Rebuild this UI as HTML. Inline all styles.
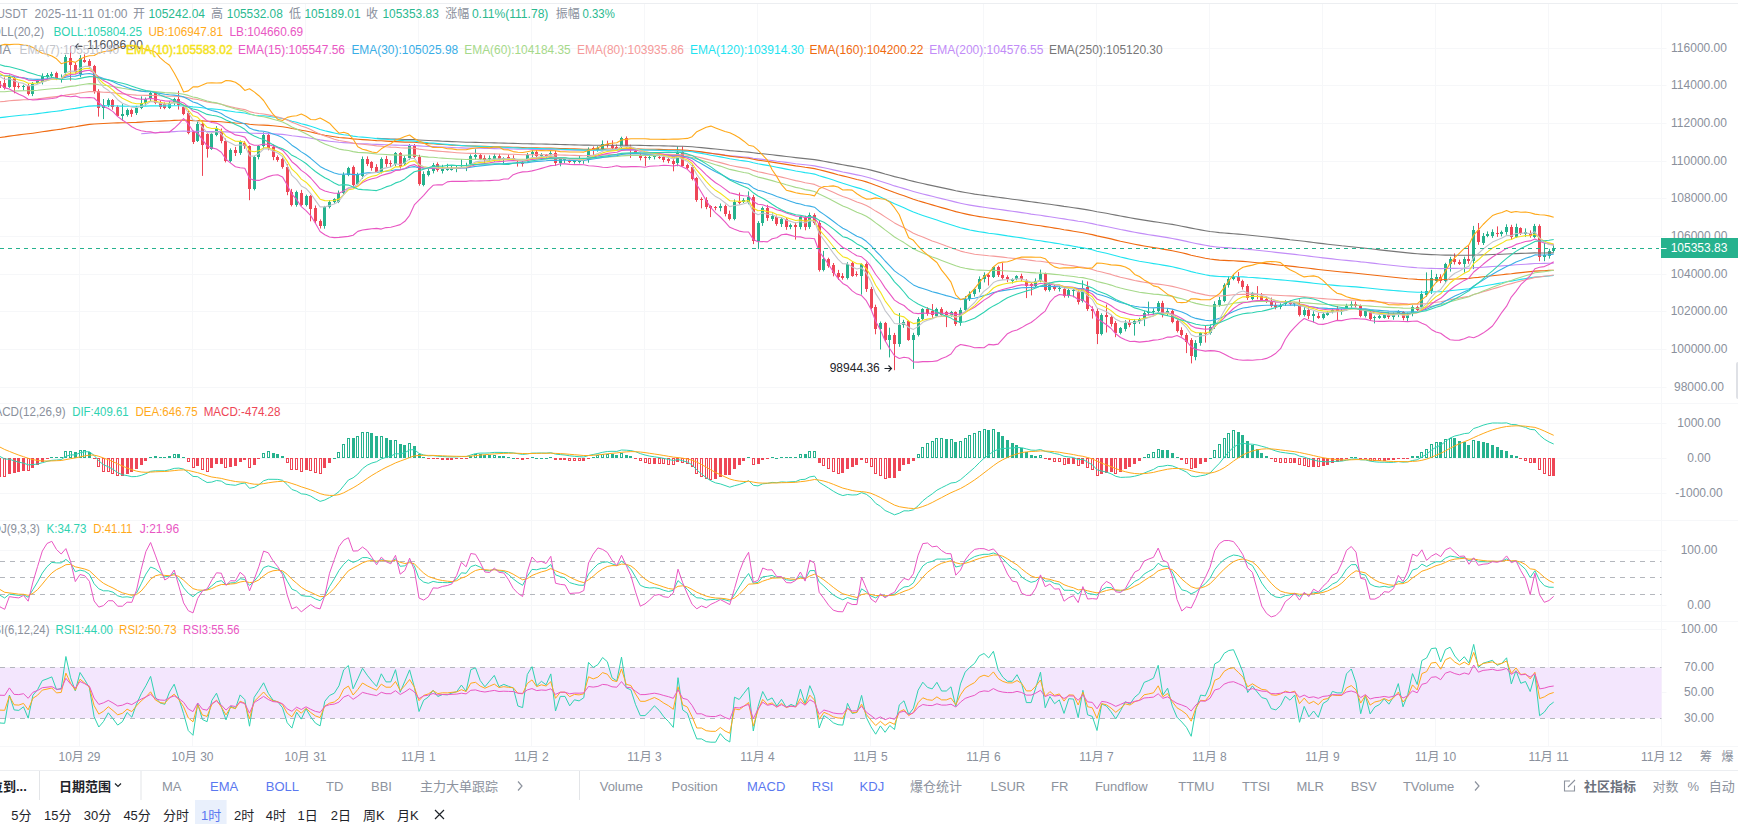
<!DOCTYPE html>
<html><head><meta charset="utf-8"><style>
html,body{margin:0;padding:0;background:#fff;}
body{width:1738px;height:824px;overflow:hidden;position:relative;}
</style></head><body>
<svg width="1738" height="824" viewBox="0 0 1738 824" style="position:absolute;left:0;top:0"><line x1="79.5" y1="4" x2="79.5" y2="746" stroke="#f6f7f9" stroke-width="1"/><line x1="192.5" y1="4" x2="192.5" y2="746" stroke="#f6f7f9" stroke-width="1"/><line x1="305.5" y1="4" x2="305.5" y2="746" stroke="#f6f7f9" stroke-width="1"/><line x1="418.5" y1="4" x2="418.5" y2="746" stroke="#f6f7f9" stroke-width="1"/><line x1="531.5" y1="4" x2="531.5" y2="746" stroke="#f6f7f9" stroke-width="1"/><line x1="644.5" y1="4" x2="644.5" y2="746" stroke="#f6f7f9" stroke-width="1"/><line x1="757.5" y1="4" x2="757.5" y2="746" stroke="#f6f7f9" stroke-width="1"/><line x1="870.5" y1="4" x2="870.5" y2="746" stroke="#f6f7f9" stroke-width="1"/><line x1="983.5" y1="4" x2="983.5" y2="746" stroke="#f6f7f9" stroke-width="1"/><line x1="1096.5" y1="4" x2="1096.5" y2="746" stroke="#f6f7f9" stroke-width="1"/><line x1="1209.5" y1="4" x2="1209.5" y2="746" stroke="#f6f7f9" stroke-width="1"/><line x1="1322.5" y1="4" x2="1322.5" y2="746" stroke="#f6f7f9" stroke-width="1"/><line x1="1435.5" y1="4" x2="1435.5" y2="746" stroke="#f6f7f9" stroke-width="1"/><line x1="1548.5" y1="4" x2="1548.5" y2="746" stroke="#f6f7f9" stroke-width="1"/><line x1="0" y1="48.5" x2="1666.5" y2="48.5" stroke="#f6f7f9" stroke-width="1"/><line x1="0" y1="85.5" x2="1666.5" y2="85.5" stroke="#f6f7f9" stroke-width="1"/><line x1="0" y1="123.5" x2="1666.5" y2="123.5" stroke="#f6f7f9" stroke-width="1"/><line x1="0" y1="161.5" x2="1666.5" y2="161.5" stroke="#f6f7f9" stroke-width="1"/><line x1="0" y1="198.5" x2="1666.5" y2="198.5" stroke="#f6f7f9" stroke-width="1"/><line x1="0" y1="236.5" x2="1666.5" y2="236.5" stroke="#f6f7f9" stroke-width="1"/><line x1="0" y1="274.5" x2="1666.5" y2="274.5" stroke="#f6f7f9" stroke-width="1"/><line x1="0" y1="311.5" x2="1666.5" y2="311.5" stroke="#f6f7f9" stroke-width="1"/><line x1="0" y1="349.5" x2="1666.5" y2="349.5" stroke="#f6f7f9" stroke-width="1"/><line x1="0" y1="387.5" x2="1666.5" y2="387.5" stroke="#f6f7f9" stroke-width="1"/><line x1="0" y1="423.5" x2="1666.5" y2="423.5" stroke="#f6f7f9" stroke-width="1"/><line x1="0" y1="458.5" x2="1666.5" y2="458.5" stroke="#f6f7f9" stroke-width="1"/><line x1="0" y1="493.5" x2="1666.5" y2="493.5" stroke="#f6f7f9" stroke-width="1"/><line x1="0" y1="550.5" x2="1666.5" y2="550.5" stroke="#f6f7f9" stroke-width="1"/><line x1="0" y1="605.5" x2="1666.5" y2="605.5" stroke="#f6f7f9" stroke-width="1"/><line x1="0" y1="629.5" x2="1666.5" y2="629.5" stroke="#f6f7f9" stroke-width="1"/><line x1="0" y1="692.5" x2="1666.5" y2="692.5" stroke="#f6f7f9" stroke-width="1"/><line x1="0" y1="403.5" x2="1738" y2="403.5" stroke="#f6f7f9" stroke-width="1"/><line x1="0" y1="520.5" x2="1738" y2="520.5" stroke="#f6f7f9" stroke-width="1"/><line x1="0" y1="621.5" x2="1738" y2="621.5" stroke="#f6f7f9" stroke-width="1"/><line x1="0" y1="746.5" x2="1738" y2="746.5" stroke="#f6f7f9" stroke-width="1"/><line x1="0" y1="3.5" x2="1738" y2="3.5" stroke="#eceef1" stroke-width="1"/><line x1="0" y1="770.5" x2="1738" y2="770.5" stroke="#eceef1" stroke-width="1"/><line x1="1661.5" y1="4" x2="1661.5" y2="746" stroke="#f6f7f9" stroke-width="1"/><rect x="0" y="667.4" width="1661.5" height="50.9" fill="#f3e6fd"/><line x1="0" y1="561.5" x2="1661.5" y2="561.5" stroke="#b4b7bd" stroke-width="1" stroke-dasharray="5,5"/><line x1="0" y1="577.5" x2="1661.5" y2="577.5" stroke="#b4b7bd" stroke-width="1" stroke-dasharray="5,5"/><line x1="0" y1="594.5" x2="1661.5" y2="594.5" stroke="#b4b7bd" stroke-width="1" stroke-dasharray="5,5"/><line x1="0" y1="667.5" x2="1661.5" y2="667.5" stroke="#b4b7bd" stroke-width="1" stroke-dasharray="5,5"/><line x1="0" y1="718.5" x2="1661.5" y2="718.5" stroke="#b4b7bd" stroke-width="1" stroke-dasharray="5,5"/><defs><clipPath id="cm"><rect x="0" y="4" width="1661.5" height="399"/></clipPath><clipPath id="cmacd"><rect x="0" y="404" width="1661.5" height="116"/></clipPath><clipPath id="ckdj"><rect x="0" y="521" width="1661.5" height="100"/></clipPath><clipPath id="crsi"><rect x="0" y="622" width="1661.5" height="124"/></clipPath></defs><g clip-path="url(#cm)"><line x1="-9.5" y1="72.1" x2="-9.5" y2="90.3" stroke="#ee4656" stroke-width="1"/><rect x="-11.0" y="74" width="3" height="9" fill="#ee4656"/><line x1="-4.5" y1="80.1" x2="-4.5" y2="85.2" stroke="#26b28e" stroke-width="1"/><rect x="-6.0" y="81" width="3" height="2" fill="#26b28e"/><line x1="-0.5" y1="79.8" x2="-0.5" y2="90.0" stroke="#ee4656" stroke-width="1"/><rect x="-2.0" y="81" width="3" height="7" fill="#ee4656"/><line x1="4.5" y1="77.4" x2="4.5" y2="89.6" stroke="#ee4656" stroke-width="1"/><rect x="3.0" y="83" width="3" height="5" fill="#ee4656"/><line x1="9.5" y1="74.5" x2="9.5" y2="87.9" stroke="#26b28e" stroke-width="1"/><rect x="8.0" y="77" width="3" height="10" fill="#26b28e"/><line x1="14.5" y1="76.8" x2="14.5" y2="93.3" stroke="#ee4656" stroke-width="1"/><rect x="13.0" y="78" width="3" height="9" fill="#ee4656"/><line x1="18.5" y1="83.1" x2="18.5" y2="88.5" stroke="#ee4656" stroke-width="1"/><rect x="17.0" y="86" width="3" height="1" fill="#ee4656"/><line x1="23.5" y1="84.8" x2="23.5" y2="90.4" stroke="#26b28e" stroke-width="1"/><rect x="22.0" y="86" width="3" height="1" fill="#26b28e"/><line x1="28.5" y1="83.7" x2="28.5" y2="95.4" stroke="#ee4656" stroke-width="1"/><rect x="27.0" y="86" width="3" height="8" fill="#ee4656"/><line x1="32.5" y1="82.0" x2="32.5" y2="96.1" stroke="#26b28e" stroke-width="1"/><rect x="31.0" y="84" width="3" height="10" fill="#26b28e"/><line x1="37.5" y1="79.5" x2="37.5" y2="83.7" stroke="#26b28e" stroke-width="1"/><rect x="36.0" y="81" width="3" height="2" fill="#26b28e"/><line x1="42.5" y1="73.4" x2="42.5" y2="84.4" stroke="#26b28e" stroke-width="1"/><rect x="41.0" y="76" width="3" height="6" fill="#26b28e"/><line x1="47.5" y1="73.0" x2="47.5" y2="79.7" stroke="#26b28e" stroke-width="1"/><rect x="46.0" y="75" width="3" height="2" fill="#26b28e"/><line x1="51.5" y1="71.9" x2="51.5" y2="78.8" stroke="#26b28e" stroke-width="1"/><rect x="50.0" y="74" width="3" height="2" fill="#26b28e"/><line x1="56.5" y1="71.7" x2="56.5" y2="80.1" stroke="#ee4656" stroke-width="1"/><rect x="55.0" y="73" width="3" height="5" fill="#ee4656"/><line x1="61.5" y1="74.4" x2="61.5" y2="82.6" stroke="#26b28e" stroke-width="1"/><rect x="60.0" y="78" width="3" height="1" fill="#26b28e"/><line x1="65.5" y1="54.8" x2="65.5" y2="75.0" stroke="#26b28e" stroke-width="1"/><rect x="64.0" y="57" width="3" height="16" fill="#26b28e"/><line x1="70.5" y1="46.1" x2="70.5" y2="80.6" stroke="#ee4656" stroke-width="1"/><rect x="69.0" y="58" width="3" height="7" fill="#ee4656"/><line x1="75.5" y1="62.4" x2="75.5" y2="73.7" stroke="#ee4656" stroke-width="1"/><rect x="74.0" y="65" width="3" height="7" fill="#ee4656"/><line x1="80.5" y1="55.1" x2="80.5" y2="77.1" stroke="#26b28e" stroke-width="1"/><rect x="79.0" y="58" width="3" height="16" fill="#26b28e"/><line x1="84.5" y1="54.4" x2="84.5" y2="62.8" stroke="#ee4656" stroke-width="1"/><rect x="83.0" y="60" width="3" height="2" fill="#ee4656"/><line x1="89.5" y1="59.1" x2="89.5" y2="67.5" stroke="#ee4656" stroke-width="1"/><rect x="88.0" y="61" width="3" height="5" fill="#ee4656"/><line x1="94.5" y1="64.9" x2="94.5" y2="93.7" stroke="#ee4656" stroke-width="1"/><rect x="93.0" y="66" width="3" height="25" fill="#ee4656"/><line x1="98.5" y1="89.2" x2="98.5" y2="116.6" stroke="#ee4656" stroke-width="1"/><rect x="97.0" y="91" width="3" height="17" fill="#ee4656"/><line x1="103.5" y1="99.0" x2="103.5" y2="119.1" stroke="#26b28e" stroke-width="1"/><rect x="102.0" y="105" width="3" height="3" fill="#26b28e"/><line x1="108.5" y1="98.4" x2="108.5" y2="107.1" stroke="#26b28e" stroke-width="1"/><rect x="107.0" y="100" width="3" height="5" fill="#26b28e"/><line x1="112.5" y1="99.0" x2="112.5" y2="109.7" stroke="#ee4656" stroke-width="1"/><rect x="111.0" y="100" width="3" height="7" fill="#ee4656"/><line x1="117.5" y1="105.4" x2="117.5" y2="116.6" stroke="#ee4656" stroke-width="1"/><rect x="116.0" y="107" width="3" height="9" fill="#ee4656"/><line x1="122.5" y1="104.1" x2="122.5" y2="120.6" stroke="#26b28e" stroke-width="1"/><rect x="121.0" y="114" width="3" height="2" fill="#26b28e"/><line x1="127.5" y1="108.5" x2="127.5" y2="116.6" stroke="#26b28e" stroke-width="1"/><rect x="126.0" y="110" width="3" height="5" fill="#26b28e"/><line x1="131.5" y1="108.6" x2="131.5" y2="116.9" stroke="#ee4656" stroke-width="1"/><rect x="130.0" y="110" width="3" height="4" fill="#ee4656"/><line x1="136.5" y1="105.9" x2="136.5" y2="115.0" stroke="#26b28e" stroke-width="1"/><rect x="135.0" y="108" width="3" height="5" fill="#26b28e"/><line x1="141.5" y1="96.4" x2="141.5" y2="109.2" stroke="#26b28e" stroke-width="1"/><rect x="140.0" y="103" width="3" height="5" fill="#26b28e"/><line x1="145.5" y1="97.5" x2="145.5" y2="105.6" stroke="#26b28e" stroke-width="1"/><rect x="144.0" y="99" width="3" height="4" fill="#26b28e"/><line x1="150.5" y1="91.1" x2="150.5" y2="101.2" stroke="#26b28e" stroke-width="1"/><rect x="149.0" y="93" width="3" height="6" fill="#26b28e"/><line x1="155.5" y1="92.0" x2="155.5" y2="104.2" stroke="#ee4656" stroke-width="1"/><rect x="154.0" y="93" width="3" height="10" fill="#ee4656"/><line x1="160.5" y1="100.4" x2="160.5" y2="109.0" stroke="#ee4656" stroke-width="1"/><rect x="159.0" y="103" width="3" height="4" fill="#ee4656"/><line x1="164.5" y1="102.4" x2="164.5" y2="109.2" stroke="#ee4656" stroke-width="1"/><rect x="163.0" y="104" width="3" height="4" fill="#ee4656"/><line x1="169.5" y1="101.4" x2="169.5" y2="108.9" stroke="#26b28e" stroke-width="1"/><rect x="168.0" y="103" width="3" height="5" fill="#26b28e"/><line x1="174.5" y1="97.8" x2="174.5" y2="105.2" stroke="#26b28e" stroke-width="1"/><rect x="173.0" y="99" width="3" height="4" fill="#26b28e"/><line x1="178.5" y1="90.9" x2="178.5" y2="109.6" stroke="#ee4656" stroke-width="1"/><rect x="177.0" y="99" width="3" height="6" fill="#ee4656"/><line x1="183.5" y1="104.9" x2="183.5" y2="115.2" stroke="#ee4656" stroke-width="1"/><rect x="182.0" y="107" width="3" height="7" fill="#ee4656"/><line x1="188.5" y1="110.9" x2="188.5" y2="134.3" stroke="#ee4656" stroke-width="1"/><rect x="187.0" y="113" width="3" height="20" fill="#ee4656"/><line x1="193.5" y1="130.6" x2="193.5" y2="144.0" stroke="#ee4656" stroke-width="1"/><rect x="192.0" y="132" width="3" height="10" fill="#ee4656"/><line x1="197.5" y1="121.4" x2="197.5" y2="142.0" stroke="#26b28e" stroke-width="1"/><rect x="196.0" y="124" width="3" height="17" fill="#26b28e"/><line x1="202.5" y1="121.6" x2="202.5" y2="175.9" stroke="#ee4656" stroke-width="1"/><rect x="201.0" y="124" width="3" height="21" fill="#ee4656"/><line x1="207.5" y1="133.2" x2="207.5" y2="157.6" stroke="#ee4656" stroke-width="1"/><rect x="206.0" y="134" width="3" height="15" fill="#ee4656"/><line x1="211.5" y1="132.7" x2="211.5" y2="149.9" stroke="#26b28e" stroke-width="1"/><rect x="210.0" y="134" width="3" height="15" fill="#26b28e"/><line x1="216.5" y1="126.1" x2="216.5" y2="136.3" stroke="#26b28e" stroke-width="1"/><rect x="215.0" y="128" width="3" height="7" fill="#26b28e"/><line x1="221.5" y1="128.5" x2="221.5" y2="143.3" stroke="#ee4656" stroke-width="1"/><rect x="220.0" y="131" width="3" height="10" fill="#ee4656"/><line x1="225.5" y1="138.5" x2="225.5" y2="162.4" stroke="#ee4656" stroke-width="1"/><rect x="224.0" y="141" width="3" height="20" fill="#ee4656"/><line x1="230.5" y1="148.4" x2="230.5" y2="162.5" stroke="#26b28e" stroke-width="1"/><rect x="229.0" y="150" width="3" height="11" fill="#26b28e"/><line x1="235.5" y1="146.9" x2="235.5" y2="156.0" stroke="#ee4656" stroke-width="1"/><rect x="234.0" y="150" width="3" height="3" fill="#ee4656"/><line x1="240.5" y1="140.4" x2="240.5" y2="154.9" stroke="#26b28e" stroke-width="1"/><rect x="239.0" y="142" width="3" height="11" fill="#26b28e"/><line x1="244.5" y1="141.2" x2="244.5" y2="148.9" stroke="#ee4656" stroke-width="1"/><rect x="243.0" y="143" width="3" height="3" fill="#ee4656"/><line x1="249.5" y1="145.4" x2="249.5" y2="200.2" stroke="#ee4656" stroke-width="1"/><rect x="248.0" y="146" width="3" height="43" fill="#ee4656"/><line x1="254.5" y1="155.6" x2="254.5" y2="190.4" stroke="#26b28e" stroke-width="1"/><rect x="253.0" y="157" width="3" height="32" fill="#26b28e"/><line x1="258.5" y1="145.0" x2="258.5" y2="159.4" stroke="#26b28e" stroke-width="1"/><rect x="257.0" y="146" width="3" height="11" fill="#26b28e"/><line x1="263.5" y1="132.3" x2="263.5" y2="148.5" stroke="#26b28e" stroke-width="1"/><rect x="262.0" y="135" width="3" height="11" fill="#26b28e"/><line x1="268.5" y1="132.4" x2="268.5" y2="150.3" stroke="#ee4656" stroke-width="1"/><rect x="267.0" y="135" width="3" height="13" fill="#ee4656"/><line x1="273.5" y1="144.4" x2="273.5" y2="160.2" stroke="#ee4656" stroke-width="1"/><rect x="272.0" y="147" width="3" height="10" fill="#ee4656"/><line x1="277.5" y1="155.4" x2="277.5" y2="161.8" stroke="#ee4656" stroke-width="1"/><rect x="276.0" y="157" width="3" height="3" fill="#ee4656"/><line x1="282.5" y1="157.6" x2="282.5" y2="168.7" stroke="#ee4656" stroke-width="1"/><rect x="281.0" y="159" width="3" height="8" fill="#ee4656"/><line x1="287.5" y1="164.2" x2="287.5" y2="195.2" stroke="#ee4656" stroke-width="1"/><rect x="286.0" y="167" width="3" height="25" fill="#ee4656"/><line x1="291.5" y1="188.9" x2="291.5" y2="206.4" stroke="#ee4656" stroke-width="1"/><rect x="290.0" y="192" width="3" height="13" fill="#ee4656"/><line x1="296.5" y1="190.6" x2="296.5" y2="206.7" stroke="#26b28e" stroke-width="1"/><rect x="295.0" y="192" width="3" height="13" fill="#26b28e"/><line x1="301.5" y1="189.9" x2="301.5" y2="205.9" stroke="#ee4656" stroke-width="1"/><rect x="300.0" y="193" width="3" height="12" fill="#ee4656"/><line x1="306.5" y1="194.6" x2="306.5" y2="206.4" stroke="#26b28e" stroke-width="1"/><rect x="305.0" y="196" width="3" height="9" fill="#26b28e"/><line x1="310.5" y1="195.0" x2="310.5" y2="221.3" stroke="#ee4656" stroke-width="1"/><rect x="309.0" y="196" width="3" height="13" fill="#ee4656"/><line x1="315.5" y1="205.5" x2="315.5" y2="223.0" stroke="#ee4656" stroke-width="1"/><rect x="314.0" y="208" width="3" height="13" fill="#ee4656"/><line x1="320.5" y1="219.4" x2="320.5" y2="228.5" stroke="#ee4656" stroke-width="1"/><rect x="319.0" y="221" width="3" height="5" fill="#ee4656"/><line x1="324.5" y1="205.9" x2="324.5" y2="228.7" stroke="#26b28e" stroke-width="1"/><rect x="323.0" y="207" width="3" height="19" fill="#26b28e"/><line x1="329.5" y1="200.1" x2="329.5" y2="208.4" stroke="#26b28e" stroke-width="1"/><rect x="328.0" y="202" width="3" height="5" fill="#26b28e"/><line x1="334.5" y1="198.2" x2="334.5" y2="203.6" stroke="#26b28e" stroke-width="1"/><rect x="333.0" y="199" width="3" height="3" fill="#26b28e"/><line x1="338.5" y1="190.5" x2="338.5" y2="203.1" stroke="#26b28e" stroke-width="1"/><rect x="337.0" y="193" width="3" height="9" fill="#26b28e"/><line x1="343.5" y1="172.3" x2="343.5" y2="194.5" stroke="#26b28e" stroke-width="1"/><rect x="342.0" y="175" width="3" height="18" fill="#26b28e"/><line x1="348.5" y1="166.8" x2="348.5" y2="176.2" stroke="#26b28e" stroke-width="1"/><rect x="347.0" y="168" width="3" height="7" fill="#26b28e"/><line x1="353.5" y1="165.5" x2="353.5" y2="188.4" stroke="#ee4656" stroke-width="1"/><rect x="352.0" y="167" width="3" height="18" fill="#ee4656"/><line x1="357.5" y1="172.7" x2="357.5" y2="185.1" stroke="#26b28e" stroke-width="1"/><rect x="356.0" y="174" width="3" height="10" fill="#26b28e"/><line x1="362.5" y1="156.5" x2="362.5" y2="179.0" stroke="#26b28e" stroke-width="1"/><rect x="361.0" y="159" width="3" height="17" fill="#26b28e"/><line x1="367.5" y1="156.4" x2="367.5" y2="166.1" stroke="#ee4656" stroke-width="1"/><rect x="366.0" y="159" width="3" height="5" fill="#ee4656"/><line x1="371.5" y1="161.2" x2="371.5" y2="170.7" stroke="#ee4656" stroke-width="1"/><rect x="370.0" y="162" width="3" height="6" fill="#ee4656"/><line x1="376.5" y1="164.2" x2="376.5" y2="172.9" stroke="#ee4656" stroke-width="1"/><rect x="375.0" y="167" width="3" height="5" fill="#ee4656"/><line x1="381.5" y1="157.4" x2="381.5" y2="173.4" stroke="#26b28e" stroke-width="1"/><rect x="380.0" y="159" width="3" height="13" fill="#26b28e"/><line x1="386.5" y1="155.9" x2="386.5" y2="166.9" stroke="#ee4656" stroke-width="1"/><rect x="385.0" y="159" width="3" height="5" fill="#ee4656"/><line x1="390.5" y1="160.3" x2="390.5" y2="167.0" stroke="#ee4656" stroke-width="1"/><rect x="389.0" y="163" width="3" height="1" fill="#ee4656"/><line x1="395.5" y1="152.0" x2="395.5" y2="166.3" stroke="#26b28e" stroke-width="1"/><rect x="394.0" y="153" width="3" height="11" fill="#26b28e"/><line x1="400.5" y1="152.1" x2="400.5" y2="168.5" stroke="#ee4656" stroke-width="1"/><rect x="399.0" y="153" width="3" height="14" fill="#ee4656"/><line x1="404.5" y1="156.1" x2="404.5" y2="165.7" stroke="#26b28e" stroke-width="1"/><rect x="403.0" y="158" width="3" height="6" fill="#26b28e"/><line x1="409.5" y1="144.0" x2="409.5" y2="160.1" stroke="#26b28e" stroke-width="1"/><rect x="408.0" y="146" width="3" height="12" fill="#26b28e"/><line x1="414.5" y1="144.0" x2="414.5" y2="158.5" stroke="#ee4656" stroke-width="1"/><rect x="413.0" y="146" width="3" height="11" fill="#ee4656"/><line x1="419.5" y1="154.8" x2="419.5" y2="185.7" stroke="#ee4656" stroke-width="1"/><rect x="418.0" y="157" width="3" height="27" fill="#ee4656"/><line x1="423.5" y1="171.4" x2="423.5" y2="186.3" stroke="#26b28e" stroke-width="1"/><rect x="422.0" y="174" width="3" height="11" fill="#26b28e"/><line x1="428.5" y1="168.3" x2="428.5" y2="176.4" stroke="#26b28e" stroke-width="1"/><rect x="427.0" y="171" width="3" height="4" fill="#26b28e"/><line x1="433.5" y1="162.9" x2="433.5" y2="173.4" stroke="#26b28e" stroke-width="1"/><rect x="432.0" y="165" width="3" height="6" fill="#26b28e"/><line x1="437.5" y1="162.4" x2="437.5" y2="171.7" stroke="#ee4656" stroke-width="1"/><rect x="436.0" y="164" width="3" height="6" fill="#ee4656"/><line x1="442.5" y1="164.8" x2="442.5" y2="173.5" stroke="#26b28e" stroke-width="1"/><rect x="441.0" y="169" width="3" height="2" fill="#26b28e"/><line x1="447.5" y1="163.8" x2="447.5" y2="170.8" stroke="#26b28e" stroke-width="1"/><rect x="446.0" y="169" width="3" height="1" fill="#26b28e"/><line x1="451.5" y1="165.0" x2="451.5" y2="170.6" stroke="#26b28e" stroke-width="1"/><rect x="450.0" y="168" width="3" height="2" fill="#26b28e"/><line x1="456.5" y1="165.4" x2="456.5" y2="172.2" stroke="#26b28e" stroke-width="1"/><rect x="455.0" y="168" width="3" height="1" fill="#26b28e"/><line x1="461.5" y1="159.3" x2="461.5" y2="167.4" stroke="#26b28e" stroke-width="1"/><rect x="460.0" y="165" width="3" height="1" fill="#26b28e"/><line x1="466.5" y1="162.7" x2="466.5" y2="171.1" stroke="#26b28e" stroke-width="1"/><rect x="465.0" y="167" width="3" height="1" fill="#26b28e"/><line x1="470.5" y1="154.4" x2="470.5" y2="166.1" stroke="#26b28e" stroke-width="1"/><rect x="469.0" y="156" width="3" height="8" fill="#26b28e"/><line x1="475.5" y1="149.2" x2="475.5" y2="159.4" stroke="#26b28e" stroke-width="1"/><rect x="474.0" y="155" width="3" height="2" fill="#26b28e"/><line x1="480.5" y1="153.7" x2="480.5" y2="159.7" stroke="#ee4656" stroke-width="1"/><rect x="479.0" y="155" width="3" height="4" fill="#ee4656"/><line x1="484.5" y1="155.3" x2="484.5" y2="163.1" stroke="#ee4656" stroke-width="1"/><rect x="483.0" y="158" width="3" height="2" fill="#ee4656"/><line x1="489.5" y1="155.4" x2="489.5" y2="161.1" stroke="#26b28e" stroke-width="1"/><rect x="488.0" y="158" width="3" height="1" fill="#26b28e"/><line x1="494.5" y1="153.7" x2="494.5" y2="161.7" stroke="#26b28e" stroke-width="1"/><rect x="493.0" y="156" width="3" height="3" fill="#26b28e"/><line x1="499.5" y1="153.8" x2="499.5" y2="160.4" stroke="#ee4656" stroke-width="1"/><rect x="498.0" y="156" width="3" height="3" fill="#ee4656"/><line x1="503.5" y1="157.2" x2="503.5" y2="163.6" stroke="#26b28e" stroke-width="1"/><rect x="502.0" y="158" width="3" height="1" fill="#26b28e"/><line x1="508.5" y1="154.5" x2="508.5" y2="160.1" stroke="#ee4656" stroke-width="1"/><rect x="507.0" y="157" width="3" height="2" fill="#ee4656"/><line x1="513.5" y1="155.3" x2="513.5" y2="160.5" stroke="#ee4656" stroke-width="1"/><rect x="512.0" y="158" width="3" height="1" fill="#ee4656"/><line x1="517.5" y1="160.8" x2="517.5" y2="166.6" stroke="#ee4656" stroke-width="1"/><rect x="516.0" y="162" width="3" height="1" fill="#ee4656"/><line x1="522.5" y1="159.8" x2="522.5" y2="166.6" stroke="#ee4656" stroke-width="1"/><rect x="521.0" y="163" width="3" height="1" fill="#ee4656"/><line x1="527.5" y1="153.0" x2="527.5" y2="161.3" stroke="#26b28e" stroke-width="1"/><rect x="526.0" y="155" width="3" height="4" fill="#26b28e"/><line x1="532.5" y1="150.3" x2="532.5" y2="157.0" stroke="#26b28e" stroke-width="1"/><rect x="531.0" y="152" width="3" height="2" fill="#26b28e"/><line x1="536.5" y1="150.2" x2="536.5" y2="159.0" stroke="#ee4656" stroke-width="1"/><rect x="535.0" y="152" width="3" height="4" fill="#ee4656"/><line x1="541.5" y1="153.1" x2="541.5" y2="158.1" stroke="#26b28e" stroke-width="1"/><rect x="540.0" y="155" width="3" height="1" fill="#26b28e"/><line x1="546.5" y1="154.0" x2="546.5" y2="157.8" stroke="#ee4656" stroke-width="1"/><rect x="545.0" y="155" width="3" height="1" fill="#ee4656"/><line x1="550.5" y1="150.4" x2="550.5" y2="156.3" stroke="#26b28e" stroke-width="1"/><rect x="549.0" y="153" width="3" height="1" fill="#26b28e"/><line x1="555.5" y1="150.8" x2="555.5" y2="166.0" stroke="#ee4656" stroke-width="1"/><rect x="554.0" y="153" width="3" height="10" fill="#ee4656"/><line x1="560.5" y1="157.0" x2="560.5" y2="166.3" stroke="#26b28e" stroke-width="1"/><rect x="559.0" y="159" width="3" height="4" fill="#26b28e"/><line x1="564.5" y1="157.9" x2="564.5" y2="163.2" stroke="#26b28e" stroke-width="1"/><rect x="563.0" y="159" width="3" height="1" fill="#26b28e"/><line x1="569.5" y1="159.3" x2="569.5" y2="163.2" stroke="#ee4656" stroke-width="1"/><rect x="568.0" y="161" width="3" height="1" fill="#ee4656"/><line x1="574.5" y1="158.4" x2="574.5" y2="163.7" stroke="#26b28e" stroke-width="1"/><rect x="573.0" y="161" width="3" height="1" fill="#26b28e"/><line x1="579.5" y1="155.6" x2="579.5" y2="163.4" stroke="#26b28e" stroke-width="1"/><rect x="578.0" y="161" width="3" height="1" fill="#26b28e"/><line x1="583.5" y1="158.6" x2="583.5" y2="163.8" stroke="#26b28e" stroke-width="1"/><rect x="582.0" y="160" width="3" height="1" fill="#26b28e"/><line x1="588.5" y1="147.4" x2="588.5" y2="162.7" stroke="#26b28e" stroke-width="1"/><rect x="587.0" y="149" width="3" height="11" fill="#26b28e"/><line x1="593.5" y1="146.5" x2="593.5" y2="155.4" stroke="#ee4656" stroke-width="1"/><rect x="592.0" y="148" width="3" height="2" fill="#ee4656"/><line x1="597.5" y1="146.2" x2="597.5" y2="151.7" stroke="#26b28e" stroke-width="1"/><rect x="596.0" y="148" width="3" height="2" fill="#26b28e"/><line x1="602.5" y1="140.4" x2="602.5" y2="149.8" stroke="#26b28e" stroke-width="1"/><rect x="601.0" y="144" width="3" height="5" fill="#26b28e"/><line x1="607.5" y1="140.7" x2="607.5" y2="147.6" stroke="#ee4656" stroke-width="1"/><rect x="606.0" y="144" width="3" height="1" fill="#ee4656"/><line x1="612.5" y1="140.4" x2="612.5" y2="150.0" stroke="#ee4656" stroke-width="1"/><rect x="611.0" y="145" width="3" height="3" fill="#ee4656"/><line x1="616.5" y1="144.5" x2="616.5" y2="149.9" stroke="#ee4656" stroke-width="1"/><rect x="615.0" y="147" width="3" height="2" fill="#ee4656"/><line x1="621.5" y1="136.7" x2="621.5" y2="148.2" stroke="#26b28e" stroke-width="1"/><rect x="620.0" y="138" width="3" height="9" fill="#26b28e"/><line x1="626.5" y1="136.4" x2="626.5" y2="147.6" stroke="#ee4656" stroke-width="1"/><rect x="625.0" y="138" width="3" height="9" fill="#ee4656"/><line x1="630.5" y1="144.7" x2="630.5" y2="157.9" stroke="#ee4656" stroke-width="1"/><rect x="629.0" y="147" width="3" height="1" fill="#ee4656"/><line x1="635.5" y1="148.0" x2="635.5" y2="153.8" stroke="#ee4656" stroke-width="1"/><rect x="634.0" y="151" width="3" height="2" fill="#ee4656"/><line x1="640.5" y1="152.8" x2="640.5" y2="160.4" stroke="#ee4656" stroke-width="1"/><rect x="639.0" y="156" width="3" height="2" fill="#ee4656"/><line x1="645.5" y1="156.1" x2="645.5" y2="166.2" stroke="#ee4656" stroke-width="1"/><rect x="644.0" y="157" width="3" height="1" fill="#ee4656"/><line x1="649.5" y1="155.5" x2="649.5" y2="159.7" stroke="#26b28e" stroke-width="1"/><rect x="648.0" y="157" width="3" height="1" fill="#26b28e"/><line x1="654.5" y1="153.7" x2="654.5" y2="159.4" stroke="#26b28e" stroke-width="1"/><rect x="653.0" y="156" width="3" height="1" fill="#26b28e"/><line x1="659.5" y1="155.5" x2="659.5" y2="159.1" stroke="#ee4656" stroke-width="1"/><rect x="658.0" y="157" width="3" height="1" fill="#ee4656"/><line x1="663.5" y1="154.5" x2="663.5" y2="162.3" stroke="#ee4656" stroke-width="1"/><rect x="662.0" y="157" width="3" height="3" fill="#ee4656"/><line x1="668.5" y1="157.1" x2="668.5" y2="163.2" stroke="#ee4656" stroke-width="1"/><rect x="667.0" y="159" width="3" height="2" fill="#ee4656"/><line x1="673.5" y1="158.5" x2="673.5" y2="171.3" stroke="#ee4656" stroke-width="1"/><rect x="672.0" y="161" width="3" height="3" fill="#ee4656"/><line x1="677.5" y1="146.4" x2="677.5" y2="166.3" stroke="#26b28e" stroke-width="1"/><rect x="676.0" y="152" width="3" height="11" fill="#26b28e"/><line x1="682.5" y1="146.4" x2="682.5" y2="166.6" stroke="#ee4656" stroke-width="1"/><rect x="681.0" y="152" width="3" height="14" fill="#ee4656"/><line x1="687.5" y1="163.6" x2="687.5" y2="169.4" stroke="#ee4656" stroke-width="1"/><rect x="686.0" y="165" width="3" height="3" fill="#ee4656"/><line x1="692.5" y1="165.0" x2="692.5" y2="180.4" stroke="#ee4656" stroke-width="1"/><rect x="691.0" y="167" width="3" height="12" fill="#ee4656"/><line x1="696.5" y1="176.9" x2="696.5" y2="201.8" stroke="#ee4656" stroke-width="1"/><rect x="695.0" y="178" width="3" height="22" fill="#ee4656"/><line x1="701.5" y1="197.3" x2="701.5" y2="208.3" stroke="#ee4656" stroke-width="1"/><rect x="700.0" y="199" width="3" height="1" fill="#ee4656"/><line x1="706.5" y1="197.2" x2="706.5" y2="209.2" stroke="#ee4656" stroke-width="1"/><rect x="705.0" y="200" width="3" height="7" fill="#ee4656"/><line x1="710.5" y1="205.3" x2="710.5" y2="217.1" stroke="#ee4656" stroke-width="1"/><rect x="709.0" y="206" width="3" height="2" fill="#ee4656"/><line x1="715.5" y1="206.0" x2="715.5" y2="210.3" stroke="#ee4656" stroke-width="1"/><rect x="714.0" y="207" width="3" height="1" fill="#ee4656"/><line x1="720.5" y1="203.5" x2="720.5" y2="211.3" stroke="#26b28e" stroke-width="1"/><rect x="719.0" y="206" width="3" height="2" fill="#26b28e"/><line x1="725.5" y1="204.6" x2="725.5" y2="216.4" stroke="#ee4656" stroke-width="1"/><rect x="724.0" y="206" width="3" height="8" fill="#ee4656"/><line x1="729.5" y1="210.6" x2="729.5" y2="220.4" stroke="#ee4656" stroke-width="1"/><rect x="728.0" y="214" width="3" height="5" fill="#ee4656"/><line x1="734.5" y1="199.4" x2="734.5" y2="220.3" stroke="#26b28e" stroke-width="1"/><rect x="733.0" y="202" width="3" height="17" fill="#26b28e"/><line x1="739.5" y1="192.6" x2="739.5" y2="204.5" stroke="#ee4656" stroke-width="1"/><rect x="738.0" y="202" width="3" height="1" fill="#ee4656"/><line x1="743.5" y1="198.2" x2="743.5" y2="203.0" stroke="#26b28e" stroke-width="1"/><rect x="742.0" y="200" width="3" height="2" fill="#26b28e"/><line x1="748.5" y1="191.4" x2="748.5" y2="204.3" stroke="#26b28e" stroke-width="1"/><rect x="747.0" y="197" width="3" height="5" fill="#26b28e"/><line x1="753.5" y1="194.8" x2="753.5" y2="244.1" stroke="#ee4656" stroke-width="1"/><rect x="752.0" y="197" width="3" height="44" fill="#ee4656"/><line x1="758.5" y1="221.1" x2="758.5" y2="249.1" stroke="#26b28e" stroke-width="1"/><rect x="757.0" y="223" width="3" height="18" fill="#26b28e"/><line x1="762.5" y1="206.5" x2="762.5" y2="225.9" stroke="#26b28e" stroke-width="1"/><rect x="761.0" y="208" width="3" height="15" fill="#26b28e"/><line x1="767.5" y1="204.9" x2="767.5" y2="220.9" stroke="#ee4656" stroke-width="1"/><rect x="766.0" y="208" width="3" height="10" fill="#ee4656"/><line x1="772.5" y1="213.5" x2="772.5" y2="221.0" stroke="#26b28e" stroke-width="1"/><rect x="771.0" y="216" width="3" height="3" fill="#26b28e"/><line x1="776.5" y1="215.5" x2="776.5" y2="225.8" stroke="#ee4656" stroke-width="1"/><rect x="775.0" y="217" width="3" height="7" fill="#ee4656"/><line x1="781.5" y1="217.9" x2="781.5" y2="227.0" stroke="#26b28e" stroke-width="1"/><rect x="780.0" y="219" width="3" height="5" fill="#26b28e"/><line x1="786.5" y1="217.8" x2="786.5" y2="229.8" stroke="#ee4656" stroke-width="1"/><rect x="785.0" y="219" width="3" height="8" fill="#ee4656"/><line x1="790.5" y1="223.5" x2="790.5" y2="229.2" stroke="#26b28e" stroke-width="1"/><rect x="789.0" y="225" width="3" height="2" fill="#26b28e"/><line x1="795.5" y1="222.5" x2="795.5" y2="239.6" stroke="#ee4656" stroke-width="1"/><rect x="794.0" y="225" width="3" height="2" fill="#ee4656"/><line x1="800.5" y1="215.7" x2="800.5" y2="229.3" stroke="#26b28e" stroke-width="1"/><rect x="799.0" y="217" width="3" height="10" fill="#26b28e"/><line x1="805.5" y1="215.7" x2="805.5" y2="230.3" stroke="#ee4656" stroke-width="1"/><rect x="804.0" y="217" width="3" height="10" fill="#ee4656"/><line x1="809.5" y1="212.6" x2="809.5" y2="228.9" stroke="#26b28e" stroke-width="1"/><rect x="808.0" y="215" width="3" height="12" fill="#26b28e"/><line x1="814.5" y1="213.3" x2="814.5" y2="224.7" stroke="#ee4656" stroke-width="1"/><rect x="813.0" y="215" width="3" height="8" fill="#ee4656"/><line x1="819.5" y1="220.7" x2="819.5" y2="271.6" stroke="#ee4656" stroke-width="1"/><rect x="818.0" y="223" width="3" height="47" fill="#ee4656"/><line x1="823.5" y1="250.9" x2="823.5" y2="271.4" stroke="#26b28e" stroke-width="1"/><rect x="822.0" y="259" width="3" height="11" fill="#26b28e"/><line x1="828.5" y1="257.7" x2="828.5" y2="267.7" stroke="#ee4656" stroke-width="1"/><rect x="827.0" y="259" width="3" height="7" fill="#ee4656"/><line x1="833.5" y1="263.0" x2="833.5" y2="276.3" stroke="#ee4656" stroke-width="1"/><rect x="832.0" y="265" width="3" height="8" fill="#ee4656"/><line x1="838.5" y1="269.9" x2="838.5" y2="280.0" stroke="#ee4656" stroke-width="1"/><rect x="837.0" y="273" width="3" height="4" fill="#ee4656"/><line x1="842.5" y1="273.1" x2="842.5" y2="279.7" stroke="#ee4656" stroke-width="1"/><rect x="841.0" y="276" width="3" height="2" fill="#ee4656"/><line x1="847.5" y1="262.2" x2="847.5" y2="279.5" stroke="#26b28e" stroke-width="1"/><rect x="846.0" y="264" width="3" height="14" fill="#26b28e"/><line x1="852.5" y1="261.3" x2="852.5" y2="276.8" stroke="#ee4656" stroke-width="1"/><rect x="851.0" y="263" width="3" height="13" fill="#ee4656"/><line x1="856.5" y1="271.3" x2="856.5" y2="276.6" stroke="#ee4656" stroke-width="1"/><rect x="855.0" y="274" width="3" height="1" fill="#ee4656"/><line x1="861.5" y1="263.3" x2="861.5" y2="294.6" stroke="#26b28e" stroke-width="1"/><rect x="860.0" y="264" width="3" height="12" fill="#26b28e"/><line x1="866.5" y1="262.4" x2="866.5" y2="291.9" stroke="#ee4656" stroke-width="1"/><rect x="865.0" y="264" width="3" height="25" fill="#ee4656"/><line x1="871.5" y1="286.9" x2="871.5" y2="309.3" stroke="#ee4656" stroke-width="1"/><rect x="870.0" y="289" width="3" height="19" fill="#ee4656"/><line x1="875.5" y1="304.7" x2="875.5" y2="334.3" stroke="#ee4656" stroke-width="1"/><rect x="874.0" y="307" width="3" height="22" fill="#ee4656"/><line x1="880.5" y1="321.5" x2="880.5" y2="349.5" stroke="#26b28e" stroke-width="1"/><rect x="879.0" y="323" width="3" height="6" fill="#26b28e"/><line x1="885.5" y1="321.9" x2="885.5" y2="342.0" stroke="#ee4656" stroke-width="1"/><rect x="884.0" y="323" width="3" height="17" fill="#ee4656"/><line x1="889.5" y1="327.7" x2="889.5" y2="357.4" stroke="#26b28e" stroke-width="1"/><rect x="888.0" y="335" width="3" height="5" fill="#26b28e"/><line x1="894.5" y1="332.9" x2="894.5" y2="370.2" stroke="#ee4656" stroke-width="1"/><rect x="893.0" y="335" width="3" height="9" fill="#ee4656"/><line x1="899.5" y1="313.1" x2="899.5" y2="346.8" stroke="#26b28e" stroke-width="1"/><rect x="898.0" y="325" width="3" height="19" fill="#26b28e"/><line x1="903.5" y1="319.8" x2="903.5" y2="327.8" stroke="#26b28e" stroke-width="1"/><rect x="902.0" y="322" width="3" height="3" fill="#26b28e"/><line x1="908.5" y1="320.1" x2="908.5" y2="340.8" stroke="#ee4656" stroke-width="1"/><rect x="907.0" y="321" width="3" height="19" fill="#ee4656"/><line x1="913.5" y1="332.8" x2="913.5" y2="368.9" stroke="#26b28e" stroke-width="1"/><rect x="912.0" y="335" width="3" height="5" fill="#26b28e"/><line x1="918.5" y1="317.1" x2="918.5" y2="336.5" stroke="#26b28e" stroke-width="1"/><rect x="917.0" y="319" width="3" height="16" fill="#26b28e"/><line x1="922.5" y1="308.2" x2="922.5" y2="320.2" stroke="#26b28e" stroke-width="1"/><rect x="921.0" y="309" width="3" height="10" fill="#26b28e"/><line x1="927.5" y1="307.2" x2="927.5" y2="315.8" stroke="#ee4656" stroke-width="1"/><rect x="926.0" y="309" width="3" height="5" fill="#ee4656"/><line x1="932.5" y1="304.0" x2="932.5" y2="317.8" stroke="#ee4656" stroke-width="1"/><rect x="931.0" y="311" width="3" height="4" fill="#ee4656"/><line x1="936.5" y1="307.7" x2="936.5" y2="316.8" stroke="#26b28e" stroke-width="1"/><rect x="935.0" y="309" width="3" height="7" fill="#26b28e"/><line x1="941.5" y1="307.2" x2="941.5" y2="315.8" stroke="#ee4656" stroke-width="1"/><rect x="940.0" y="309" width="3" height="6" fill="#ee4656"/><line x1="946.5" y1="310.8" x2="946.5" y2="327.1" stroke="#ee4656" stroke-width="1"/><rect x="945.0" y="312" width="3" height="3" fill="#ee4656"/><line x1="951.5" y1="310.9" x2="951.5" y2="316.7" stroke="#26b28e" stroke-width="1"/><rect x="950.0" y="312" width="3" height="3" fill="#26b28e"/><line x1="955.5" y1="311.4" x2="955.5" y2="325.9" stroke="#ee4656" stroke-width="1"/><rect x="954.0" y="312" width="3" height="12" fill="#ee4656"/><line x1="960.5" y1="307.7" x2="960.5" y2="325.8" stroke="#26b28e" stroke-width="1"/><rect x="959.0" y="310" width="3" height="13" fill="#26b28e"/><line x1="965.5" y1="296.1" x2="965.5" y2="311.7" stroke="#26b28e" stroke-width="1"/><rect x="964.0" y="299" width="3" height="11" fill="#26b28e"/><line x1="969.5" y1="291.4" x2="969.5" y2="301.0" stroke="#26b28e" stroke-width="1"/><rect x="968.0" y="294" width="3" height="5" fill="#26b28e"/><line x1="974.5" y1="287.9" x2="974.5" y2="296.6" stroke="#26b28e" stroke-width="1"/><rect x="973.0" y="289" width="3" height="5" fill="#26b28e"/><line x1="979.5" y1="276.4" x2="979.5" y2="292.3" stroke="#26b28e" stroke-width="1"/><rect x="978.0" y="279" width="3" height="10" fill="#26b28e"/><line x1="984.5" y1="272.4" x2="984.5" y2="282.4" stroke="#26b28e" stroke-width="1"/><rect x="983.0" y="275" width="3" height="4" fill="#26b28e"/><line x1="988.5" y1="273.9" x2="988.5" y2="285.5" stroke="#ee4656" stroke-width="1"/><rect x="987.0" y="275" width="3" height="2" fill="#ee4656"/><line x1="993.5" y1="266.6" x2="993.5" y2="278.0" stroke="#26b28e" stroke-width="1"/><rect x="992.0" y="267" width="3" height="10" fill="#26b28e"/><line x1="998.5" y1="265.7" x2="998.5" y2="277.0" stroke="#ee4656" stroke-width="1"/><rect x="997.0" y="267" width="3" height="8" fill="#ee4656"/><line x1="1002.5" y1="263.0" x2="1002.5" y2="279.7" stroke="#ee4656" stroke-width="1"/><rect x="1001.0" y="275" width="3" height="3" fill="#ee4656"/><line x1="1007.5" y1="275.3" x2="1007.5" y2="282.1" stroke="#ee4656" stroke-width="1"/><rect x="1006.0" y="277" width="3" height="2" fill="#ee4656"/><line x1="1012.5" y1="278.4" x2="1012.5" y2="283.5" stroke="#26b28e" stroke-width="1"/><rect x="1011.0" y="279" width="3" height="2" fill="#26b28e"/><line x1="1016.5" y1="275.2" x2="1016.5" y2="280.3" stroke="#26b28e" stroke-width="1"/><rect x="1015.0" y="276" width="3" height="3" fill="#26b28e"/><line x1="1021.5" y1="273.7" x2="1021.5" y2="281.3" stroke="#ee4656" stroke-width="1"/><rect x="1020.0" y="276" width="3" height="3" fill="#ee4656"/><line x1="1026.5" y1="279.3" x2="1026.5" y2="298.1" stroke="#ee4656" stroke-width="1"/><rect x="1025.0" y="281" width="3" height="5" fill="#ee4656"/><line x1="1031.5" y1="282.3" x2="1031.5" y2="295.4" stroke="#ee4656" stroke-width="1"/><rect x="1030.0" y="284" width="3" height="2" fill="#ee4656"/><line x1="1035.5" y1="278.4" x2="1035.5" y2="287.5" stroke="#26b28e" stroke-width="1"/><rect x="1034.0" y="281" width="3" height="5" fill="#26b28e"/><line x1="1040.5" y1="269.6" x2="1040.5" y2="282.1" stroke="#26b28e" stroke-width="1"/><rect x="1039.0" y="274" width="3" height="7" fill="#26b28e"/><line x1="1045.5" y1="272.6" x2="1045.5" y2="291.3" stroke="#ee4656" stroke-width="1"/><rect x="1044.0" y="274" width="3" height="16" fill="#ee4656"/><line x1="1049.5" y1="282.3" x2="1049.5" y2="291.6" stroke="#26b28e" stroke-width="1"/><rect x="1048.0" y="285" width="3" height="5" fill="#26b28e"/><line x1="1054.5" y1="284.1" x2="1054.5" y2="290.7" stroke="#ee4656" stroke-width="1"/><rect x="1053.0" y="287" width="3" height="2" fill="#ee4656"/><line x1="1059.5" y1="286.1" x2="1059.5" y2="291.5" stroke="#26b28e" stroke-width="1"/><rect x="1058.0" y="288" width="3" height="1" fill="#26b28e"/><line x1="1064.5" y1="287.7" x2="1064.5" y2="297.6" stroke="#ee4656" stroke-width="1"/><rect x="1063.0" y="289" width="3" height="7" fill="#ee4656"/><line x1="1068.5" y1="288.7" x2="1068.5" y2="297.7" stroke="#26b28e" stroke-width="1"/><rect x="1067.0" y="290" width="3" height="6" fill="#26b28e"/><line x1="1073.5" y1="289.0" x2="1073.5" y2="297.3" stroke="#26b28e" stroke-width="1"/><rect x="1072.0" y="290" width="3" height="1" fill="#26b28e"/><line x1="1078.5" y1="290.4" x2="1078.5" y2="304.5" stroke="#ee4656" stroke-width="1"/><rect x="1077.0" y="292" width="3" height="10" fill="#ee4656"/><line x1="1082.5" y1="280.4" x2="1082.5" y2="302.5" stroke="#26b28e" stroke-width="1"/><rect x="1081.0" y="288" width="3" height="13" fill="#26b28e"/><line x1="1087.5" y1="281.4" x2="1087.5" y2="310.9" stroke="#ee4656" stroke-width="1"/><rect x="1086.0" y="287" width="3" height="22" fill="#ee4656"/><line x1="1092.5" y1="306.4" x2="1092.5" y2="318.6" stroke="#ee4656" stroke-width="1"/><rect x="1091.0" y="309" width="3" height="2" fill="#ee4656"/><line x1="1097.5" y1="308.5" x2="1097.5" y2="344.1" stroke="#ee4656" stroke-width="1"/><rect x="1096.0" y="311" width="3" height="23" fill="#ee4656"/><line x1="1101.5" y1="313.3" x2="1101.5" y2="335.4" stroke="#26b28e" stroke-width="1"/><rect x="1100.0" y="315" width="3" height="19" fill="#26b28e"/><line x1="1106.5" y1="304.6" x2="1106.5" y2="332.5" stroke="#ee4656" stroke-width="1"/><rect x="1105.0" y="315" width="3" height="2" fill="#ee4656"/><line x1="1111.5" y1="314.8" x2="1111.5" y2="326.6" stroke="#ee4656" stroke-width="1"/><rect x="1110.0" y="317" width="3" height="7" fill="#ee4656"/><line x1="1115.5" y1="321.1" x2="1115.5" y2="337.2" stroke="#ee4656" stroke-width="1"/><rect x="1114.0" y="323" width="3" height="10" fill="#ee4656"/><line x1="1120.5" y1="327.0" x2="1120.5" y2="334.4" stroke="#26b28e" stroke-width="1"/><rect x="1119.0" y="328" width="3" height="5" fill="#26b28e"/><line x1="1125.5" y1="320.2" x2="1125.5" y2="331.4" stroke="#26b28e" stroke-width="1"/><rect x="1124.0" y="323" width="3" height="6" fill="#26b28e"/><line x1="1129.5" y1="319.9" x2="1129.5" y2="327.2" stroke="#ee4656" stroke-width="1"/><rect x="1128.0" y="323" width="3" height="2" fill="#ee4656"/><line x1="1134.5" y1="319.2" x2="1134.5" y2="335.6" stroke="#26b28e" stroke-width="1"/><rect x="1133.0" y="321" width="3" height="3" fill="#26b28e"/><line x1="1139.5" y1="317.8" x2="1139.5" y2="323.9" stroke="#26b28e" stroke-width="1"/><rect x="1138.0" y="319" width="3" height="2" fill="#26b28e"/><line x1="1144.5" y1="310.6" x2="1144.5" y2="326.1" stroke="#26b28e" stroke-width="1"/><rect x="1143.0" y="313" width="3" height="6" fill="#26b28e"/><line x1="1148.5" y1="301.6" x2="1148.5" y2="315.3" stroke="#26b28e" stroke-width="1"/><rect x="1147.0" y="312" width="3" height="1" fill="#26b28e"/><line x1="1153.5" y1="308.3" x2="1153.5" y2="314.2" stroke="#26b28e" stroke-width="1"/><rect x="1152.0" y="311" width="3" height="1" fill="#26b28e"/><line x1="1158.5" y1="301.1" x2="1158.5" y2="313.5" stroke="#26b28e" stroke-width="1"/><rect x="1157.0" y="303" width="3" height="8" fill="#26b28e"/><line x1="1162.5" y1="300.8" x2="1162.5" y2="317.4" stroke="#ee4656" stroke-width="1"/><rect x="1161.0" y="303" width="3" height="12" fill="#ee4656"/><line x1="1167.5" y1="308.3" x2="1167.5" y2="315.9" stroke="#26b28e" stroke-width="1"/><rect x="1166.0" y="311" width="3" height="2" fill="#26b28e"/><line x1="1172.5" y1="309.5" x2="1172.5" y2="323.3" stroke="#ee4656" stroke-width="1"/><rect x="1171.0" y="311" width="3" height="11" fill="#ee4656"/><line x1="1177.5" y1="318.1" x2="1177.5" y2="332.5" stroke="#ee4656" stroke-width="1"/><rect x="1176.0" y="321" width="3" height="10" fill="#ee4656"/><line x1="1181.5" y1="327.3" x2="1181.5" y2="336.6" stroke="#ee4656" stroke-width="1"/><rect x="1180.0" y="330" width="3" height="5" fill="#ee4656"/><line x1="1186.5" y1="333.0" x2="1186.5" y2="353.1" stroke="#ee4656" stroke-width="1"/><rect x="1185.0" y="335" width="3" height="7" fill="#ee4656"/><line x1="1191.5" y1="338.1" x2="1191.5" y2="363.4" stroke="#ee4656" stroke-width="1"/><rect x="1190.0" y="340" width="3" height="16" fill="#ee4656"/><line x1="1195.5" y1="340.1" x2="1195.5" y2="360.3" stroke="#26b28e" stroke-width="1"/><rect x="1194.0" y="343" width="3" height="14" fill="#26b28e"/><line x1="1200.5" y1="332.2" x2="1200.5" y2="345.7" stroke="#26b28e" stroke-width="1"/><rect x="1199.0" y="333" width="3" height="10" fill="#26b28e"/><line x1="1205.5" y1="325.5" x2="1205.5" y2="342.6" stroke="#ee4656" stroke-width="1"/><rect x="1204.0" y="333" width="3" height="1" fill="#ee4656"/><line x1="1210.5" y1="324.5" x2="1210.5" y2="334.6" stroke="#26b28e" stroke-width="1"/><rect x="1209.0" y="327" width="3" height="6" fill="#26b28e"/><line x1="1214.5" y1="301.3" x2="1214.5" y2="328.9" stroke="#26b28e" stroke-width="1"/><rect x="1213.0" y="304" width="3" height="23" fill="#26b28e"/><line x1="1219.5" y1="297.0" x2="1219.5" y2="306.7" stroke="#26b28e" stroke-width="1"/><rect x="1218.0" y="300" width="3" height="5" fill="#26b28e"/><line x1="1224.5" y1="283.3" x2="1224.5" y2="302.3" stroke="#26b28e" stroke-width="1"/><rect x="1223.0" y="285" width="3" height="16" fill="#26b28e"/><line x1="1228.5" y1="276.4" x2="1228.5" y2="287.6" stroke="#26b28e" stroke-width="1"/><rect x="1227.0" y="279" width="3" height="6" fill="#26b28e"/><line x1="1233.5" y1="274.7" x2="1233.5" y2="280.3" stroke="#26b28e" stroke-width="1"/><rect x="1232.0" y="277" width="3" height="2" fill="#26b28e"/><line x1="1238.5" y1="271.9" x2="1238.5" y2="283.4" stroke="#ee4656" stroke-width="1"/><rect x="1237.0" y="277" width="3" height="4" fill="#ee4656"/><line x1="1242.5" y1="279.7" x2="1242.5" y2="289.6" stroke="#ee4656" stroke-width="1"/><rect x="1241.0" y="281" width="3" height="6" fill="#ee4656"/><line x1="1247.5" y1="284.1" x2="1247.5" y2="299.9" stroke="#ee4656" stroke-width="1"/><rect x="1246.0" y="286" width="3" height="12" fill="#ee4656"/><line x1="1252.5" y1="291.9" x2="1252.5" y2="300.2" stroke="#26b28e" stroke-width="1"/><rect x="1251.0" y="293" width="3" height="6" fill="#26b28e"/><line x1="1257.5" y1="286.1" x2="1257.5" y2="299.3" stroke="#ee4656" stroke-width="1"/><rect x="1256.0" y="296" width="3" height="1" fill="#ee4656"/><line x1="1261.5" y1="293.0" x2="1261.5" y2="301.6" stroke="#ee4656" stroke-width="1"/><rect x="1260.0" y="296" width="3" height="4" fill="#ee4656"/><line x1="1266.5" y1="296.6" x2="1266.5" y2="302.9" stroke="#ee4656" stroke-width="1"/><rect x="1265.0" y="299" width="3" height="2" fill="#ee4656"/><line x1="1271.5" y1="297.6" x2="1271.5" y2="307.3" stroke="#ee4656" stroke-width="1"/><rect x="1270.0" y="301" width="3" height="5" fill="#ee4656"/><line x1="1275.5" y1="302.4" x2="1275.5" y2="309.3" stroke="#ee4656" stroke-width="1"/><rect x="1274.0" y="305" width="3" height="2" fill="#ee4656"/><line x1="1280.5" y1="303.3" x2="1280.5" y2="309.2" stroke="#26b28e" stroke-width="1"/><rect x="1279.0" y="305" width="3" height="2" fill="#26b28e"/><line x1="1285.5" y1="300.2" x2="1285.5" y2="305.9" stroke="#26b28e" stroke-width="1"/><rect x="1284.0" y="303" width="3" height="1" fill="#26b28e"/><line x1="1290.5" y1="300.4" x2="1290.5" y2="305.4" stroke="#ee4656" stroke-width="1"/><rect x="1289.0" y="303" width="3" height="1" fill="#ee4656"/><line x1="1294.5" y1="301.8" x2="1294.5" y2="306.4" stroke="#26b28e" stroke-width="1"/><rect x="1293.0" y="303" width="3" height="1" fill="#26b28e"/><line x1="1299.5" y1="299.4" x2="1299.5" y2="316.5" stroke="#ee4656" stroke-width="1"/><rect x="1298.0" y="304" width="3" height="11" fill="#ee4656"/><line x1="1304.5" y1="307.1" x2="1304.5" y2="316.5" stroke="#26b28e" stroke-width="1"/><rect x="1303.0" y="310" width="3" height="5" fill="#26b28e"/><line x1="1308.5" y1="307.3" x2="1308.5" y2="319.0" stroke="#ee4656" stroke-width="1"/><rect x="1307.0" y="310" width="3" height="6" fill="#ee4656"/><line x1="1313.5" y1="311.3" x2="1313.5" y2="322.4" stroke="#26b28e" stroke-width="1"/><rect x="1312.0" y="314" width="3" height="2" fill="#26b28e"/><line x1="1318.5" y1="312.5" x2="1318.5" y2="318.8" stroke="#ee4656" stroke-width="1"/><rect x="1317.0" y="316" width="3" height="2" fill="#ee4656"/><line x1="1323.5" y1="312.5" x2="1323.5" y2="319.4" stroke="#26b28e" stroke-width="1"/><rect x="1322.0" y="314" width="3" height="4" fill="#26b28e"/><line x1="1327.5" y1="311.3" x2="1327.5" y2="315.8" stroke="#26b28e" stroke-width="1"/><rect x="1326.0" y="313" width="3" height="2" fill="#26b28e"/><line x1="1332.5" y1="309.2" x2="1332.5" y2="313.4" stroke="#26b28e" stroke-width="1"/><rect x="1331.0" y="310" width="3" height="2" fill="#26b28e"/><line x1="1337.5" y1="306.0" x2="1337.5" y2="320.6" stroke="#ee4656" stroke-width="1"/><rect x="1336.0" y="309" width="3" height="2" fill="#ee4656"/><line x1="1341.5" y1="309.1" x2="1341.5" y2="314.8" stroke="#26b28e" stroke-width="1"/><rect x="1340.0" y="311" width="3" height="1" fill="#26b28e"/><line x1="1346.5" y1="303.8" x2="1346.5" y2="310.7" stroke="#26b28e" stroke-width="1"/><rect x="1345.0" y="306" width="3" height="2" fill="#26b28e"/><line x1="1351.5" y1="301.3" x2="1351.5" y2="307.7" stroke="#26b28e" stroke-width="1"/><rect x="1350.0" y="304" width="3" height="2" fill="#26b28e"/><line x1="1355.5" y1="301.5" x2="1355.5" y2="307.6" stroke="#ee4656" stroke-width="1"/><rect x="1354.0" y="304" width="3" height="2" fill="#ee4656"/><line x1="1360.5" y1="304.5" x2="1360.5" y2="317.3" stroke="#ee4656" stroke-width="1"/><rect x="1359.0" y="306" width="3" height="10" fill="#ee4656"/><line x1="1365.5" y1="309.2" x2="1365.5" y2="317.5" stroke="#26b28e" stroke-width="1"/><rect x="1364.0" y="311" width="3" height="5" fill="#26b28e"/><line x1="1370.5" y1="310.3" x2="1370.5" y2="320.9" stroke="#ee4656" stroke-width="1"/><rect x="1369.0" y="312" width="3" height="7" fill="#ee4656"/><line x1="1374.5" y1="315.6" x2="1374.5" y2="323.4" stroke="#26b28e" stroke-width="1"/><rect x="1373.0" y="317" width="3" height="1" fill="#26b28e"/><line x1="1379.5" y1="313.8" x2="1379.5" y2="318.9" stroke="#26b28e" stroke-width="1"/><rect x="1378.0" y="316" width="3" height="2" fill="#26b28e"/><line x1="1384.5" y1="314.1" x2="1384.5" y2="318.6" stroke="#26b28e" stroke-width="1"/><rect x="1383.0" y="315" width="3" height="3" fill="#26b28e"/><line x1="1388.5" y1="312.2" x2="1388.5" y2="319.0" stroke="#ee4656" stroke-width="1"/><rect x="1387.0" y="315" width="3" height="2" fill="#ee4656"/><line x1="1393.5" y1="312.5" x2="1393.5" y2="319.7" stroke="#26b28e" stroke-width="1"/><rect x="1392.0" y="315" width="3" height="2" fill="#26b28e"/><line x1="1398.5" y1="310.2" x2="1398.5" y2="317.1" stroke="#26b28e" stroke-width="1"/><rect x="1397.0" y="312" width="3" height="2" fill="#26b28e"/><line x1="1403.5" y1="311.1" x2="1403.5" y2="320.4" stroke="#ee4656" stroke-width="1"/><rect x="1402.0" y="312" width="3" height="6" fill="#ee4656"/><line x1="1407.5" y1="312.6" x2="1407.5" y2="321.1" stroke="#26b28e" stroke-width="1"/><rect x="1406.0" y="315" width="3" height="3" fill="#26b28e"/><line x1="1412.5" y1="305.3" x2="1412.5" y2="316.3" stroke="#26b28e" stroke-width="1"/><rect x="1411.0" y="307" width="3" height="7" fill="#26b28e"/><line x1="1417.5" y1="305.7" x2="1417.5" y2="311.5" stroke="#ee4656" stroke-width="1"/><rect x="1416.0" y="307" width="3" height="3" fill="#ee4656"/><line x1="1421.5" y1="290.9" x2="1421.5" y2="309.6" stroke="#26b28e" stroke-width="1"/><rect x="1420.0" y="294" width="3" height="13" fill="#26b28e"/><line x1="1426.5" y1="272.4" x2="1426.5" y2="296.8" stroke="#26b28e" stroke-width="1"/><rect x="1425.0" y="291" width="3" height="4" fill="#26b28e"/><line x1="1431.5" y1="269.9" x2="1431.5" y2="294.0" stroke="#26b28e" stroke-width="1"/><rect x="1430.0" y="278" width="3" height="13" fill="#26b28e"/><line x1="1436.5" y1="273.9" x2="1436.5" y2="282.8" stroke="#26b28e" stroke-width="1"/><rect x="1435.0" y="277" width="3" height="4" fill="#26b28e"/><line x1="1440.5" y1="274.3" x2="1440.5" y2="283.1" stroke="#ee4656" stroke-width="1"/><rect x="1439.0" y="277" width="3" height="4" fill="#ee4656"/><line x1="1445.5" y1="262.8" x2="1445.5" y2="283.3" stroke="#26b28e" stroke-width="1"/><rect x="1444.0" y="264" width="3" height="17" fill="#26b28e"/><line x1="1450.5" y1="256.8" x2="1450.5" y2="271.6" stroke="#26b28e" stroke-width="1"/><rect x="1449.0" y="259" width="3" height="5" fill="#26b28e"/><line x1="1454.5" y1="253.4" x2="1454.5" y2="264.5" stroke="#ee4656" stroke-width="1"/><rect x="1453.0" y="259" width="3" height="3" fill="#ee4656"/><line x1="1459.5" y1="259.7" x2="1459.5" y2="265.0" stroke="#ee4656" stroke-width="1"/><rect x="1458.0" y="262" width="3" height="2" fill="#ee4656"/><line x1="1464.5" y1="256.7" x2="1464.5" y2="272.6" stroke="#26b28e" stroke-width="1"/><rect x="1463.0" y="259" width="3" height="5" fill="#26b28e"/><line x1="1468.5" y1="245.4" x2="1468.5" y2="263.8" stroke="#ee4656" stroke-width="1"/><rect x="1467.0" y="259" width="3" height="2" fill="#ee4656"/><line x1="1473.5" y1="225.9" x2="1473.5" y2="269.1" stroke="#26b28e" stroke-width="1"/><rect x="1472.0" y="230" width="3" height="31" fill="#26b28e"/><line x1="1478.5" y1="223.0" x2="1478.5" y2="244.8" stroke="#ee4656" stroke-width="1"/><rect x="1477.0" y="230" width="3" height="12" fill="#ee4656"/><line x1="1483.5" y1="233.0" x2="1483.5" y2="245.0" stroke="#26b28e" stroke-width="1"/><rect x="1482.0" y="236" width="3" height="7" fill="#26b28e"/><line x1="1487.5" y1="231.4" x2="1487.5" y2="237.2" stroke="#26b28e" stroke-width="1"/><rect x="1486.0" y="234" width="3" height="2" fill="#26b28e"/><line x1="1492.5" y1="229.3" x2="1492.5" y2="237.9" stroke="#26b28e" stroke-width="1"/><rect x="1491.0" y="232" width="3" height="4" fill="#26b28e"/><line x1="1497.5" y1="226.4" x2="1497.5" y2="236.9" stroke="#ee4656" stroke-width="1"/><rect x="1496.0" y="233" width="3" height="1" fill="#ee4656"/><line x1="1501.5" y1="230.6" x2="1501.5" y2="236.4" stroke="#26b28e" stroke-width="1"/><rect x="1500.0" y="232" width="3" height="2" fill="#26b28e"/><line x1="1506.5" y1="224.3" x2="1506.5" y2="234.7" stroke="#26b28e" stroke-width="1"/><rect x="1505.0" y="227" width="3" height="5" fill="#26b28e"/><line x1="1511.5" y1="224.8" x2="1511.5" y2="239.7" stroke="#ee4656" stroke-width="1"/><rect x="1510.0" y="227" width="3" height="10" fill="#ee4656"/><line x1="1516.5" y1="223.7" x2="1516.5" y2="237.8" stroke="#26b28e" stroke-width="1"/><rect x="1515.0" y="227" width="3" height="10" fill="#26b28e"/><line x1="1520.5" y1="227.3" x2="1520.5" y2="234.9" stroke="#ee4656" stroke-width="1"/><rect x="1519.0" y="228" width="3" height="5" fill="#ee4656"/><line x1="1525.5" y1="228.4" x2="1525.5" y2="236.8" stroke="#26b28e" stroke-width="1"/><rect x="1524.0" y="232" width="3" height="2" fill="#26b28e"/><line x1="1530.5" y1="230.4" x2="1530.5" y2="237.6" stroke="#ee4656" stroke-width="1"/><rect x="1529.0" y="233" width="3" height="3" fill="#ee4656"/><line x1="1534.5" y1="223.9" x2="1534.5" y2="238.2" stroke="#26b28e" stroke-width="1"/><rect x="1533.0" y="226" width="3" height="11" fill="#26b28e"/><line x1="1539.5" y1="224.3" x2="1539.5" y2="261.2" stroke="#ee4656" stroke-width="1"/><rect x="1538.0" y="226" width="3" height="31" fill="#ee4656"/><line x1="1544.5" y1="243.0" x2="1544.5" y2="261.2" stroke="#26b28e" stroke-width="1"/><rect x="1543.0" y="255" width="3" height="2" fill="#26b28e"/><line x1="1549.5" y1="248.8" x2="1549.5" y2="258.6" stroke="#26b28e" stroke-width="1"/><rect x="1548.0" y="251" width="3" height="5" fill="#26b28e"/><line x1="1553.5" y1="244.9" x2="1553.5" y2="252.6" stroke="#26b28e" stroke-width="1"/><rect x="1552.0" y="249" width="3" height="2" fill="#26b28e"/></g><polyline clip-path="url(#cm)" fill="none" stroke="#767676" stroke-width="1.1" stroke-linejoin="round" points="376.6,138.4 381.3,138.6 386.0,138.8 390.8,139.0 395.5,139.1 400.2,139.3 404.9,139.5 409.6,139.5 414.3,139.6 419.0,140.0 423.7,140.3 428.4,140.5 433.1,140.7 437.8,140.9 442.5,141.2 447.3,141.4 452.0,141.6 456.7,141.8 461.4,142.0 466.1,142.2 470.8,142.3 475.5,142.4 480.2,142.5 484.9,142.7 489.6,142.8 494.3,142.9 499.0,143.0 503.8,143.1 508.5,143.3 513.2,143.4 517.9,143.5 522.6,143.7 527.3,143.8 532.0,143.9 536.7,144.0 541.4,144.0 546.1,144.1 550.8,144.2 555.5,144.4 560.3,144.5 565.0,144.6 569.7,144.7 574.4,144.9 579.1,145.0 583.8,145.1 588.5,145.1 593.2,145.2 597.9,145.2 602.6,145.2 607.3,145.2 612.0,145.2 616.8,145.2 621.5,145.2 626.2,145.2 630.9,145.2 635.6,145.3 640.3,145.4 645.0,145.5 649.7,145.6 654.4,145.7 659.1,145.8 663.8,145.9 668.5,146.0 673.3,146.1 678.0,146.2 682.7,146.3 687.4,146.5 692.1,146.8 696.8,147.2 701.5,147.6 706.2,148.1 710.9,148.6 715.6,149.0 720.3,149.5 725.0,150.0 729.8,150.6 734.5,151.0 739.2,151.4 743.9,151.8 748.6,152.1 753.3,152.8 758.0,153.4 762.7,153.8 767.4,154.3 772.1,154.8 776.8,155.4 781.5,155.9 786.3,156.5 791.0,157.0 795.7,157.6 800.4,158.1 805.1,158.6 809.8,159.1 814.5,159.6 819.2,160.4 823.9,161.2 828.6,162.1 833.3,163.0 838.0,163.9 842.8,164.8 847.5,165.6 852.2,166.4 856.9,167.3 861.6,168.1 866.3,169.0 871.0,170.1 875.7,171.4 880.4,172.6 885.1,174.0 889.8,175.2 894.5,176.6 899.3,177.8 904.0,178.9 908.7,180.2 913.4,181.4 918.1,182.5 922.8,183.5 927.5,184.6 932.2,185.6 936.9,186.6 941.6,187.6 946.3,188.6 951.0,189.6 955.8,190.7 960.5,191.6 965.2,192.5 969.9,193.3 974.6,194.1 979.3,194.7 984.0,195.4 988.7,196.0 993.4,196.6 998.1,197.2 1002.8,197.9 1007.5,198.5 1012.3,199.2 1017.0,199.8 1021.7,200.4 1026.4,201.1 1031.1,201.8 1035.8,202.4 1040.5,203.0 1045.2,203.7 1049.9,204.3 1054.6,205.0 1059.3,205.6 1064.0,206.4 1068.8,207.0 1073.5,207.7 1078.2,208.4 1082.9,209.1 1087.6,209.9 1092.3,210.7 1097.0,211.7 1101.7,212.5 1106.4,213.3 1111.1,214.2 1115.8,215.1 1120.5,216.0 1125.3,216.9 1130.0,217.8 1134.7,218.6 1139.4,219.4 1144.1,220.1 1148.8,220.9 1153.5,221.6 1158.2,222.2 1162.9,223.0 1167.6,223.7 1172.3,224.4 1177.0,225.3 1181.8,226.2 1186.5,227.1 1191.2,228.1 1195.9,229.0 1200.6,229.9 1205.3,230.7 1210.0,231.5 1214.7,232.0 1219.4,232.6 1224.1,233.0 1228.8,233.4 1233.5,233.7 1238.3,234.1 1243.0,234.5 1247.7,235.0 1252.4,235.5 1257.1,236.0 1261.8,236.5 1266.5,237.0 1271.2,237.5 1275.9,238.1 1280.6,238.6 1285.3,239.1 1290.0,239.7 1294.8,240.2 1299.5,240.7 1304.2,241.3 1308.9,241.9 1313.6,242.5 1318.3,243.1 1323.0,243.6 1327.7,244.2 1332.4,244.7 1337.1,245.2 1341.8,245.8 1346.5,246.2 1351.3,246.7 1356.0,247.2 1360.7,247.7 1365.4,248.2 1370.1,248.8 1374.8,249.3 1379.5,249.9 1384.2,250.4 1388.9,250.9 1393.6,251.4 1398.3,251.9 1403.0,252.4 1407.8,252.9 1412.5,253.4 1417.2,253.8 1421.9,254.1 1426.6,254.4 1431.3,254.6 1436.0,254.8 1440.7,255.0 1445.4,255.1 1450.1,255.1 1454.8,255.2 1459.5,255.2 1464.3,255.3 1469.0,255.3 1473.7,255.1 1478.4,255.0 1483.1,254.9 1487.8,254.7 1492.5,254.5 1497.2,254.4 1501.9,254.2 1506.6,254.0 1511.3,253.8 1516.0,253.6 1520.8,253.4 1525.5,253.3 1530.2,253.1 1534.9,252.9 1539.6,253.0 1544.3,253.0 1549.0,252.9 1553.7,252.9"/><polyline clip-path="url(#cm)" fill="none" stroke="#c28cf7" stroke-width="1.1" stroke-linejoin="round" points="141.2,133.7 145.9,133.4 150.6,133.0 155.3,132.7 160.0,132.4 164.8,132.2 169.5,131.9 174.2,131.6 178.9,131.3 183.6,131.1 188.3,131.2 193.0,131.3 197.7,131.2 202.4,131.3 207.1,131.5 211.8,131.5 216.5,131.5 221.3,131.6 226.0,131.9 230.7,132.1 235.4,132.3 240.1,132.4 244.8,132.5 249.5,133.1 254.2,133.3 258.9,133.4 263.6,133.4 268.3,133.6 273.0,133.8 277.8,134.1 282.5,134.4 287.2,135.0 291.9,135.7 296.6,136.2 301.3,136.9 306.0,137.5 310.7,138.2 315.4,139.0 320.1,139.9 324.8,140.6 329.5,141.2 334.3,141.8 339.0,142.3 343.7,142.6 348.4,142.9 353.1,143.3 357.8,143.6 362.5,143.7 367.2,143.9 371.9,144.2 376.6,144.4 381.3,144.6 386.0,144.8 390.8,145.0 395.5,145.1 400.2,145.3 404.9,145.4 409.6,145.4 414.3,145.5 419.0,145.9 423.7,146.2 428.4,146.4 433.1,146.6 437.8,146.9 442.5,147.1 447.3,147.3 452.0,147.5 456.7,147.7 461.4,147.9 466.1,148.1 470.8,148.1 475.5,148.2 480.2,148.3 484.9,148.4 489.6,148.5 494.3,148.6 499.0,148.7 503.8,148.8 508.5,148.9 513.2,149.0 517.9,149.1 522.6,149.3 527.3,149.3 532.0,149.4 536.7,149.4 541.4,149.5 546.1,149.5 550.8,149.6 555.5,149.7 560.3,149.8 565.0,149.9 569.7,150.0 574.4,150.1 579.1,150.2 583.8,150.3 588.5,150.3 593.2,150.3 597.9,150.3 602.6,150.2 607.3,150.2 612.0,150.2 616.8,150.1 621.5,150.0 626.2,150.0 630.9,150.0 635.6,150.0 640.3,150.1 645.0,150.2 649.7,150.2 654.4,150.3 659.1,150.4 663.8,150.5 668.5,150.6 673.3,150.7 678.0,150.7 682.7,150.8 687.4,151.0 692.1,151.3 696.8,151.8 701.5,152.3 706.2,152.8 710.9,153.4 715.6,153.9 720.3,154.4 725.0,155.0 729.8,155.7 734.5,156.1 739.2,156.6 743.9,157.0 748.6,157.4 753.3,158.3 758.0,158.9 762.7,159.4 767.4,160.0 772.1,160.5 776.8,161.2 781.5,161.7 786.3,162.4 791.0,163.0 795.7,163.7 800.4,164.2 805.1,164.8 809.8,165.3 814.5,165.9 819.2,166.9 823.9,167.8 828.6,168.8 833.3,169.9 838.0,170.9 842.8,172.0 847.5,172.9 852.2,173.9 856.9,174.9 861.6,175.8 866.3,177.0 871.0,178.3 875.7,179.8 880.4,181.2 885.1,182.8 889.8,184.3 894.5,185.9 899.3,187.2 904.0,188.6 908.7,190.1 913.4,191.5 918.1,192.8 922.8,194.0 927.5,195.1 932.2,196.3 936.9,197.5 941.6,198.6 946.3,199.8 951.0,200.9 955.8,202.1 960.5,203.2 965.2,204.2 969.9,205.1 974.6,205.9 979.3,206.6 984.0,207.3 988.7,208.0 993.4,208.6 998.1,209.2 1002.8,209.9 1007.5,210.6 1012.3,211.3 1017.0,211.9 1021.7,212.6 1026.4,213.3 1031.1,214.1 1035.8,214.7 1040.5,215.3 1045.2,216.1 1049.9,216.8 1054.6,217.5 1059.3,218.2 1064.0,218.9 1068.8,219.7 1073.5,220.4 1078.2,221.2 1082.9,221.8 1087.6,222.7 1092.3,223.6 1097.0,224.7 1101.7,225.6 1106.4,226.5 1111.1,227.5 1115.8,228.5 1120.5,229.5 1125.3,230.4 1130.0,231.4 1134.7,232.3 1139.4,233.1 1144.1,233.9 1148.8,234.7 1153.5,235.4 1158.2,236.1 1162.9,236.9 1167.6,237.6 1172.3,238.5 1177.0,239.4 1181.8,240.4 1186.5,241.4 1191.2,242.5 1195.9,243.5 1200.6,244.4 1205.3,245.3 1210.0,246.1 1214.7,246.7 1219.4,247.2 1224.1,247.6 1228.8,247.9 1233.5,248.2 1238.3,248.5 1243.0,248.9 1247.7,249.4 1252.4,249.8 1257.1,250.3 1261.8,250.8 1266.5,251.3 1271.2,251.8 1275.9,252.4 1280.6,252.9 1285.3,253.4 1290.0,253.9 1294.8,254.4 1299.5,255.0 1304.2,255.5 1308.9,256.1 1313.6,256.7 1318.3,257.3 1323.0,257.9 1327.7,258.4 1332.4,258.9 1337.1,259.5 1341.8,260.0 1346.5,260.4 1351.3,260.9 1356.0,261.3 1360.7,261.9 1365.4,262.3 1370.1,262.9 1374.8,263.4 1379.5,264.0 1384.2,264.5 1388.9,265.0 1393.6,265.5 1398.3,266.0 1403.0,266.5 1407.8,267.0 1412.5,267.4 1417.2,267.8 1421.9,268.0 1426.6,268.3 1431.3,268.4 1436.0,268.5 1440.7,268.6 1445.4,268.5 1450.1,268.4 1454.8,268.4 1459.5,268.3 1464.3,268.2 1469.0,268.2 1473.7,267.8 1478.4,267.5 1483.1,267.2 1487.8,266.9 1492.5,266.5 1497.2,266.2 1501.9,265.9 1506.6,265.5 1511.3,265.2 1516.0,264.8 1520.8,264.5 1525.5,264.2 1530.2,263.9 1534.9,263.5 1539.6,263.5 1544.3,263.4 1549.0,263.3 1553.7,263.1"/><polyline clip-path="url(#cm)" fill="none" stroke="#ef6a10" stroke-width="1.1" stroke-linejoin="round" points="-4.7,138.1 -0.0,137.5 4.7,136.9 9.4,136.1 14.1,135.5 18.8,134.9 23.5,134.3 28.2,133.8 32.9,133.2 37.6,132.5 42.3,131.8 47.0,131.1 51.8,130.4 56.5,129.8 61.2,129.1 65.9,128.2 70.6,127.4 75.3,126.8 80.0,125.9 84.7,125.1 89.4,124.4 94.1,124.0 98.8,123.8 103.5,123.5 108.3,123.2 113.0,123.0 117.7,122.9 122.4,122.8 127.1,122.7 131.8,122.5 136.5,122.4 141.2,122.1 145.9,121.8 150.6,121.5 155.3,121.3 160.0,121.1 164.8,120.9 169.5,120.7 174.2,120.4 178.9,120.2 183.6,120.1 188.3,120.3 193.0,120.6 197.7,120.6 202.4,120.9 207.1,121.3 211.8,121.4 216.5,121.5 221.3,121.7 226.0,122.2 230.7,122.6 235.4,123.0 240.1,123.2 244.8,123.5 249.5,124.3 254.2,124.7 258.9,125.0 263.6,125.1 268.3,125.4 273.0,125.8 277.8,126.2 282.5,126.7 287.2,127.5 291.9,128.5 296.6,129.3 301.3,130.2 306.0,131.0 310.7,132.0 315.4,133.1 320.1,134.2 324.8,135.2 329.5,136.0 334.3,136.8 339.0,137.5 343.7,137.9 348.4,138.3 353.1,138.9 357.8,139.3 362.5,139.6 367.2,139.9 371.9,140.2 376.6,140.6 381.3,140.8 386.0,141.1 390.8,141.4 395.5,141.6 400.2,141.9 404.9,142.1 409.6,142.1 414.3,142.3 419.0,142.8 423.7,143.2 428.4,143.6 433.1,143.8 437.8,144.2 442.5,144.5 447.3,144.8 452.0,145.1 456.7,145.3 461.4,145.6 466.1,145.8 470.8,146.0 475.5,146.1 480.2,146.2 484.9,146.4 489.6,146.6 494.3,146.7 499.0,146.8 503.8,147.0 508.5,147.1 513.2,147.2 517.9,147.4 522.6,147.6 527.3,147.7 532.0,147.8 536.7,147.9 541.4,148.0 546.1,148.1 550.8,148.1 555.5,148.3 560.3,148.5 565.0,148.6 569.7,148.8 574.4,148.9 579.1,149.1 583.8,149.2 588.5,149.2 593.2,149.2 597.9,149.2 602.6,149.1 607.3,149.1 612.0,149.1 616.8,149.1 621.5,148.9 626.2,148.9 630.9,148.9 635.6,148.9 640.3,149.0 645.0,149.2 649.7,149.3 654.4,149.3 659.1,149.4 663.8,149.6 668.5,149.7 673.3,149.9 678.0,149.9 682.7,150.1 687.4,150.3 692.1,150.7 696.8,151.3 701.5,151.9 706.2,152.6 710.9,153.3 715.6,154.0 720.3,154.6 725.0,155.4 729.8,156.1 734.5,156.7 739.2,157.3 743.9,157.8 748.6,158.3 753.3,159.3 758.0,160.1 762.7,160.7 767.4,161.4 772.1,162.1 776.8,162.9 781.5,163.6 786.3,164.4 791.0,165.1 795.7,165.9 800.4,166.5 805.1,167.3 809.8,167.9 814.5,168.6 819.2,169.8 823.9,170.9 828.6,172.1 833.3,173.4 838.0,174.7 842.8,175.9 847.5,177.0 852.2,178.3 856.9,179.5 861.6,180.5 866.3,181.9 871.0,183.4 875.7,185.3 880.4,187.0 885.1,188.9 889.8,190.7 894.5,192.6 899.3,194.2 904.0,195.8 908.7,197.6 913.4,199.3 918.1,200.8 922.8,202.1 927.5,203.5 932.2,204.9 936.9,206.2 941.6,207.6 946.3,208.9 951.0,210.2 955.8,211.6 960.5,212.8 965.2,213.9 969.9,214.9 974.6,215.8 979.3,216.6 984.0,217.3 988.7,218.0 993.4,218.7 998.1,219.4 1002.8,220.1 1007.5,220.8 1012.3,221.5 1017.0,222.2 1021.7,222.9 1026.4,223.7 1031.1,224.5 1035.8,225.2 1040.5,225.8 1045.2,226.6 1049.9,227.3 1054.6,228.1 1059.3,228.8 1064.0,229.7 1068.8,230.4 1073.5,231.2 1078.2,232.0 1082.9,232.7 1087.6,233.7 1092.3,234.6 1097.0,235.9 1101.7,236.9 1106.4,237.9 1111.1,238.9 1115.8,240.1 1120.5,241.2 1125.3,242.2 1130.0,243.2 1134.7,244.2 1139.4,245.1 1144.1,246.0 1148.8,246.8 1153.5,247.6 1158.2,248.3 1162.9,249.1 1167.6,249.9 1172.3,250.8 1177.0,251.8 1181.8,252.8 1186.5,253.9 1191.2,255.2 1195.9,256.3 1200.6,257.2 1205.3,258.2 1210.0,259.0 1214.7,259.6 1219.4,260.1 1224.1,260.4 1228.8,260.6 1233.5,260.8 1238.3,261.1 1243.0,261.4 1247.7,261.8 1252.4,262.2 1257.1,262.7 1261.8,263.1 1266.5,263.6 1271.2,264.1 1275.9,264.7 1280.6,265.2 1285.3,265.6 1290.0,266.1 1294.8,266.6 1299.5,267.2 1304.2,267.7 1308.9,268.3 1313.6,268.9 1318.3,269.5 1323.0,270.0 1327.7,270.5 1332.4,271.0 1337.1,271.5 1341.8,272.0 1346.5,272.4 1351.3,272.8 1356.0,273.3 1360.7,273.8 1365.4,274.2 1370.1,274.8 1374.8,275.3 1379.5,275.8 1384.2,276.3 1388.9,276.8 1393.6,277.3 1398.3,277.7 1403.0,278.2 1407.8,278.7 1412.5,279.0 1417.2,279.4 1421.9,279.6 1426.6,279.8 1431.3,279.7 1436.0,279.7 1440.7,279.7 1445.4,279.5 1450.1,279.3 1454.8,279.0 1459.5,278.9 1464.3,278.6 1469.0,278.4 1473.7,277.8 1478.4,277.4 1483.1,276.8 1487.8,276.3 1492.5,275.8 1497.2,275.2 1501.9,274.7 1506.6,274.1 1511.3,273.7 1516.0,273.1 1520.8,272.6 1525.5,272.1 1530.2,271.6 1534.9,271.1 1539.6,270.9 1544.3,270.7 1549.0,270.4 1553.7,270.2"/><polyline clip-path="url(#cm)" fill="none" stroke="#1fe3f0" stroke-width="1.1" stroke-linejoin="round" points="-4.7,118.1 -0.0,117.6 4.7,117.1 9.4,116.5 14.1,116.0 18.8,115.5 23.5,115.0 28.2,114.7 32.9,114.2 37.6,113.6 42.3,113.0 47.0,112.4 51.8,111.7 56.5,111.2 61.2,110.6 65.9,109.7 70.6,109.0 75.3,108.4 80.0,107.6 84.7,106.8 89.4,106.1 94.1,105.9 98.8,105.9 103.5,105.9 108.3,105.8 113.0,105.8 117.7,106.0 122.4,106.1 127.1,106.2 131.8,106.3 136.5,106.3 141.2,106.3 145.9,106.1 150.6,105.9 155.3,105.9 160.0,105.9 164.8,105.9 169.5,105.9 174.2,105.7 178.9,105.7 183.6,105.9 188.3,106.3 193.0,106.9 197.7,107.2 202.4,107.8 207.1,108.5 211.8,108.9 216.5,109.2 221.3,109.8 226.0,110.6 230.7,111.3 235.4,112.0 240.1,112.4 244.8,113.0 249.5,114.3 254.2,115.0 258.9,115.5 263.6,115.8 268.3,116.3 273.0,117.0 277.8,117.7 282.5,118.5 287.2,119.7 291.9,121.2 296.6,122.3 301.3,123.7 306.0,124.9 310.7,126.3 315.4,127.8 320.1,129.5 324.8,130.8 329.5,131.9 334.3,133.0 339.0,134.0 343.7,134.7 348.4,135.2 353.1,136.1 357.8,136.7 362.5,137.1 367.2,137.5 371.9,138.0 376.6,138.6 381.3,138.9 386.0,139.3 390.8,139.7 395.5,140.0 400.2,140.4 404.9,140.7 409.6,140.8 414.3,141.1 419.0,141.8 423.7,142.3 428.4,142.8 433.1,143.1 437.8,143.6 442.5,144.0 447.3,144.4 452.0,144.8 456.7,145.2 461.4,145.5 466.1,145.9 470.8,146.0 475.5,146.2 480.2,146.4 484.9,146.6 489.6,146.8 494.3,147.0 499.0,147.1 503.8,147.3 508.5,147.5 513.2,147.7 517.9,147.9 522.6,148.2 527.3,148.3 532.0,148.4 536.7,148.5 541.4,148.6 546.1,148.7 550.8,148.8 555.5,149.0 560.3,149.2 565.0,149.4 569.7,149.6 574.4,149.8 579.1,149.9 583.8,150.1 588.5,150.1 593.2,150.1 597.9,150.1 602.6,150.0 607.3,149.9 612.0,149.9 616.8,149.8 621.5,149.6 626.2,149.6 630.9,149.6 635.6,149.6 640.3,149.8 645.0,149.9 649.7,150.0 654.4,150.1 659.1,150.2 663.8,150.4 668.5,150.6 673.3,150.8 678.0,150.8 682.7,151.1 687.4,151.3 692.1,151.8 696.8,152.6 701.5,153.4 706.2,154.3 710.9,155.2 715.6,156.0 720.3,156.9 725.0,157.8 729.8,158.8 734.5,159.5 739.2,160.3 743.9,160.9 748.6,161.5 753.3,162.8 758.0,163.8 762.7,164.6 767.4,165.4 772.1,166.3 776.8,167.2 781.5,168.1 786.3,169.1 791.0,170.0 795.7,171.0 800.4,171.7 805.1,172.6 809.8,173.3 814.5,174.1 819.2,175.7 823.9,177.1 828.6,178.6 833.3,180.1 838.0,181.7 842.8,183.3 847.5,184.7 852.2,186.2 856.9,187.6 861.6,188.9 866.3,190.6 871.0,192.5 875.7,194.8 880.4,196.9 885.1,199.2 889.8,201.5 894.5,203.8 899.3,205.8 904.0,207.8 908.7,209.9 913.4,212.0 918.1,213.8 922.8,215.4 927.5,217.0 932.2,218.6 936.9,220.1 941.6,221.7 946.3,223.2 951.0,224.7 955.8,226.3 960.5,227.7 965.2,228.9 969.9,230.0 974.6,230.9 979.3,231.7 984.0,232.4 988.7,233.2 993.4,233.7 998.1,234.4 1002.8,235.1 1007.5,235.9 1012.3,236.6 1017.0,237.2 1021.7,237.9 1026.4,238.7 1031.1,239.5 1035.8,240.2 1040.5,240.8 1045.2,241.6 1049.9,242.3 1054.6,243.1 1059.3,243.8 1064.0,244.7 1068.8,245.4 1073.5,246.2 1078.2,247.1 1082.9,247.7 1087.6,248.8 1092.3,249.8 1097.0,251.2 1101.7,252.2 1106.4,253.3 1111.1,254.5 1115.8,255.8 1120.5,257.0 1125.3,258.1 1130.0,259.2 1134.7,260.2 1139.4,261.2 1144.1,262.0 1148.8,262.8 1153.5,263.6 1158.2,264.3 1162.9,265.1 1167.6,265.9 1172.3,266.8 1177.0,267.9 1181.8,269.0 1186.5,270.2 1191.2,271.6 1195.9,272.8 1200.6,273.8 1205.3,274.8 1210.0,275.6 1214.7,276.1 1219.4,276.5 1224.1,276.6 1228.8,276.7 1233.5,276.7 1238.3,276.8 1243.0,276.9 1247.7,277.3 1252.4,277.5 1257.1,277.9 1261.8,278.2 1266.5,278.6 1271.2,279.0 1275.9,279.5 1280.6,279.9 1285.3,280.3 1290.0,280.7 1294.8,281.1 1299.5,281.6 1304.2,282.1 1308.9,282.6 1313.6,283.2 1318.3,283.7 1323.0,284.2 1327.7,284.7 1332.4,285.1 1337.1,285.6 1341.8,286.0 1346.5,286.3 1351.3,286.6 1356.0,286.9 1360.7,287.4 1365.4,287.8 1370.1,288.3 1374.8,288.8 1379.5,289.2 1384.2,289.7 1388.9,290.1 1393.6,290.5 1398.3,290.9 1403.0,291.3 1407.8,291.7 1412.5,292.0 1417.2,292.3 1421.9,292.3 1426.6,292.3 1431.3,292.0 1436.0,291.8 1440.7,291.6 1445.4,291.2 1450.1,290.6 1454.8,290.2 1459.5,289.7 1464.3,289.2 1469.0,288.8 1473.7,287.8 1478.4,287.0 1483.1,286.2 1487.8,285.3 1492.5,284.5 1497.2,283.6 1501.9,282.8 1506.6,281.8 1511.3,281.1 1516.0,280.2 1520.8,279.4 1525.5,278.6 1530.2,277.9 1534.9,277.1 1539.6,276.7 1544.3,276.4 1549.0,276.0 1553.7,275.5"/><polyline clip-path="url(#cm)" fill="none" stroke="#f59a9a" stroke-width="1.1" stroke-linejoin="round" points="-4.7,102.1 -0.0,101.7 4.7,101.4 9.4,100.8 14.1,100.4 18.8,100.1 23.5,99.8 28.2,99.6 32.9,99.2 37.6,98.8 42.3,98.2 47.0,97.6 51.8,97.1 56.5,96.6 61.2,96.1 65.9,95.1 70.6,94.4 75.3,93.9 80.0,93.0 84.7,92.2 89.4,91.6 94.1,91.5 98.8,91.9 103.5,92.3 108.3,92.4 113.0,92.8 117.7,93.4 122.4,93.9 127.1,94.3 131.8,94.7 136.5,95.1 141.2,95.3 145.9,95.4 150.6,95.3 155.3,95.5 160.0,95.8 164.8,96.1 169.5,96.2 174.2,96.3 178.9,96.5 183.6,96.9 188.3,97.8 193.0,98.9 197.7,99.5 202.4,100.7 207.1,101.9 211.8,102.7 216.5,103.3 221.3,104.2 226.0,105.6 230.7,106.7 235.4,107.9 240.1,108.7 244.8,109.6 249.5,111.6 254.2,112.7 258.9,113.5 263.6,114.0 268.3,114.9 273.0,115.9 277.8,117.0 282.5,118.2 287.2,120.1 291.9,122.2 296.6,123.9 301.3,125.9 306.0,127.6 310.7,129.6 315.4,131.9 320.1,134.2 324.8,136.0 329.5,137.6 334.3,139.2 339.0,140.5 343.7,141.3 348.4,142.0 353.1,143.1 357.8,143.8 362.5,144.2 367.2,144.7 371.9,145.2 376.6,145.9 381.3,146.2 386.0,146.7 390.8,147.1 395.5,147.3 400.2,147.8 404.9,148.0 409.6,148.0 414.3,148.2 419.0,149.1 423.7,149.7 428.4,150.2 433.1,150.6 437.8,151.1 442.5,151.5 447.3,151.9 452.0,152.3 456.7,152.7 461.4,153.0 466.1,153.3 470.8,153.4 475.5,153.4 480.2,153.6 484.9,153.7 489.6,153.8 494.3,153.9 499.0,154.0 503.8,154.1 508.5,154.2 513.2,154.3 517.9,154.5 522.6,154.8 527.3,154.8 532.0,154.7 536.7,154.7 541.4,154.8 546.1,154.8 550.8,154.7 555.5,154.9 560.3,155.0 565.0,155.1 569.7,155.3 574.4,155.4 579.1,155.6 583.8,155.7 588.5,155.5 593.2,155.4 597.9,155.2 602.6,154.9 607.3,154.7 612.0,154.5 616.8,154.4 621.5,154.0 626.2,153.8 630.9,153.6 635.6,153.6 640.3,153.7 645.0,153.9 649.7,153.9 654.4,154.0 659.1,154.1 663.8,154.2 668.5,154.4 673.3,154.6 678.0,154.6 682.7,154.8 687.4,155.1 692.1,155.7 696.8,156.8 701.5,157.9 706.2,159.1 710.9,160.3 715.6,161.5 720.3,162.6 725.0,163.9 729.8,165.2 734.5,166.2 739.2,167.1 743.9,167.9 748.6,168.6 753.3,170.4 758.0,171.7 762.7,172.6 767.4,173.7 772.1,174.8 776.8,176.0 781.5,177.1 786.3,178.3 791.0,179.5 795.7,180.6 800.4,181.5 805.1,182.7 809.8,183.5 814.5,184.4 819.2,186.5 823.9,188.3 828.6,190.3 833.3,192.3 838.0,194.4 842.8,196.5 847.5,198.1 852.2,200.0 856.9,201.9 861.6,203.4 866.3,205.6 871.0,208.1 875.7,211.1 880.4,213.8 885.1,216.9 889.8,219.9 894.5,222.9 899.3,225.4 904.0,227.8 908.7,230.6 913.4,233.2 918.1,235.3 922.8,237.1 927.5,239.0 932.2,240.9 936.9,242.6 941.6,244.3 946.3,246.1 951.0,247.7 955.8,249.6 960.5,251.1 965.2,252.3 969.9,253.3 974.6,254.2 979.3,254.8 984.0,255.3 988.7,255.8 993.4,256.1 998.1,256.6 1002.8,257.1 1007.5,257.7 1012.3,258.2 1017.0,258.6 1021.7,259.1 1026.4,259.8 1031.1,260.4 1035.8,261.0 1040.5,261.3 1045.2,262.0 1049.9,262.6 1054.6,263.2 1059.3,263.8 1064.0,264.6 1068.8,265.2 1073.5,265.9 1078.2,266.7 1082.9,267.3 1087.6,268.3 1092.3,269.4 1097.0,271.0 1101.7,272.0 1106.4,273.2 1111.1,274.4 1115.8,275.9 1120.5,277.2 1125.3,278.3 1130.0,279.4 1134.7,280.5 1139.4,281.4 1144.1,282.2 1148.8,282.9 1153.5,283.6 1158.2,284.1 1162.9,284.8 1167.6,285.5 1172.3,286.4 1177.0,287.5 1181.8,288.7 1186.5,290.0 1191.2,291.6 1195.9,292.9 1200.6,293.9 1205.3,294.9 1210.0,295.7 1214.7,295.9 1219.4,296.0 1224.1,295.7 1228.8,295.3 1233.5,294.8 1238.3,294.5 1243.0,294.3 1247.7,294.4 1252.4,294.4 1257.1,294.4 1261.8,294.6 1266.5,294.7 1271.2,295.0 1275.9,295.3 1280.6,295.5 1285.3,295.7 1290.0,295.9 1294.8,296.1 1299.5,296.5 1304.2,296.9 1308.9,297.3 1313.6,297.8 1318.3,298.2 1323.0,298.6 1327.7,299.0 1332.4,299.3 1337.1,299.6 1341.8,299.8 1346.5,300.0 1351.3,300.1 1356.0,300.2 1360.7,300.6 1365.4,300.9 1370.1,301.3 1374.8,301.7 1379.5,302.1 1384.2,302.4 1388.9,302.8 1393.6,303.1 1398.3,303.3 1403.0,303.6 1407.8,303.9 1412.5,304.0 1417.2,304.1 1421.9,303.9 1426.6,303.6 1431.3,302.9 1436.0,302.3 1440.7,301.8 1445.4,300.8 1450.1,299.8 1454.8,298.9 1459.5,298.0 1464.3,297.1 1469.0,296.2 1473.7,294.5 1478.4,293.3 1483.1,291.8 1487.8,290.4 1492.5,289.0 1497.2,287.6 1501.9,286.3 1506.6,284.8 1511.3,283.6 1516.0,282.2 1520.8,281.0 1525.5,279.8 1530.2,278.7 1534.9,277.4 1539.6,276.9 1544.3,276.3 1549.0,275.7 1553.7,275.0"/><polyline clip-path="url(#cm)" fill="none" stroke="#a6d98a" stroke-width="1.1" stroke-linejoin="round" points="-4.7,91.9 -0.0,91.8 4.7,91.7 9.4,91.2 14.1,91.0 18.8,90.9 23.5,90.7 28.2,90.8 32.9,90.6 37.6,90.3 42.3,89.8 47.0,89.3 51.8,88.8 56.5,88.5 61.2,88.1 65.9,87.1 70.6,86.4 75.3,85.9 80.0,85.0 84.7,84.2 89.4,83.6 94.1,83.9 98.8,84.7 103.5,85.3 108.3,85.8 113.0,86.5 117.7,87.4 122.4,88.3 127.1,89.0 131.8,89.8 136.5,90.4 141.2,90.9 145.9,91.1 150.6,91.2 155.3,91.6 160.0,92.1 164.8,92.6 169.5,92.9 174.2,93.1 178.9,93.5 183.6,94.2 188.3,95.4 193.0,97.0 197.7,97.9 202.4,99.4 207.1,101.0 211.8,102.1 216.5,102.9 221.3,104.2 226.0,106.1 230.7,107.5 235.4,109.0 240.1,110.1 244.8,111.3 249.5,113.8 254.2,115.2 258.9,116.2 263.6,116.8 268.3,117.9 273.0,119.2 277.8,120.5 282.5,122.0 287.2,124.3 291.9,127.0 296.6,129.1 301.3,131.6 306.0,133.7 310.7,136.2 315.4,138.9 320.1,141.8 324.8,143.9 329.5,145.8 334.3,147.6 339.0,149.1 343.7,149.9 348.4,150.5 353.1,151.6 357.8,152.4 362.5,152.6 367.2,152.9 371.9,153.4 376.6,154.0 381.3,154.2 386.0,154.5 390.8,154.9 395.5,154.8 400.2,155.2 404.9,155.3 409.6,155.0 414.3,155.1 419.0,156.0 423.7,156.6 428.4,157.1 433.1,157.3 437.8,157.8 442.5,158.1 447.3,158.5 452.0,158.8 456.7,159.1 461.4,159.3 466.1,159.5 470.8,159.4 475.5,159.2 480.2,159.2 484.9,159.3 489.6,159.2 494.3,159.1 499.0,159.1 503.8,159.1 508.5,159.1 513.2,159.0 517.9,159.2 522.6,159.3 527.3,159.2 532.0,158.9 536.7,158.9 541.4,158.7 546.1,158.6 550.8,158.4 555.5,158.6 560.3,158.6 565.0,158.6 569.7,158.7 574.4,158.8 579.1,158.9 583.8,158.9 588.5,158.6 593.2,158.3 597.9,158.0 602.6,157.5 607.3,157.1 612.0,156.8 616.8,156.5 621.5,155.9 626.2,155.6 630.9,155.4 635.6,155.3 640.3,155.4 645.0,155.5 649.7,155.5 654.4,155.6 659.1,155.6 663.8,155.8 668.5,155.9 673.3,156.2 678.0,156.1 682.7,156.4 687.4,156.7 692.1,157.5 696.8,158.9 701.5,160.2 706.2,161.8 710.9,163.3 715.6,164.8 720.3,166.1 725.0,167.7 729.8,169.4 734.5,170.4 739.2,171.5 743.9,172.5 748.6,173.3 753.3,175.5 758.0,177.1 762.7,178.1 767.4,179.4 772.1,180.6 776.8,182.0 781.5,183.2 786.3,184.7 791.0,186.0 795.7,187.4 800.4,188.3 805.1,189.6 809.8,190.4 814.5,191.5 819.2,194.1 823.9,196.2 828.6,198.5 833.3,200.9 838.0,203.4 842.8,205.9 847.5,207.8 852.2,210.0 856.9,212.2 861.6,213.9 866.3,216.3 871.0,219.3 875.7,222.9 880.4,226.2 885.1,229.9 889.8,233.4 894.5,237.0 899.3,239.9 904.0,242.6 908.7,245.8 913.4,248.7 918.1,251.0 922.8,252.9 927.5,254.9 932.2,256.9 936.9,258.6 941.6,260.4 946.3,262.2 951.0,263.9 955.8,265.8 960.5,267.3 965.2,268.3 969.9,269.1 974.6,269.8 979.3,270.1 984.0,270.3 988.7,270.5 993.4,270.4 998.1,270.5 1002.8,270.8 1007.5,271.0 1012.3,271.3 1017.0,271.5 1021.7,271.7 1026.4,272.2 1031.1,272.6 1035.8,272.9 1040.5,273.0 1045.2,273.5 1049.9,273.9 1054.6,274.4 1059.3,274.8 1064.0,275.5 1068.8,276.0 1073.5,276.5 1078.2,277.3 1082.9,277.6 1087.6,278.7 1092.3,279.8 1097.0,281.5 1101.7,282.6 1106.4,283.8 1111.1,285.1 1115.8,286.7 1120.5,288.0 1125.3,289.2 1130.0,290.3 1134.7,291.3 1139.4,292.2 1144.1,292.9 1148.8,293.5 1153.5,294.1 1158.2,294.4 1162.9,295.1 1167.6,295.6 1172.3,296.4 1177.0,297.6 1181.8,298.8 1186.5,300.2 1191.2,302.0 1195.9,303.4 1200.6,304.4 1205.3,305.3 1210.0,306.0 1214.7,306.0 1219.4,305.8 1224.1,305.1 1228.8,304.2 1233.5,303.3 1238.3,302.6 1243.0,302.1 1247.7,302.0 1252.4,301.7 1257.1,301.5 1261.8,301.5 1266.5,301.4 1271.2,301.6 1275.9,301.8 1280.6,301.9 1285.3,301.9 1290.0,302.0 1294.8,302.0 1299.5,302.4 1304.2,302.7 1308.9,303.1 1313.6,303.5 1318.3,303.9 1323.0,304.2 1327.7,304.5 1332.4,304.7 1337.1,304.9 1341.8,305.1 1346.5,305.1 1351.3,305.1 1356.0,305.1 1360.7,305.5 1365.4,305.7 1370.1,306.1 1374.8,306.5 1379.5,306.8 1384.2,307.1 1388.9,307.4 1393.6,307.6 1398.3,307.8 1403.0,308.1 1407.8,308.3 1412.5,308.3 1417.2,308.4 1421.9,307.9 1426.6,307.3 1431.3,306.4 1436.0,305.4 1440.7,304.6 1445.4,303.3 1450.1,301.8 1454.8,300.5 1459.5,299.3 1464.3,298.0 1469.0,296.8 1473.7,294.6 1478.4,292.9 1483.1,291.0 1487.8,289.2 1492.5,287.3 1497.2,285.6 1501.9,283.8 1506.6,281.9 1511.3,280.5 1516.0,278.7 1520.8,277.2 1525.5,275.7 1530.2,274.4 1534.9,272.8 1539.6,272.3 1544.3,271.7 1549.0,271.0 1553.7,270.3"/><polyline clip-path="url(#cm)" fill="none" stroke="#3aaee6" stroke-width="1.1" stroke-linejoin="round" points="-4.7,74.1 -0.0,75.0 4.7,75.9 9.4,75.9 14.1,76.7 18.8,77.4 23.5,77.9 28.2,78.9 32.9,79.3 37.6,79.4 42.3,79.2 47.0,78.9 51.8,78.6 56.5,78.5 61.2,78.5 65.9,77.1 70.6,76.3 75.3,76.1 80.0,74.9 84.7,74.0 89.4,73.5 94.1,74.6 98.8,76.8 103.5,78.6 108.3,79.9 113.0,81.7 117.7,83.9 122.4,85.8 127.1,87.4 131.8,89.1 136.5,90.3 141.2,91.1 145.9,91.6 150.6,91.7 155.3,92.5 160.0,93.4 164.8,94.3 169.5,94.8 174.2,95.1 178.9,95.7 183.6,96.9 188.3,99.2 193.0,102.0 197.7,103.4 202.4,106.1 207.1,108.9 211.8,110.5 216.5,111.6 221.3,113.5 226.0,116.6 230.7,118.7 235.4,120.9 240.1,122.3 244.8,123.9 249.5,128.0 254.2,129.9 258.9,130.9 263.6,131.2 268.3,132.3 273.0,133.9 277.8,135.5 282.5,137.6 287.2,141.1 291.9,145.2 296.6,148.3 301.3,151.9 306.0,154.8 310.7,158.3 315.4,162.3 320.1,166.4 324.8,169.0 329.5,171.1 334.3,173.0 339.0,174.2 343.7,174.3 348.4,173.9 353.1,174.6 357.8,174.6 362.5,173.5 367.2,172.9 371.9,172.6 376.6,172.5 381.3,171.7 386.0,171.2 390.8,170.8 395.5,169.7 400.2,169.5 404.9,168.8 409.6,167.3 414.3,166.6 419.0,167.7 423.7,168.1 428.4,168.3 433.1,168.1 437.8,168.2 442.5,168.3 447.3,168.3 452.0,168.3 456.7,168.2 461.4,168.0 466.1,167.9 470.8,167.2 475.5,166.4 480.2,165.9 484.9,165.5 489.6,165.0 494.3,164.5 499.0,164.1 503.8,163.7 508.5,163.4 513.2,163.1 517.9,163.0 522.6,163.0 527.3,162.6 532.0,161.9 536.7,161.5 541.4,161.1 546.1,160.8 550.8,160.2 555.5,160.4 560.3,160.3 565.0,160.3 569.7,160.4 574.4,160.4 579.1,160.4 583.8,160.4 588.5,159.7 593.2,159.0 597.9,158.3 602.6,157.4 607.3,156.7 612.0,156.1 616.8,155.6 621.5,154.5 626.2,154.0 630.9,153.6 635.6,153.5 640.3,153.8 645.0,154.1 649.7,154.3 654.4,154.4 659.1,154.6 663.8,155.0 668.5,155.4 673.3,155.9 678.0,155.6 682.7,156.3 687.4,157.0 692.1,158.5 696.8,161.2 701.5,163.7 706.2,166.5 710.9,169.2 715.6,171.7 720.3,174.0 725.0,176.5 729.8,179.2 734.5,180.7 739.2,182.1 743.9,183.3 748.6,184.2 753.3,187.9 758.0,190.2 762.7,191.3 767.4,193.0 772.1,194.5 776.8,196.4 781.5,197.9 786.3,199.8 791.0,201.5 795.7,203.1 800.4,204.0 805.1,205.5 809.8,206.1 814.5,207.2 819.2,211.2 823.9,214.4 828.6,217.7 833.3,221.3 838.0,224.9 842.8,228.3 847.5,230.6 852.2,233.5 856.9,236.2 861.6,238.0 866.3,241.3 871.0,245.6 875.7,251.0 880.4,255.6 885.1,261.0 889.8,265.8 894.5,270.9 899.3,274.4 904.0,277.4 908.7,281.4 913.4,284.9 918.1,287.1 922.8,288.5 927.5,290.1 932.2,291.7 936.9,292.9 941.6,294.3 946.3,295.6 951.0,296.7 955.8,298.5 960.5,299.2 965.2,299.2 969.9,298.8 974.6,298.2 979.3,297.0 984.0,295.6 988.7,294.3 993.4,292.6 998.1,291.5 1002.8,290.6 1007.5,289.9 1012.3,289.2 1017.0,288.4 1021.7,287.7 1026.4,287.6 1031.1,287.5 1035.8,287.1 1040.5,286.3 1045.2,286.5 1049.9,286.4 1054.6,286.6 1059.3,286.7 1064.0,287.3 1068.8,287.4 1073.5,287.6 1078.2,288.5 1082.9,288.5 1087.6,289.8 1092.3,291.2 1097.0,294.0 1101.7,295.3 1106.4,296.7 1111.1,298.5 1115.8,300.7 1120.5,302.5 1125.3,303.8 1130.0,305.2 1134.7,306.2 1139.4,307.0 1144.1,307.4 1148.8,307.7 1153.5,307.9 1158.2,307.5 1162.9,308.0 1167.6,308.2 1172.3,309.1 1177.0,310.5 1181.8,312.1 1186.5,314.0 1191.2,316.7 1195.9,318.4 1200.6,319.4 1205.3,320.3 1210.0,320.7 1214.7,319.7 1219.4,318.4 1224.1,316.3 1228.8,313.8 1233.5,311.4 1238.3,309.5 1243.0,308.0 1247.7,307.4 1252.4,306.5 1257.1,305.9 1261.8,305.5 1266.5,305.2 1271.2,305.2 1275.9,305.3 1280.6,305.3 1285.3,305.2 1290.0,305.1 1294.8,304.9 1299.5,305.6 1304.2,305.8 1308.9,306.5 1313.6,307.0 1318.3,307.7 1323.0,308.1 1327.7,308.4 1332.4,308.5 1337.1,308.7 1341.8,308.8 1346.5,308.6 1351.3,308.3 1356.0,308.2 1360.7,308.7 1365.4,308.8 1370.1,309.5 1374.8,310.0 1379.5,310.4 1384.2,310.7 1388.9,311.1 1393.6,311.3 1398.3,311.4 1403.0,311.8 1407.8,312.0 1412.5,311.7 1417.2,311.6 1421.9,310.4 1426.6,309.2 1431.3,307.2 1436.0,305.2 1440.7,303.7 1445.4,301.1 1450.1,298.4 1454.8,296.1 1459.5,294.0 1464.3,291.7 1469.0,289.7 1473.7,285.9 1478.4,283.1 1483.1,280.1 1487.8,277.1 1492.5,274.2 1497.2,271.6 1501.9,269.1 1506.6,266.4 1511.3,264.5 1516.0,262.0 1520.8,260.2 1525.5,258.3 1530.2,256.9 1534.9,254.9 1539.6,255.0 1544.3,255.0 1549.0,254.7 1553.7,254.3"/><polyline clip-path="url(#cm)" fill="none" stroke="#e957c3" stroke-width="1.1" stroke-linejoin="round" points="-4.7,68.9 -0.0,71.3 4.7,73.4 9.4,73.8 14.1,75.5 18.8,77.0 23.5,78.1 28.2,80.1 32.9,80.5 37.6,80.6 42.3,80.0 47.0,79.4 51.8,78.7 56.5,78.6 61.2,78.5 65.9,75.8 70.6,74.5 75.3,74.2 80.0,72.2 84.7,70.9 89.4,70.2 94.1,72.8 98.8,77.2 103.5,80.6 108.3,83.0 113.0,86.0 117.7,89.7 122.4,92.7 127.1,94.9 131.8,97.3 136.5,98.6 141.2,99.2 145.9,99.2 150.6,98.4 155.3,99.0 160.0,100.0 164.8,100.9 169.5,101.1 174.2,100.8 178.9,101.3 183.6,102.9 188.3,106.7 193.0,111.1 197.7,112.7 202.4,116.8 207.1,120.8 211.8,122.5 216.5,123.1 221.3,125.4 226.0,129.8 230.7,132.3 235.4,134.9 240.1,135.8 244.8,137.1 249.5,143.6 254.2,145.2 258.9,145.3 263.6,144.0 268.3,144.5 273.0,146.1 277.8,147.8 282.5,150.2 287.2,155.4 291.9,161.7 296.6,165.5 301.3,170.4 306.0,173.6 310.7,178.0 315.4,183.4 320.1,188.8 324.8,191.0 329.5,192.3 334.3,193.2 339.0,193.2 343.7,190.9 348.4,188.0 353.1,187.7 357.8,186.0 362.5,182.5 367.2,180.2 371.9,178.7 376.6,177.8 381.3,175.5 386.0,174.1 390.8,172.9 395.5,170.5 400.2,170.1 404.9,168.5 409.6,165.7 414.3,164.6 419.0,167.0 423.7,167.9 428.4,168.3 433.1,167.9 437.8,168.2 442.5,168.2 447.3,168.3 452.0,168.3 456.7,168.2 461.4,167.8 466.1,167.6 470.8,166.2 475.5,164.8 480.2,164.0 484.9,163.5 489.6,162.9 494.3,162.0 499.0,161.6 503.8,161.2 508.5,160.8 513.2,160.6 517.9,160.8 522.6,161.1 527.3,160.4 532.0,159.4 536.7,159.0 541.4,158.5 546.1,158.2 550.8,157.5 555.5,158.2 560.3,158.3 565.0,158.4 569.7,158.8 574.4,159.1 579.1,159.3 583.8,159.5 588.5,158.1 593.2,157.0 597.9,156.0 602.6,154.5 607.3,153.4 612.0,152.7 616.8,152.2 621.5,150.4 626.2,150.0 630.9,149.6 635.6,150.0 640.3,151.1 645.0,152.0 649.7,152.6 654.4,153.1 659.1,153.6 663.8,154.4 668.5,155.3 673.3,156.3 678.0,155.7 682.7,157.0 687.4,158.3 692.1,160.9 696.8,165.9 701.5,170.2 706.2,174.8 710.9,179.0 715.6,182.7 720.3,185.6 725.0,189.1 729.8,192.8 734.5,193.9 739.2,195.1 743.9,195.8 748.6,196.0 753.3,201.6 758.0,204.3 762.7,204.7 767.4,206.4 772.1,207.5 776.8,209.7 781.5,210.9 786.3,212.9 791.0,214.5 795.7,216.1 800.4,216.2 805.1,217.6 809.8,217.2 814.5,217.9 819.2,224.5 823.9,228.8 828.6,233.4 833.3,238.4 838.0,243.2 842.8,247.5 847.5,249.6 852.2,252.9 856.9,255.7 861.6,256.8 866.3,260.9 871.0,266.7 875.7,274.5 880.4,280.5 885.1,287.9 889.8,293.8 894.5,300.1 899.3,303.2 904.0,305.5 908.7,309.8 913.4,313.0 918.1,313.6 922.8,313.1 927.5,313.2 932.2,313.4 936.9,312.9 941.6,313.2 946.3,313.4 951.0,313.3 955.8,314.6 960.5,314.0 965.2,312.1 969.9,309.8 974.6,307.3 979.3,303.7 984.0,300.1 988.7,297.2 993.4,293.5 998.1,291.1 1002.8,289.5 1007.5,288.2 1012.3,287.1 1017.0,285.8 1021.7,284.9 1026.4,285.0 1031.1,285.2 1035.8,284.7 1040.5,283.3 1045.2,284.2 1049.9,284.3 1054.6,284.9 1059.3,285.3 1064.0,286.6 1068.8,287.0 1073.5,287.4 1078.2,289.2 1082.9,289.0 1087.6,291.6 1092.3,294.0 1097.0,299.0 1101.7,301.0 1106.4,303.0 1111.1,305.7 1115.8,309.1 1120.5,311.5 1125.3,312.9 1130.0,314.4 1134.7,315.2 1139.4,315.7 1144.1,315.3 1148.8,314.9 1153.5,314.4 1158.2,312.9 1162.9,313.2 1167.6,312.9 1172.3,314.0 1177.0,316.1 1181.8,318.5 1186.5,321.4 1191.2,325.8 1195.9,327.9 1200.6,328.6 1205.3,329.3 1210.0,328.9 1214.7,325.8 1219.4,322.6 1224.1,317.9 1228.8,313.0 1233.5,308.5 1238.3,305.1 1243.0,302.8 1247.7,302.2 1252.4,301.1 1257.1,300.6 1261.8,300.5 1266.5,300.5 1271.2,301.2 1275.9,301.9 1280.6,302.3 1285.3,302.4 1290.0,302.6 1294.8,302.6 1299.5,304.1 1304.2,304.8 1308.9,306.2 1313.6,307.2 1318.3,308.5 1323.0,309.2 1327.7,309.7 1332.4,309.7 1337.1,309.9 1341.8,310.0 1346.5,309.5 1351.3,308.8 1356.0,308.5 1360.7,309.4 1365.4,309.6 1370.1,310.8 1374.8,311.6 1379.5,312.2 1384.2,312.6 1388.9,313.1 1393.6,313.3 1398.3,313.1 1403.0,313.8 1407.8,313.9 1412.5,313.0 1417.2,312.6 1421.9,310.3 1426.6,307.9 1431.3,304.2 1436.0,300.8 1440.7,298.3 1445.4,294.0 1450.1,289.7 1454.8,286.2 1459.5,283.4 1464.3,280.4 1469.0,277.9 1473.7,272.0 1478.4,268.3 1483.1,264.3 1487.8,260.5 1492.5,257.0 1497.2,254.1 1501.9,251.4 1506.6,248.3 1511.3,246.9 1516.0,244.4 1520.8,243.0 1525.5,241.5 1530.2,240.9 1534.9,239.0 1539.6,241.2 1544.3,242.9 1549.0,243.9 1553.7,244.5"/><polyline clip-path="url(#cm)" fill="none" stroke="#f4e21c" stroke-width="1.1" stroke-linejoin="round" points="-4.7,70.3 -0.0,73.5 4.7,76.2 9.4,76.3 14.1,78.2 18.8,79.9 23.5,81.0 28.2,83.3 32.9,83.4 37.6,83.0 42.3,81.7 47.0,80.5 51.8,79.3 56.5,79.1 61.2,78.8 65.9,74.8 70.6,73.1 75.3,73.0 80.0,70.2 84.7,68.6 89.4,68.2 94.1,72.3 98.8,78.8 103.5,83.5 108.3,86.4 113.0,90.1 117.7,94.8 122.4,98.3 127.1,100.4 131.8,102.8 136.5,103.8 141.2,103.7 145.9,102.8 150.6,101.0 155.3,101.4 160.0,102.4 164.8,103.3 169.5,103.2 174.2,102.4 178.9,102.9 183.6,104.9 188.3,110.0 193.0,115.8 197.7,117.3 202.4,122.4 207.1,127.3 211.8,128.5 216.5,128.3 221.3,130.6 226.0,136.2 230.7,138.7 235.4,141.3 240.1,141.4 244.8,142.3 249.5,150.7 254.2,151.8 258.9,150.8 263.6,147.9 268.3,147.9 273.0,149.6 277.8,151.4 282.5,154.2 287.2,161.1 291.9,169.2 296.6,173.4 301.3,179.1 306.0,182.2 310.7,187.0 315.4,193.2 320.1,199.2 324.8,200.6 329.5,200.8 334.3,200.5 339.0,199.1 343.7,194.7 348.4,189.8 353.1,189.0 357.8,186.3 362.5,181.3 367.2,178.1 371.9,176.2 376.6,175.4 381.3,172.5 386.0,171.0 390.8,169.8 395.5,166.8 400.2,166.9 404.9,165.3 409.6,161.7 414.3,160.9 419.0,165.1 423.7,166.7 428.4,167.5 433.1,167.0 437.8,167.6 442.5,167.8 447.3,168.0 452.0,168.0 456.7,167.9 461.4,167.4 466.1,167.3 470.8,165.2 475.5,163.3 480.2,162.4 484.9,162.1 489.6,161.4 494.3,160.4 499.0,160.1 503.8,159.7 508.5,159.5 513.2,159.4 517.9,160.0 522.6,160.5 527.3,159.6 532.0,158.3 536.7,157.9 541.4,157.4 546.1,157.1 550.8,156.3 555.5,157.5 560.3,157.8 565.0,158.0 569.7,158.8 574.4,159.1 579.1,159.5 583.8,159.6 588.5,157.6 593.2,156.2 597.9,154.8 602.6,152.9 607.3,151.5 612.0,150.9 616.8,150.4 621.5,148.2 626.2,147.9 630.9,147.8 635.6,148.7 640.3,150.5 645.0,151.9 649.7,152.9 654.4,153.5 659.1,154.2 663.8,155.2 668.5,156.3 673.3,157.7 678.0,156.6 682.7,158.2 687.4,159.9 692.1,163.5 696.8,170.2 701.5,175.7 706.2,181.4 710.9,186.3 715.6,190.3 720.3,193.2 725.0,196.9 729.8,200.8 734.5,201.0 739.2,201.4 743.9,201.3 748.6,200.6 753.3,208.0 758.0,210.7 762.7,210.2 767.4,211.6 772.1,212.3 776.8,214.5 781.5,215.4 786.3,217.6 791.0,219.0 795.7,220.5 800.4,219.9 805.1,221.2 809.8,220.0 814.5,220.5 819.2,229.6 823.9,235.0 828.6,240.5 833.3,246.5 838.0,252.1 842.8,256.7 847.5,258.1 852.2,261.3 856.9,263.8 861.6,263.9 866.3,268.6 871.0,275.7 875.7,285.3 880.4,292.1 885.1,300.8 889.8,307.0 894.5,313.8 899.3,315.8 904.0,316.9 908.7,321.0 913.4,323.6 918.1,322.7 922.8,320.2 927.5,319.1 932.2,318.3 936.9,316.7 941.6,316.4 946.3,316.1 951.0,315.4 955.8,317.0 960.5,315.7 965.2,312.7 969.9,309.2 974.6,305.6 979.3,300.7 984.0,296.1 988.7,292.6 993.4,288.0 998.1,285.6 1002.8,284.2 1007.5,283.3 1012.3,282.6 1017.0,281.4 1021.7,281.0 1026.4,281.9 1031.1,282.6 1035.8,282.4 1040.5,280.8 1045.2,282.6 1049.9,283.0 1054.6,284.2 1059.3,284.8 1064.0,286.8 1068.8,287.4 1073.5,287.8 1078.2,290.3 1082.9,290.0 1087.6,293.5 1092.3,296.7 1097.0,303.5 1101.7,305.5 1106.4,307.7 1111.1,310.6 1115.8,314.7 1120.5,317.2 1125.3,318.2 1130.0,319.4 1134.7,319.7 1139.4,319.5 1144.1,318.4 1148.8,317.2 1153.5,316.0 1158.2,313.6 1162.9,313.8 1167.6,313.4 1172.3,314.9 1177.0,317.8 1181.8,321.0 1186.5,324.7 1191.2,330.4 1195.9,332.7 1200.6,332.8 1205.3,333.0 1210.0,331.9 1214.7,326.8 1219.4,321.9 1224.1,315.3 1228.8,308.6 1233.5,302.8 1238.3,298.9 1243.0,296.7 1247.7,296.9 1252.4,296.3 1257.1,296.4 1261.8,297.0 1266.5,297.7 1271.2,299.2 1275.9,300.6 1280.6,301.5 1285.3,301.7 1290.0,302.1 1294.8,302.2 1299.5,304.5 1304.2,305.5 1308.9,307.4 1313.6,308.6 1318.3,310.2 1323.0,310.9 1327.7,311.3 1332.4,311.1 1337.1,311.1 1341.8,311.0 1346.5,310.0 1351.3,308.9 1356.0,308.5 1360.7,309.8 1365.4,310.0 1370.1,311.7 1374.8,312.7 1379.5,313.4 1384.2,313.7 1388.9,314.2 1393.6,314.4 1398.3,313.9 1403.0,314.7 1407.8,314.7 1412.5,313.3 1417.2,312.7 1421.9,309.3 1426.6,306.0 1431.3,300.9 1436.0,296.6 1440.7,293.8 1445.4,288.3 1450.1,283.0 1454.8,279.2 1459.5,276.4 1464.3,273.3 1469.0,271.0 1473.7,263.6 1478.4,259.8 1483.1,255.4 1487.8,251.6 1492.5,248.0 1497.2,245.5 1501.9,243.1 1506.6,240.2 1511.3,239.5 1516.0,237.3 1520.8,236.5 1525.5,235.6 1530.2,235.7 1534.9,234.0 1539.6,238.1 1544.3,241.1 1549.0,242.9 1553.7,244.0"/><polyline clip-path="url(#cm)" fill="none" stroke="#c3c5cb" stroke-width="1.1" stroke-linejoin="round" points="-4.7,72.7 -0.0,76.5 4.7,79.5 9.4,78.8 14.1,80.8 18.8,82.5 23.5,83.4 28.2,85.9 32.9,85.5 37.6,84.3 42.3,82.3 47.0,80.4 51.8,78.8 56.5,78.6 61.2,78.4 65.9,73.0 70.6,71.1 75.3,71.4 80.0,68.0 84.7,66.4 89.4,66.3 94.1,72.4 98.8,81.3 103.5,87.2 108.3,90.3 113.0,94.4 117.7,99.7 122.4,103.3 127.1,104.9 131.8,107.2 136.5,107.5 141.2,106.4 145.9,104.5 150.6,101.6 155.3,102.0 160.0,103.2 164.8,104.3 169.5,103.9 174.2,102.6 178.9,103.2 183.6,105.9 188.3,112.7 193.0,120.0 197.7,121.0 202.4,127.1 207.1,132.6 211.8,132.9 216.5,131.5 221.3,134.0 226.0,140.7 230.7,143.1 235.4,145.5 240.1,144.7 244.8,145.1 249.5,156.0 254.2,156.1 258.9,153.7 263.6,149.0 268.3,148.7 273.0,150.9 277.8,153.0 282.5,156.5 287.2,165.4 291.9,175.4 296.6,179.6 301.3,185.9 306.0,188.4 310.7,193.6 315.4,200.4 320.1,206.9 324.8,206.9 329.5,205.6 334.3,204.0 339.0,201.2 343.7,194.6 348.4,187.9 353.1,187.3 357.8,184.0 362.5,177.6 367.2,174.1 371.9,172.6 376.6,172.4 381.3,169.1 386.0,167.9 390.8,167.0 395.5,163.7 400.2,164.6 404.9,162.9 409.6,158.6 414.3,158.2 419.0,164.6 423.7,167.0 428.4,168.0 433.1,167.2 437.8,168.0 442.5,168.2 447.3,168.4 452.0,168.3 456.7,168.1 461.4,167.3 466.1,167.1 470.8,164.4 475.5,161.9 480.2,161.1 484.9,160.9 489.6,160.3 494.3,159.2 499.0,159.1 503.8,158.9 508.5,158.8 513.2,158.8 517.9,159.7 522.6,160.5 527.3,159.3 532.0,157.5 536.7,157.2 541.4,156.7 546.1,156.4 550.8,155.5 555.5,157.4 560.3,157.8 565.0,158.1 569.7,159.1 574.4,159.5 579.1,159.9 583.8,160.0 588.5,157.2 593.2,155.3 597.9,153.5 602.6,151.3 607.3,149.8 612.0,149.3 616.8,149.1 621.5,146.4 626.2,146.5 630.9,146.7 635.6,148.2 640.3,150.7 645.0,152.6 649.7,153.8 654.4,154.4 659.1,155.2 663.8,156.3 668.5,157.6 673.3,159.1 678.0,157.3 682.7,159.3 687.4,161.4 692.1,165.9 696.8,174.5 701.5,181.0 706.2,187.5 710.9,192.7 715.6,196.6 720.3,199.1 725.0,202.7 729.8,206.6 734.5,205.5 739.2,204.9 743.9,203.8 748.6,202.2 753.3,212.0 758.0,214.7 762.7,213.0 767.4,214.2 772.1,214.6 776.8,217.1 781.5,217.6 786.3,220.1 791.0,221.4 795.7,222.9 800.4,221.4 805.1,222.9 809.8,220.8 814.5,221.2 819.2,233.5 823.9,240.0 828.6,246.4 833.3,253.1 838.0,259.1 842.8,263.8 847.5,263.9 852.2,266.9 856.9,269.0 861.6,267.8 866.3,273.2 871.0,281.8 875.7,293.6 880.4,300.9 885.1,310.6 889.8,316.7 894.5,323.5 899.3,323.9 904.0,323.4 908.7,327.5 913.4,329.4 918.1,326.6 922.8,322.3 927.5,320.2 932.2,318.9 936.9,316.5 941.6,316.1 946.3,315.8 951.0,315.0 955.8,317.2 960.5,315.4 965.2,311.3 969.9,306.9 974.6,302.5 979.3,296.6 984.0,291.2 988.7,287.6 993.4,282.6 998.1,280.6 1002.8,279.9 1007.5,279.8 1012.3,279.7 1017.0,278.8 1021.7,278.9 1026.4,280.6 1031.1,282.0 1035.8,281.8 1040.5,279.8 1045.2,282.5 1049.9,283.1 1054.6,284.6 1059.3,285.4 1064.0,288.0 1068.8,288.5 1073.5,288.9 1078.2,292.0 1082.9,291.1 1087.6,295.7 1092.3,299.6 1097.0,308.1 1101.7,309.8 1106.4,311.7 1111.1,314.8 1115.8,319.3 1120.5,321.6 1125.3,321.9 1130.0,322.6 1134.7,322.2 1139.4,321.4 1144.1,319.3 1148.8,317.4 1153.5,315.8 1158.2,312.5 1162.9,313.1 1167.6,312.7 1172.3,314.9 1177.0,318.8 1181.8,323.0 1186.5,327.7 1191.2,334.8 1195.9,336.8 1200.6,335.9 1205.3,335.4 1210.0,333.3 1214.7,326.0 1219.4,319.5 1224.1,311.0 1228.8,302.9 1233.5,296.3 1238.3,292.6 1243.0,291.1 1247.7,292.8 1252.4,293.0 1257.1,293.9 1261.8,295.5 1266.5,296.8 1271.2,299.1 1275.9,301.0 1280.6,302.1 1285.3,302.2 1290.0,302.7 1294.8,302.7 1299.5,305.7 1304.2,306.7 1308.9,309.0 1313.6,310.3 1318.3,312.1 1323.0,312.6 1327.7,312.7 1332.4,312.1 1337.1,311.8 1341.8,311.5 1346.5,310.1 1351.3,308.6 1356.0,308.0 1360.7,310.0 1365.4,310.2 1370.1,312.5 1374.8,313.7 1379.5,314.4 1384.2,314.5 1388.9,315.1 1393.6,315.1 1398.3,314.2 1403.0,315.2 1407.8,315.2 1412.5,313.1 1417.2,312.3 1421.9,307.7 1426.6,303.6 1431.3,297.2 1436.0,292.1 1440.7,289.4 1445.4,283.0 1450.1,277.0 1454.8,273.3 1459.5,271.0 1464.3,268.0 1469.0,266.2 1473.7,257.2 1478.4,253.5 1483.1,249.1 1487.8,245.4 1492.5,242.1 1497.2,240.1 1501.9,238.1 1506.6,235.4 1511.3,235.7 1516.0,233.5 1520.8,233.4 1525.5,232.9 1530.2,233.7 1534.9,231.8 1539.6,238.1 1544.3,242.2 1549.0,244.4 1553.7,245.5"/><polyline clip-path="url(#cm)" fill="none" stroke="#e957c3" stroke-width="1.1" stroke-linejoin="round" points="-4.7,79.6 -0.0,84.1 4.7,87.9 9.4,89.0 14.1,91.8 18.8,94.3 23.5,96.2 28.2,99.2 32.9,100.0 37.6,99.6 42.3,99.1 47.0,99.0 51.8,98.5 56.5,97.7 61.2,95.2 65.9,96.2 70.6,96.7 75.3,96.1 80.0,97.6 84.7,97.8 89.4,97.5 94.1,98.0 98.8,102.6 103.5,106.6 108.3,108.5 113.0,111.6 117.7,116.6 122.4,120.0 127.1,123.1 131.8,126.8 136.5,129.2 141.2,130.7 145.9,131.5 150.6,131.9 155.3,133.0 160.0,132.4 164.8,132.3 169.5,132.0 174.2,128.3 178.9,123.9 183.6,118.5 188.3,123.8 193.0,131.3 197.7,133.1 202.4,139.6 207.1,145.8 211.8,147.9 216.5,149.0 221.3,152.2 226.0,159.3 230.7,163.1 235.4,166.7 240.1,167.8 244.8,168.3 249.5,178.4 254.2,180.2 258.9,180.4 263.6,178.8 268.3,176.6 273.0,175.2 277.8,174.7 282.5,176.9 287.2,185.0 291.9,194.2 296.6,199.4 301.3,206.7 306.0,210.6 310.7,215.6 315.4,223.3 320.1,231.5 324.8,234.8 329.5,237.0 334.3,237.6 339.0,237.4 343.7,236.9 348.4,236.4 353.1,235.2 357.8,231.4 362.5,230.0 367.2,229.4 371.9,228.7 376.6,228.4 381.3,229.1 386.0,227.6 390.8,227.3 395.5,226.0 400.2,224.6 404.9,221.3 409.6,215.3 414.3,204.9 419.0,200.2 423.7,195.3 428.4,189.9 433.1,185.3 437.8,184.8 442.5,184.9 447.3,181.9 452.0,181.2 456.7,181.4 461.4,181.4 466.1,181.4 470.8,180.8 475.5,181.0 480.2,180.9 484.9,180.8 489.6,180.6 494.3,180.3 499.0,180.3 503.8,179.0 508.5,178.9 513.2,174.7 517.9,173.0 522.6,171.9 527.3,171.8 532.0,170.9 536.7,169.7 541.4,168.4 546.1,167.0 550.8,165.6 555.5,165.3 560.3,163.8 565.0,163.9 569.7,164.4 574.4,164.6 579.1,164.6 583.8,164.8 588.5,165.7 593.2,166.0 597.9,166.5 602.6,167.2 607.3,167.5 612.0,166.8 616.8,165.8 621.5,166.9 626.2,166.9 630.9,166.6 635.6,166.5 640.3,166.8 645.0,167.2 649.7,166.3 654.4,166.0 659.1,165.8 663.8,165.3 668.5,165.5 673.3,166.0 678.0,165.1 682.7,167.1 687.4,169.3 692.1,174.1 696.8,184.7 701.5,192.5 706.2,200.6 710.9,207.7 715.6,212.8 720.3,217.0 725.0,221.9 729.8,227.3 734.5,229.3 739.2,231.1 743.9,232.0 748.6,232.0 753.3,239.4 758.0,241.8 762.7,241.5 767.4,241.9 772.1,238.7 776.8,237.7 781.5,234.8 786.3,234.1 791.0,235.4 795.7,236.7 800.4,236.9 805.1,238.2 809.8,238.3 814.5,238.7 819.2,251.5 823.9,257.9 828.6,264.5 833.3,271.8 838.0,278.4 842.8,283.4 847.5,286.1 852.2,290.9 856.9,294.1 861.6,295.6 866.3,300.7 871.0,309.2 875.7,321.2 880.4,329.9 885.1,340.8 889.8,348.7 894.5,355.8 899.3,358.5 904.0,357.2 908.7,358.0 913.4,361.9 918.1,362.1 922.8,361.6 927.5,361.6 932.2,361.5 936.9,360.9 941.6,358.4 946.3,356.7 951.0,354.0 955.8,347.2 960.5,344.5 965.2,345.4 969.9,346.3 974.6,347.8 979.3,347.6 984.0,347.7 988.7,344.4 993.4,344.9 998.1,344.1 1002.8,338.9 1007.5,333.7 1012.3,331.2 1017.0,330.0 1021.7,327.6 1026.4,324.7 1031.1,322.5 1035.8,318.9 1040.5,314.8 1045.2,311.1 1049.9,302.2 1054.6,297.0 1059.3,294.5 1064.0,295.1 1068.8,295.2 1073.5,296.2 1078.2,299.5 1082.9,299.9 1087.6,303.7 1092.3,307.8 1097.0,318.4 1101.7,321.5 1106.4,324.7 1111.1,328.5 1115.8,333.8 1120.5,337.5 1125.3,339.8 1130.0,341.5 1134.7,341.4 1139.4,342.1 1144.1,341.6 1148.8,341.1 1153.5,340.1 1158.2,339.7 1162.9,338.7 1167.6,337.0 1172.3,337.1 1177.0,335.5 1181.8,337.7 1186.5,341.0 1191.2,346.8 1195.9,349.4 1200.6,350.3 1205.3,351.1 1210.0,350.6 1214.7,350.9 1219.4,351.7 1224.1,354.0 1228.8,356.6 1233.5,358.7 1238.3,359.8 1243.0,360.2 1247.7,360.1 1252.4,360.2 1257.1,359.8 1261.8,359.5 1266.5,358.4 1271.2,356.3 1275.9,353.2 1280.6,348.7 1285.3,339.2 1290.0,332.4 1294.8,327.1 1299.5,322.4 1304.2,318.5 1308.9,320.4 1313.6,322.1 1318.3,324.2 1323.0,324.4 1327.7,323.2 1332.4,321.7 1337.1,320.4 1341.8,320.6 1346.5,319.5 1351.3,318.8 1356.0,318.5 1360.7,319.0 1365.4,319.1 1370.1,320.5 1374.8,321.2 1379.5,321.4 1384.2,321.4 1388.9,321.1 1393.6,321.2 1398.3,321.2 1403.0,321.5 1407.8,321.6 1412.5,321.3 1417.2,321.1 1421.9,323.3 1426.6,325.3 1431.3,329.4 1436.0,332.0 1440.7,333.2 1445.4,336.8 1450.1,339.8 1454.8,340.2 1459.5,340.1 1464.3,338.7 1469.0,336.7 1473.7,337.8 1478.4,335.8 1483.1,333.1 1487.8,329.7 1492.5,326.0 1497.2,319.4 1501.9,312.3 1506.6,306.2 1511.3,297.1 1516.0,291.4 1520.8,284.7 1525.5,280.4 1530.2,275.6 1534.9,268.7 1539.6,267.3 1544.3,266.6 1549.0,264.6 1553.7,261.7"/><polyline clip-path="url(#cm)" fill="none" stroke="#ffa91a" stroke-width="1.1" stroke-linejoin="round" points="-4.7,47.4 -0.0,45.5 4.7,44.4 9.4,44.6 14.1,44.2 18.8,44.2 23.5,45.1 28.2,45.6 32.9,47.4 37.6,50.7 42.3,53.3 47.0,54.3 51.8,56.0 56.5,58.8 61.2,63.7 65.9,62.2 70.6,61.0 75.3,62.4 80.0,59.3 84.7,57.0 89.4,55.7 94.1,55.5 98.8,53.0 103.5,51.7 108.3,51.1 113.0,49.9 117.7,47.9 122.4,46.5 127.1,46.0 131.8,45.6 136.5,46.4 141.2,47.7 145.9,49.4 150.6,50.5 155.3,52.0 160.0,57.6 164.8,61.9 169.5,65.2 174.2,73.0 178.9,81.7 183.6,92.0 188.3,90.9 193.0,86.8 197.7,86.9 202.4,85.0 207.1,83.0 211.8,82.8 216.5,83.0 221.3,82.9 226.0,80.5 230.7,80.9 235.4,82.2 240.1,85.5 244.8,90.4 249.5,88.7 254.2,91.9 258.9,95.7 263.6,100.5 268.3,107.6 273.0,114.2 277.8,119.3 282.5,120.5 287.2,117.4 291.9,116.3 296.6,115.8 301.3,114.0 306.0,116.3 310.7,119.5 315.4,119.8 320.1,118.1 324.8,120.5 329.5,123.2 334.3,128.3 339.0,133.2 343.7,132.3 348.4,133.8 353.1,139.0 357.8,146.8 362.5,149.2 367.2,150.4 371.9,152.0 376.6,152.8 381.3,148.8 386.0,146.1 390.8,143.7 395.5,139.9 400.2,138.4 404.9,136.6 409.6,135.0 414.3,138.5 419.0,140.9 423.7,143.1 428.4,145.6 433.1,147.4 437.8,147.5 442.5,147.5 447.3,148.8 452.0,148.9 456.7,149.6 461.4,149.7 466.1,149.7 470.8,148.6 475.5,148.0 480.2,147.5 484.9,147.2 489.6,147.9 494.3,147.0 499.0,147.1 503.8,149.7 508.5,149.9 513.2,151.6 517.9,152.2 522.6,152.5 527.3,151.7 532.0,150.8 536.7,150.7 541.4,150.6 546.1,150.8 550.8,150.6 555.5,150.8 560.3,151.6 565.0,151.8 569.7,152.0 574.4,152.0 579.1,152.0 583.8,152.1 588.5,150.4 593.2,149.2 597.9,147.8 602.6,145.6 607.3,143.9 612.0,143.2 616.8,142.8 621.5,140.0 626.2,139.4 630.9,138.8 635.6,138.7 640.3,138.7 645.0,138.8 649.7,139.1 654.4,139.2 659.1,139.2 663.8,139.4 668.5,139.3 673.3,139.1 678.0,139.1 682.7,138.8 687.4,138.4 692.1,136.7 696.8,131.7 701.5,129.4 706.2,127.2 710.9,126.1 715.6,128.0 720.3,129.8 725.0,131.5 729.8,132.7 734.5,135.0 739.2,137.8 743.9,141.2 748.6,145.2 753.3,146.2 758.0,150.2 762.7,155.1 767.4,160.1 772.1,169.7 776.8,176.6 781.5,184.7 786.3,190.2 791.0,191.4 795.7,192.8 800.4,193.6 805.1,194.2 809.8,194.7 814.5,195.9 819.2,188.8 823.9,186.5 828.6,186.3 833.3,185.9 838.0,187.0 842.8,190.0 847.5,189.7 852.2,190.1 856.9,193.7 861.6,196.8 866.3,199.1 871.0,198.9 875.7,197.9 880.4,198.7 885.1,199.2 889.8,202.1 894.5,207.7 899.3,214.8 904.0,226.7 908.7,237.8 913.4,240.3 918.1,246.0 922.8,250.9 927.5,254.9 932.2,258.7 936.9,262.5 941.6,270.1 946.3,275.8 951.0,282.2 955.8,294.9 960.5,299.7 965.2,297.9 969.9,293.5 974.6,288.7 979.3,282.7 984.0,276.7 988.7,273.3 993.4,267.0 998.1,263.1 1002.8,262.1 1007.5,261.7 1012.3,260.3 1017.0,258.2 1021.7,257.1 1026.4,257.1 1031.1,257.0 1035.8,257.2 1040.5,257.2 1045.2,258.7 1049.9,263.7 1054.6,266.9 1059.3,268.2 1064.0,267.9 1068.8,267.8 1073.5,267.9 1078.2,267.3 1082.9,268.0 1087.6,268.4 1092.3,267.9 1097.0,263.0 1101.7,263.3 1106.4,264.0 1111.1,264.9 1115.8,265.1 1120.5,265.6 1125.3,267.0 1130.0,269.6 1134.7,274.4 1139.4,276.5 1144.1,279.9 1148.8,282.6 1153.5,285.9 1158.2,287.0 1162.9,290.6 1167.6,294.4 1172.3,296.2 1177.0,302.2 1181.8,302.6 1186.5,302.3 1191.2,298.7 1195.9,298.9 1200.6,299.6 1205.3,299.8 1210.0,299.7 1214.7,296.9 1219.4,293.8 1224.1,287.6 1228.8,280.8 1233.5,274.5 1238.3,270.2 1243.0,267.3 1247.7,266.1 1252.4,265.1 1257.1,263.7 1261.8,262.9 1266.5,261.9 1271.2,261.5 1275.9,261.7 1280.6,262.6 1285.3,266.7 1290.0,269.7 1294.8,271.9 1299.5,274.7 1304.2,276.9 1308.9,276.2 1313.6,275.9 1318.3,277.0 1323.0,280.4 1327.7,285.2 1332.4,289.6 1337.1,293.2 1341.8,294.4 1346.5,296.7 1351.3,298.1 1356.0,299.1 1360.7,300.1 1365.4,300.5 1370.1,300.4 1374.8,300.8 1379.5,302.0 1384.2,303.1 1388.9,304.7 1393.6,304.7 1398.3,304.9 1403.0,304.8 1407.8,304.8 1412.5,304.0 1417.2,303.8 1421.9,299.7 1426.6,295.8 1431.3,288.5 1436.0,282.5 1440.7,278.8 1445.4,271.2 1450.1,263.4 1454.8,257.7 1459.5,253.1 1464.3,248.4 1469.0,244.8 1473.7,235.1 1478.4,229.9 1483.1,224.5 1487.8,219.8 1492.5,215.6 1497.2,213.7 1501.9,212.5 1506.6,210.6 1511.3,212.4 1516.0,211.5 1520.8,212.3 1525.5,212.0 1530.2,212.7 1534.9,214.1 1539.6,214.7 1544.3,215.0 1549.0,215.9 1553.7,217.3"/><polyline clip-path="url(#cm)" fill="none" stroke="#2fd2b1" stroke-width="1.1" stroke-linejoin="round" points="-4.7,63.5 -0.0,64.8 4.7,66.1 9.4,66.8 14.1,68.0 18.8,69.2 23.5,70.6 28.2,72.4 32.9,73.7 37.6,75.2 42.3,76.2 47.0,76.7 51.8,77.3 56.5,78.2 61.2,79.5 65.9,79.2 70.6,78.8 75.3,79.2 80.0,78.4 84.7,77.4 89.4,76.6 94.1,76.8 98.8,77.8 103.5,79.2 108.3,79.8 113.0,80.8 117.7,82.2 122.4,83.3 127.1,84.5 131.8,86.2 136.5,87.8 141.2,89.2 145.9,90.5 150.6,91.2 155.3,92.5 160.0,95.0 164.8,97.1 169.5,98.6 174.2,100.7 178.9,102.8 183.6,105.2 188.3,107.3 193.0,109.0 197.7,110.0 202.4,112.3 207.1,114.4 211.8,115.3 216.5,116.0 221.3,117.6 226.0,119.9 230.7,122.0 235.4,124.5 240.1,126.6 244.8,129.3 249.5,133.6 254.2,136.1 258.9,138.0 263.6,139.6 268.3,142.1 273.0,144.7 277.8,147.0 282.5,148.7 287.2,151.2 291.9,155.3 296.6,157.6 301.3,160.4 306.0,163.5 310.7,167.6 315.4,171.5 320.1,174.8 324.8,177.7 329.5,180.1 334.3,183.0 339.0,185.3 343.7,184.6 348.4,185.1 353.1,187.1 357.8,189.1 362.5,189.6 367.2,189.9 371.9,190.3 376.6,190.6 381.3,188.9 386.0,186.9 390.8,185.5 395.5,182.9 400.2,181.5 404.9,178.9 409.6,175.2 414.3,171.7 419.0,170.6 423.7,169.2 428.4,167.8 433.1,166.4 437.8,166.1 442.5,166.2 447.3,165.4 452.0,165.1 456.7,165.5 461.4,165.6 466.1,165.5 470.8,164.7 475.5,164.5 480.2,164.2 484.9,164.0 489.6,164.2 494.3,163.7 499.0,163.7 503.8,164.4 508.5,164.4 513.2,163.2 517.9,162.6 522.6,162.2 527.3,161.7 532.0,160.8 536.7,160.2 541.4,159.5 546.1,158.9 550.8,158.1 555.5,158.1 560.3,157.7 565.0,157.8 569.7,158.2 574.4,158.3 579.1,158.3 583.8,158.4 588.5,158.1 593.2,157.6 597.9,157.1 602.6,156.4 607.3,155.7 612.0,155.0 616.8,154.3 621.5,153.4 626.2,153.1 630.9,152.7 635.6,152.6 640.3,152.7 645.0,153.0 649.7,152.7 654.4,152.6 659.1,152.5 663.8,152.4 668.5,152.4 673.3,152.5 678.0,152.1 682.7,152.9 687.4,153.9 692.1,155.4 696.8,158.2 701.5,161.0 706.2,163.9 710.9,166.9 715.6,170.4 720.3,173.4 725.0,176.7 729.8,180.0 734.5,182.2 739.2,184.4 743.9,186.6 748.6,188.6 753.3,192.8 758.0,196.0 762.7,198.3 767.4,201.0 772.1,204.2 776.8,207.2 781.5,209.7 786.3,212.1 791.0,213.4 795.7,214.7 800.4,215.2 805.1,216.2 809.8,216.5 814.5,217.3 819.2,220.2 823.9,222.2 828.6,225.4 833.3,228.9 838.0,232.7 842.8,236.7 847.5,237.9 852.2,240.5 856.9,243.9 861.6,246.2 866.3,249.9 871.0,254.1 875.7,259.5 880.4,264.3 885.1,270.0 889.8,275.4 894.5,281.8 899.3,286.6 904.0,292.0 908.7,297.9 913.4,301.1 918.1,304.0 922.8,306.2 927.5,308.3 932.2,310.1 936.9,311.7 941.6,314.3 946.3,316.2 951.0,318.1 955.8,321.1 960.5,322.1 965.2,321.7 969.9,319.9 974.6,318.2 979.3,315.2 984.0,312.2 988.7,308.8 993.4,305.9 998.1,303.6 1002.8,300.5 1007.5,297.7 1012.3,295.8 1017.0,294.1 1021.7,292.4 1026.4,290.9 1031.1,289.7 1035.8,288.1 1040.5,286.0 1045.2,284.9 1049.9,283.0 1054.6,281.9 1059.3,281.4 1064.0,281.5 1068.8,281.5 1073.5,282.1 1078.2,283.4 1082.9,284.0 1087.6,286.0 1092.3,287.9 1097.0,290.7 1101.7,292.4 1106.4,294.3 1111.1,296.7 1115.8,299.4 1120.5,301.6 1125.3,303.4 1130.0,305.6 1134.7,307.9 1139.4,309.3 1144.1,310.7 1148.8,311.9 1153.5,313.0 1158.2,313.4 1162.9,314.6 1167.6,315.7 1172.3,316.7 1177.0,318.8 1181.8,320.1 1186.5,321.6 1191.2,322.8 1195.9,324.2 1200.6,325.0 1205.3,325.5 1210.0,325.1 1214.7,323.9 1219.4,322.8 1224.1,320.8 1228.8,318.7 1233.5,316.6 1238.3,315.0 1243.0,313.8 1247.7,313.1 1252.4,312.7 1257.1,311.7 1261.8,311.2 1266.5,310.1 1271.2,308.9 1275.9,307.5 1280.6,305.7 1285.3,303.0 1290.0,301.0 1294.8,299.5 1299.5,298.5 1304.2,297.7 1308.9,298.3 1313.6,299.0 1318.3,300.6 1323.0,302.4 1327.7,304.2 1332.4,305.6 1337.1,306.8 1341.8,307.5 1346.5,308.1 1351.3,308.4 1356.0,308.8 1360.7,309.5 1365.4,309.8 1370.1,310.4 1374.8,311.0 1379.5,311.7 1384.2,312.2 1388.9,312.9 1393.6,313.0 1398.3,313.0 1403.0,313.2 1407.8,313.2 1412.5,312.7 1417.2,312.5 1421.9,311.5 1426.6,310.6 1431.3,308.9 1436.0,307.2 1440.7,306.0 1445.4,304.0 1450.1,301.6 1454.8,298.9 1459.5,296.6 1464.3,293.6 1469.0,290.8 1473.7,286.5 1478.4,282.8 1483.1,278.8 1487.8,274.7 1492.5,270.8 1497.2,266.6 1501.9,262.4 1506.6,258.4 1511.3,254.8 1516.0,251.4 1520.8,248.5 1525.5,246.2 1530.2,244.1 1534.9,241.4 1539.6,241.0 1544.3,240.8 1549.0,240.3 1553.7,239.5"/><g clip-path="url(#cmacd)"><rect x="-5.5" y="458.5" width="2" height="16" fill="none" stroke="#ee4656" stroke-width="1"/><rect x="-1.5" y="458.5" width="2" height="18" fill="none" stroke="#ee4656" stroke-width="1"/><rect x="3.5" y="458.5" width="2" height="18" fill="none" stroke="#ee4656" stroke-width="1"/><rect x="8.0" y="458" width="3" height="16" fill="#ee4656"/><rect x="13.0" y="458" width="3" height="15" fill="#ee4656"/><rect x="17.0" y="458" width="3" height="14" fill="#ee4656"/><rect x="22.0" y="458" width="3" height="13" fill="#ee4656"/><rect x="27.5" y="458.5" width="2" height="12" fill="none" stroke="#ee4656" stroke-width="1"/><rect x="31.0" y="458" width="3" height="10" fill="#ee4656"/><rect x="36.0" y="458" width="3" height="7" fill="#ee4656"/><rect x="41.0" y="458" width="3" height="4" fill="#ee4656"/><rect x="46.0" y="458" width="3" height="1" fill="#ee4656"/><rect x="50.0" y="457" width="3" height="1" fill="#26b28e"/><rect x="55.0" y="457" width="3" height="1" fill="#26b28e"/><rect x="60.0" y="457" width="3" height="1" fill="#26b28e"/><rect x="64.5" y="451.5" width="2" height="6" fill="none" stroke="#26b28e" stroke-width="1"/><rect x="69.5" y="451.5" width="2" height="6" fill="none" stroke="#26b28e" stroke-width="1"/><rect x="74.0" y="452" width="3" height="6" fill="#26b28e"/><rect x="79.5" y="450.5" width="2" height="7" fill="none" stroke="#26b28e" stroke-width="1"/><rect x="83.5" y="450.5" width="2" height="7" fill="none" stroke="#26b28e" stroke-width="1"/><rect x="88.0" y="452" width="3" height="6" fill="#26b28e"/><rect x="93.0" y="458" width="3" height="1" fill="#ee4656"/><rect x="97.5" y="458.5" width="2" height="8" fill="none" stroke="#ee4656" stroke-width="1"/><rect x="102.5" y="458.5" width="2" height="13" fill="none" stroke="#ee4656" stroke-width="1"/><rect x="107.5" y="458.5" width="2" height="13" fill="none" stroke="#ee4656" stroke-width="1"/><rect x="111.5" y="458.5" width="2" height="15" fill="none" stroke="#ee4656" stroke-width="1"/><rect x="116.5" y="458.5" width="2" height="17" fill="none" stroke="#ee4656" stroke-width="1"/><rect x="121.0" y="458" width="3" height="18" fill="#ee4656"/><rect x="126.0" y="458" width="3" height="16" fill="#ee4656"/><rect x="130.0" y="458" width="3" height="14" fill="#ee4656"/><rect x="135.0" y="458" width="3" height="11" fill="#ee4656"/><rect x="140.0" y="458" width="3" height="7" fill="#ee4656"/><rect x="144.0" y="458" width="3" height="3" fill="#ee4656"/><rect x="149.0" y="457" width="3" height="1" fill="#26b28e"/><rect x="154.0" y="456" width="3" height="2" fill="#26b28e"/><rect x="159.0" y="457" width="3" height="1" fill="#26b28e"/><rect x="163.0" y="457" width="3" height="1" fill="#26b28e"/><rect x="168.0" y="456" width="3" height="2" fill="#26b28e"/><rect x="173.5" y="454.5" width="2" height="3" fill="none" stroke="#26b28e" stroke-width="1"/><rect x="177.0" y="454" width="3" height="4" fill="#26b28e"/><rect x="182.0" y="457" width="3" height="1" fill="#26b28e"/><rect x="187.5" y="458.5" width="2" height="3" fill="none" stroke="#ee4656" stroke-width="1"/><rect x="192.5" y="458.5" width="2" height="9" fill="none" stroke="#ee4656" stroke-width="1"/><rect x="196.0" y="458" width="3" height="8" fill="#ee4656"/><rect x="201.5" y="458.5" width="2" height="11" fill="none" stroke="#ee4656" stroke-width="1"/><rect x="206.5" y="458.5" width="2" height="13" fill="none" stroke="#ee4656" stroke-width="1"/><rect x="210.0" y="458" width="3" height="10" fill="#ee4656"/><rect x="215.0" y="458" width="3" height="6" fill="#ee4656"/><rect x="220.0" y="458" width="3" height="6" fill="#ee4656"/><rect x="224.5" y="458.5" width="2" height="9" fill="none" stroke="#ee4656" stroke-width="1"/><rect x="229.0" y="458" width="3" height="9" fill="#ee4656"/><rect x="234.0" y="458" width="3" height="8" fill="#ee4656"/><rect x="239.0" y="458" width="3" height="4" fill="#ee4656"/><rect x="243.0" y="458" width="3" height="2" fill="#ee4656"/><rect x="248.5" y="458.5" width="2" height="9" fill="none" stroke="#ee4656" stroke-width="1"/><rect x="253.0" y="458" width="3" height="7" fill="#ee4656"/><rect x="257.0" y="458" width="3" height="1" fill="#ee4656"/><rect x="262.5" y="453.5" width="2" height="4" fill="none" stroke="#26b28e" stroke-width="1"/><rect x="267.5" y="451.5" width="2" height="6" fill="none" stroke="#26b28e" stroke-width="1"/><rect x="272.0" y="453" width="3" height="5" fill="#26b28e"/><rect x="276.0" y="454" width="3" height="4" fill="#26b28e"/><rect x="281.0" y="456" width="3" height="2" fill="#26b28e"/><rect x="286.5" y="458.5" width="2" height="4" fill="none" stroke="#ee4656" stroke-width="1"/><rect x="290.5" y="458.5" width="2" height="11" fill="none" stroke="#ee4656" stroke-width="1"/><rect x="295.5" y="458.5" width="2" height="11" fill="none" stroke="#ee4656" stroke-width="1"/><rect x="300.5" y="458.5" width="2" height="13" fill="none" stroke="#ee4656" stroke-width="1"/><rect x="305.0" y="458" width="3" height="12" fill="#ee4656"/><rect x="309.5" y="458.5" width="2" height="12" fill="none" stroke="#ee4656" stroke-width="1"/><rect x="314.5" y="458.5" width="2" height="14" fill="none" stroke="#ee4656" stroke-width="1"/><rect x="319.5" y="458.5" width="2" height="15" fill="none" stroke="#ee4656" stroke-width="1"/><rect x="323.0" y="458" width="3" height="10" fill="#ee4656"/><rect x="328.0" y="458" width="3" height="5" fill="#ee4656"/><rect x="333.0" y="458" width="3" height="1" fill="#26b28e"/><rect x="337.5" y="452.5" width="2" height="5" fill="none" stroke="#26b28e" stroke-width="1"/><rect x="342.5" y="444.5" width="2" height="13" fill="none" stroke="#26b28e" stroke-width="1"/><rect x="347.5" y="438.5" width="2" height="19" fill="none" stroke="#26b28e" stroke-width="1"/><rect x="352.0" y="438" width="3" height="20" fill="#26b28e"/><rect x="356.5" y="436.5" width="2" height="21" fill="none" stroke="#26b28e" stroke-width="1"/><rect x="361.5" y="432.5" width="2" height="25" fill="none" stroke="#26b28e" stroke-width="1"/><rect x="366.5" y="432.5" width="2" height="25" fill="none" stroke="#26b28e" stroke-width="1"/><rect x="370.0" y="433" width="3" height="25" fill="#26b28e"/><rect x="375.0" y="436" width="3" height="22" fill="#26b28e"/><rect x="380.5" y="436.5" width="2" height="21" fill="none" stroke="#26b28e" stroke-width="1"/><rect x="385.0" y="438" width="3" height="20" fill="#26b28e"/><rect x="389.0" y="440" width="3" height="18" fill="#26b28e"/><rect x="394.5" y="440.5" width="2" height="17" fill="none" stroke="#26b28e" stroke-width="1"/><rect x="399.0" y="444" width="3" height="14" fill="#26b28e"/><rect x="403.0" y="445" width="3" height="13" fill="#26b28e"/><rect x="408.5" y="443.5" width="2" height="14" fill="none" stroke="#26b28e" stroke-width="1"/><rect x="413.0" y="446" width="3" height="12" fill="#26b28e"/><rect x="418.0" y="454" width="3" height="4" fill="#26b28e"/><rect x="422.0" y="457" width="3" height="1" fill="#26b28e"/><rect x="427.0" y="458" width="3" height="1" fill="#ee4656"/><rect x="432.0" y="458" width="3" height="1" fill="#ee4656"/><rect x="436.0" y="458" width="3" height="1" fill="#ee4656"/><rect x="441.0" y="458" width="3" height="2" fill="#ee4656"/><rect x="446.0" y="458" width="3" height="2" fill="#ee4656"/><rect x="450.0" y="458" width="3" height="2" fill="#ee4656"/><rect x="455.0" y="458" width="3" height="1" fill="#ee4656"/><rect x="460.0" y="458" width="3" height="1" fill="#ee4656"/><rect x="465.0" y="458" width="3" height="1" fill="#ee4656"/><rect x="469.0" y="456" width="3" height="2" fill="#26b28e"/><rect x="474.5" y="454.5" width="2" height="3" fill="none" stroke="#26b28e" stroke-width="1"/><rect x="479.0" y="454" width="3" height="4" fill="#26b28e"/><rect x="483.0" y="455" width="3" height="3" fill="#26b28e"/><rect x="488.0" y="455" width="3" height="3" fill="#26b28e"/><rect x="493.5" y="455.5" width="2" height="2" fill="none" stroke="#26b28e" stroke-width="1"/><rect x="498.0" y="456" width="3" height="2" fill="#26b28e"/><rect x="502.0" y="456" width="3" height="2" fill="#26b28e"/><rect x="507.0" y="457" width="3" height="1" fill="#26b28e"/><rect x="512.0" y="458" width="3" height="1" fill="#26b28e"/><rect x="516.0" y="458" width="3" height="1" fill="#ee4656"/><rect x="521.0" y="458" width="3" height="2" fill="#ee4656"/><rect x="526.0" y="458" width="3" height="1" fill="#ee4656"/><rect x="531.0" y="457" width="3" height="1" fill="#26b28e"/><rect x="535.0" y="458" width="3" height="1" fill="#26b28e"/><rect x="540.0" y="458" width="3" height="1" fill="#26b28e"/><rect x="545.0" y="458" width="3" height="1" fill="#26b28e"/><rect x="549.0" y="457" width="3" height="1" fill="#26b28e"/><rect x="554.0" y="458" width="3" height="2" fill="#ee4656"/><rect x="559.0" y="458" width="3" height="2" fill="#ee4656"/><rect x="563.0" y="458" width="3" height="2" fill="#ee4656"/><rect x="568.5" y="458.5" width="2" height="2" fill="none" stroke="#ee4656" stroke-width="1"/><rect x="573.5" y="458.5" width="2" height="2" fill="none" stroke="#ee4656" stroke-width="1"/><rect x="578.5" y="458.5" width="2" height="2" fill="none" stroke="#ee4656" stroke-width="1"/><rect x="582.0" y="458" width="3" height="3" fill="#ee4656"/><rect x="587.0" y="458" width="3" height="1" fill="#ee4656"/><rect x="592.0" y="457" width="3" height="1" fill="#26b28e"/><rect x="596.5" y="455.5" width="2" height="2" fill="none" stroke="#26b28e" stroke-width="1"/><rect x="601.5" y="454.5" width="2" height="3" fill="none" stroke="#26b28e" stroke-width="1"/><rect x="606.5" y="454.5" width="2" height="3" fill="none" stroke="#26b28e" stroke-width="1"/><rect x="611.0" y="454" width="3" height="4" fill="#26b28e"/><rect x="615.0" y="455" width="3" height="3" fill="#26b28e"/><rect x="620.5" y="453.5" width="2" height="4" fill="none" stroke="#26b28e" stroke-width="1"/><rect x="625.0" y="455" width="3" height="3" fill="#26b28e"/><rect x="629.0" y="456" width="3" height="2" fill="#26b28e"/><rect x="634.0" y="458" width="3" height="1" fill="#ee4656"/><rect x="639.5" y="458.5" width="2" height="2" fill="none" stroke="#ee4656" stroke-width="1"/><rect x="644.5" y="458.5" width="2" height="4" fill="none" stroke="#ee4656" stroke-width="1"/><rect x="648.5" y="458.5" width="2" height="5" fill="none" stroke="#ee4656" stroke-width="1"/><rect x="653.0" y="458" width="3" height="6" fill="#ee4656"/><rect x="658.5" y="458.5" width="2" height="5" fill="none" stroke="#ee4656" stroke-width="1"/><rect x="662.5" y="458.5" width="2" height="5" fill="none" stroke="#ee4656" stroke-width="1"/><rect x="667.5" y="458.5" width="2" height="6" fill="none" stroke="#ee4656" stroke-width="1"/><rect x="672.5" y="458.5" width="2" height="6" fill="none" stroke="#ee4656" stroke-width="1"/><rect x="676.0" y="458" width="3" height="4" fill="#ee4656"/><rect x="681.5" y="458.5" width="2" height="4" fill="none" stroke="#ee4656" stroke-width="1"/><rect x="686.5" y="458.5" width="2" height="5" fill="none" stroke="#ee4656" stroke-width="1"/><rect x="691.5" y="458.5" width="2" height="8" fill="none" stroke="#ee4656" stroke-width="1"/><rect x="695.5" y="458.5" width="2" height="15" fill="none" stroke="#ee4656" stroke-width="1"/><rect x="700.5" y="458.5" width="2" height="18" fill="none" stroke="#ee4656" stroke-width="1"/><rect x="705.5" y="458.5" width="2" height="20" fill="none" stroke="#ee4656" stroke-width="1"/><rect x="709.5" y="458.5" width="2" height="21" fill="none" stroke="#ee4656" stroke-width="1"/><rect x="714.0" y="458" width="3" height="21" fill="#ee4656"/><rect x="719.0" y="458" width="3" height="19" fill="#ee4656"/><rect x="724.0" y="458" width="3" height="17" fill="#ee4656"/><rect x="728.0" y="458" width="3" height="17" fill="#ee4656"/><rect x="733.0" y="458" width="3" height="11" fill="#ee4656"/><rect x="738.0" y="458" width="3" height="7" fill="#ee4656"/><rect x="742.0" y="458" width="3" height="3" fill="#ee4656"/><rect x="747.0" y="457" width="3" height="1" fill="#26b28e"/><rect x="752.5" y="458.5" width="2" height="6" fill="none" stroke="#ee4656" stroke-width="1"/><rect x="757.0" y="458" width="3" height="6" fill="#ee4656"/><rect x="761.0" y="458" width="3" height="2" fill="#ee4656"/><rect x="766.0" y="458" width="3" height="1" fill="#ee4656"/><rect x="771.0" y="457" width="3" height="1" fill="#26b28e"/><rect x="775.0" y="458" width="3" height="1" fill="#26b28e"/><rect x="780.0" y="457" width="3" height="1" fill="#26b28e"/><rect x="785.0" y="457" width="3" height="1" fill="#26b28e"/><rect x="789.0" y="457" width="3" height="1" fill="#26b28e"/><rect x="794.0" y="457" width="3" height="1" fill="#26b28e"/><rect x="799.5" y="454.5" width="2" height="3" fill="none" stroke="#26b28e" stroke-width="1"/><rect x="804.0" y="454" width="3" height="4" fill="#26b28e"/><rect x="808.5" y="451.5" width="2" height="6" fill="none" stroke="#26b28e" stroke-width="1"/><rect x="813.5" y="451.5" width="2" height="6" fill="none" stroke="#26b28e" stroke-width="1"/><rect x="818.0" y="458" width="3" height="5" fill="#ee4656"/><rect x="822.5" y="458.5" width="2" height="7" fill="none" stroke="#ee4656" stroke-width="1"/><rect x="827.5" y="458.5" width="2" height="10" fill="none" stroke="#ee4656" stroke-width="1"/><rect x="832.5" y="458.5" width="2" height="13" fill="none" stroke="#ee4656" stroke-width="1"/><rect x="837.5" y="458.5" width="2" height="15" fill="none" stroke="#ee4656" stroke-width="1"/><rect x="841.0" y="458" width="3" height="15" fill="#ee4656"/><rect x="846.0" y="458" width="3" height="11" fill="#ee4656"/><rect x="851.0" y="458" width="3" height="9" fill="#ee4656"/><rect x="855.0" y="458" width="3" height="7" fill="#ee4656"/><rect x="860.0" y="458" width="3" height="2" fill="#ee4656"/><rect x="865.5" y="458.5" width="2" height="4" fill="none" stroke="#ee4656" stroke-width="1"/><rect x="870.5" y="458.5" width="2" height="8" fill="none" stroke="#ee4656" stroke-width="1"/><rect x="874.5" y="458.5" width="2" height="15" fill="none" stroke="#ee4656" stroke-width="1"/><rect x="879.5" y="458.5" width="2" height="17" fill="none" stroke="#ee4656" stroke-width="1"/><rect x="884.5" y="458.5" width="2" height="20" fill="none" stroke="#ee4656" stroke-width="1"/><rect x="888.0" y="458" width="3" height="20" fill="#ee4656"/><rect x="893.0" y="458" width="3" height="20" fill="#ee4656"/><rect x="898.0" y="458" width="3" height="13" fill="#ee4656"/><rect x="902.0" y="458" width="3" height="7" fill="#ee4656"/><rect x="907.0" y="458" width="3" height="6" fill="#ee4656"/><rect x="912.0" y="458" width="3" height="3" fill="#ee4656"/><rect x="917.5" y="454.5" width="2" height="3" fill="none" stroke="#26b28e" stroke-width="1"/><rect x="921.5" y="447.5" width="2" height="10" fill="none" stroke="#26b28e" stroke-width="1"/><rect x="926.5" y="443.5" width="2" height="14" fill="none" stroke="#26b28e" stroke-width="1"/><rect x="931.5" y="441.5" width="2" height="16" fill="none" stroke="#26b28e" stroke-width="1"/><rect x="935.5" y="438.5" width="2" height="19" fill="none" stroke="#26b28e" stroke-width="1"/><rect x="940.5" y="438.5" width="2" height="19" fill="none" stroke="#26b28e" stroke-width="1"/><rect x="945.0" y="439" width="3" height="19" fill="#26b28e"/><rect x="950.5" y="439.5" width="2" height="18" fill="none" stroke="#26b28e" stroke-width="1"/><rect x="954.0" y="442" width="3" height="16" fill="#26b28e"/><rect x="959.5" y="441.5" width="2" height="16" fill="none" stroke="#26b28e" stroke-width="1"/><rect x="964.5" y="438.5" width="2" height="19" fill="none" stroke="#26b28e" stroke-width="1"/><rect x="968.5" y="435.5" width="2" height="22" fill="none" stroke="#26b28e" stroke-width="1"/><rect x="973.5" y="433.5" width="2" height="24" fill="none" stroke="#26b28e" stroke-width="1"/><rect x="978.5" y="431.5" width="2" height="26" fill="none" stroke="#26b28e" stroke-width="1"/><rect x="983.5" y="429.5" width="2" height="28" fill="none" stroke="#26b28e" stroke-width="1"/><rect x="987.0" y="430" width="3" height="28" fill="#26b28e"/><rect x="992.5" y="429.5" width="2" height="28" fill="none" stroke="#26b28e" stroke-width="1"/><rect x="997.0" y="432" width="3" height="26" fill="#26b28e"/><rect x="1001.0" y="436" width="3" height="22" fill="#26b28e"/><rect x="1006.0" y="440" width="3" height="18" fill="#26b28e"/><rect x="1011.0" y="443" width="3" height="15" fill="#26b28e"/><rect x="1015.0" y="445" width="3" height="13" fill="#26b28e"/><rect x="1020.0" y="448" width="3" height="10" fill="#26b28e"/><rect x="1025.0" y="452" width="3" height="6" fill="#26b28e"/><rect x="1030.0" y="455" width="3" height="3" fill="#26b28e"/><rect x="1034.0" y="456" width="3" height="2" fill="#26b28e"/><rect x="1039.5" y="455.5" width="2" height="2" fill="none" stroke="#26b28e" stroke-width="1"/><rect x="1044.0" y="458" width="3" height="1" fill="#ee4656"/><rect x="1048.0" y="458" width="3" height="2" fill="#ee4656"/><rect x="1053.5" y="458.5" width="2" height="3" fill="none" stroke="#ee4656" stroke-width="1"/><rect x="1058.5" y="458.5" width="2" height="3" fill="none" stroke="#ee4656" stroke-width="1"/><rect x="1063.5" y="458.5" width="2" height="6" fill="none" stroke="#ee4656" stroke-width="1"/><rect x="1067.0" y="458" width="3" height="6" fill="#ee4656"/><rect x="1072.0" y="458" width="3" height="6" fill="#ee4656"/><rect x="1077.5" y="458.5" width="2" height="7" fill="none" stroke="#ee4656" stroke-width="1"/><rect x="1081.0" y="458" width="3" height="6" fill="#ee4656"/><rect x="1086.5" y="458.5" width="2" height="9" fill="none" stroke="#ee4656" stroke-width="1"/><rect x="1091.5" y="458.5" width="2" height="11" fill="none" stroke="#ee4656" stroke-width="1"/><rect x="1096.5" y="458.5" width="2" height="17" fill="none" stroke="#ee4656" stroke-width="1"/><rect x="1100.0" y="458" width="3" height="16" fill="#ee4656"/><rect x="1105.0" y="458" width="3" height="15" fill="#ee4656"/><rect x="1110.0" y="458" width="3" height="14" fill="#ee4656"/><rect x="1114.5" y="458.5" width="2" height="15" fill="none" stroke="#ee4656" stroke-width="1"/><rect x="1119.0" y="458" width="3" height="14" fill="#ee4656"/><rect x="1124.0" y="458" width="3" height="11" fill="#ee4656"/><rect x="1128.0" y="458" width="3" height="9" fill="#ee4656"/><rect x="1133.0" y="458" width="3" height="6" fill="#ee4656"/><rect x="1138.0" y="458" width="3" height="3" fill="#ee4656"/><rect x="1143.0" y="457" width="3" height="1" fill="#26b28e"/><rect x="1147.5" y="454.5" width="2" height="3" fill="none" stroke="#26b28e" stroke-width="1"/><rect x="1152.5" y="452.5" width="2" height="5" fill="none" stroke="#26b28e" stroke-width="1"/><rect x="1157.5" y="449.5" width="2" height="8" fill="none" stroke="#26b28e" stroke-width="1"/><rect x="1161.0" y="450" width="3" height="8" fill="#26b28e"/><rect x="1166.0" y="450" width="3" height="8" fill="#26b28e"/><rect x="1171.0" y="453" width="3" height="5" fill="#26b28e"/><rect x="1176.0" y="457" width="3" height="1" fill="#26b28e"/><rect x="1180.0" y="458" width="3" height="2" fill="#ee4656"/><rect x="1185.5" y="458.5" width="2" height="5" fill="none" stroke="#ee4656" stroke-width="1"/><rect x="1190.5" y="458.5" width="2" height="10" fill="none" stroke="#ee4656" stroke-width="1"/><rect x="1194.0" y="458" width="3" height="10" fill="#ee4656"/><rect x="1199.0" y="458" width="3" height="6" fill="#ee4656"/><rect x="1204.0" y="458" width="3" height="4" fill="#ee4656"/><rect x="1209.0" y="458" width="3" height="1" fill="#26b28e"/><rect x="1213.5" y="450.5" width="2" height="7" fill="none" stroke="#26b28e" stroke-width="1"/><rect x="1218.5" y="444.5" width="2" height="13" fill="none" stroke="#26b28e" stroke-width="1"/><rect x="1223.5" y="438.5" width="2" height="19" fill="none" stroke="#26b28e" stroke-width="1"/><rect x="1227.5" y="433.5" width="2" height="24" fill="none" stroke="#26b28e" stroke-width="1"/><rect x="1232.5" y="430.5" width="2" height="27" fill="none" stroke="#26b28e" stroke-width="1"/><rect x="1237.0" y="432" width="3" height="26" fill="#26b28e"/><rect x="1241.0" y="435" width="3" height="23" fill="#26b28e"/><rect x="1246.0" y="441" width="3" height="17" fill="#26b28e"/><rect x="1251.0" y="445" width="3" height="13" fill="#26b28e"/><rect x="1256.0" y="449" width="3" height="9" fill="#26b28e"/><rect x="1260.0" y="453" width="3" height="5" fill="#26b28e"/><rect x="1265.0" y="456" width="3" height="2" fill="#26b28e"/><rect x="1270.0" y="458" width="3" height="1" fill="#ee4656"/><rect x="1274.5" y="458.5" width="2" height="3" fill="none" stroke="#ee4656" stroke-width="1"/><rect x="1279.5" y="458.5" width="2" height="4" fill="none" stroke="#ee4656" stroke-width="1"/><rect x="1284.5" y="458.5" width="2" height="4" fill="none" stroke="#ee4656" stroke-width="1"/><rect x="1289.5" y="458.5" width="2" height="4" fill="none" stroke="#ee4656" stroke-width="1"/><rect x="1293.0" y="458" width="3" height="5" fill="#ee4656"/><rect x="1298.5" y="458.5" width="2" height="6" fill="none" stroke="#ee4656" stroke-width="1"/><rect x="1303.5" y="458.5" width="2" height="7" fill="none" stroke="#ee4656" stroke-width="1"/><rect x="1307.5" y="458.5" width="2" height="8" fill="none" stroke="#ee4656" stroke-width="1"/><rect x="1312.0" y="458" width="3" height="9" fill="#ee4656"/><rect x="1317.5" y="458.5" width="2" height="8" fill="none" stroke="#ee4656" stroke-width="1"/><rect x="1322.0" y="458" width="3" height="8" fill="#ee4656"/><rect x="1326.0" y="458" width="3" height="7" fill="#ee4656"/><rect x="1331.0" y="458" width="3" height="5" fill="#ee4656"/><rect x="1336.0" y="458" width="3" height="4" fill="#ee4656"/><rect x="1340.0" y="458" width="3" height="3" fill="#ee4656"/><rect x="1345.0" y="458" width="3" height="1" fill="#ee4656"/><rect x="1350.0" y="457" width="3" height="1" fill="#26b28e"/><rect x="1354.0" y="457" width="3" height="1" fill="#26b28e"/><rect x="1359.0" y="458" width="3" height="1" fill="#ee4656"/><rect x="1364.0" y="458" width="3" height="1" fill="#ee4656"/><rect x="1369.5" y="458.5" width="2" height="2" fill="none" stroke="#ee4656" stroke-width="1"/><rect x="1373.5" y="458.5" width="2" height="2" fill="none" stroke="#ee4656" stroke-width="1"/><rect x="1378.5" y="458.5" width="2" height="2" fill="none" stroke="#ee4656" stroke-width="1"/><rect x="1383.0" y="458" width="3" height="3" fill="#ee4656"/><rect x="1387.0" y="458" width="3" height="2" fill="#ee4656"/><rect x="1392.0" y="458" width="3" height="2" fill="#ee4656"/><rect x="1397.0" y="458" width="3" height="1" fill="#ee4656"/><rect x="1402.0" y="458" width="3" height="1" fill="#ee4656"/><rect x="1406.0" y="458" width="3" height="1" fill="#ee4656"/><rect x="1411.0" y="456" width="3" height="2" fill="#26b28e"/><rect x="1416.0" y="456" width="3" height="2" fill="#26b28e"/><rect x="1420.5" y="452.5" width="2" height="5" fill="none" stroke="#26b28e" stroke-width="1"/><rect x="1425.5" y="449.5" width="2" height="8" fill="none" stroke="#26b28e" stroke-width="1"/><rect x="1430.5" y="444.5" width="2" height="13" fill="none" stroke="#26b28e" stroke-width="1"/><rect x="1435.5" y="442.5" width="2" height="15" fill="none" stroke="#26b28e" stroke-width="1"/><rect x="1439.0" y="442" width="3" height="16" fill="#26b28e"/><rect x="1444.5" y="439.5" width="2" height="18" fill="none" stroke="#26b28e" stroke-width="1"/><rect x="1449.5" y="438.5" width="2" height="19" fill="none" stroke="#26b28e" stroke-width="1"/><rect x="1453.0" y="438" width="3" height="20" fill="#26b28e"/><rect x="1458.0" y="441" width="3" height="17" fill="#26b28e"/><rect x="1463.0" y="442" width="3" height="16" fill="#26b28e"/><rect x="1467.0" y="445" width="3" height="13" fill="#26b28e"/><rect x="1472.5" y="440.5" width="2" height="17" fill="none" stroke="#26b28e" stroke-width="1"/><rect x="1477.0" y="441" width="3" height="17" fill="#26b28e"/><rect x="1482.0" y="442" width="3" height="16" fill="#26b28e"/><rect x="1486.0" y="443" width="3" height="15" fill="#26b28e"/><rect x="1491.0" y="445" width="3" height="13" fill="#26b28e"/><rect x="1496.0" y="447" width="3" height="11" fill="#26b28e"/><rect x="1500.0" y="450" width="3" height="8" fill="#26b28e"/><rect x="1505.0" y="451" width="3" height="7" fill="#26b28e"/><rect x="1510.0" y="455" width="3" height="3" fill="#26b28e"/><rect x="1515.0" y="456" width="3" height="2" fill="#26b28e"/><rect x="1519.0" y="458" width="3" height="1" fill="#ee4656"/><rect x="1524.5" y="458.5" width="2" height="2" fill="none" stroke="#ee4656" stroke-width="1"/><rect x="1529.5" y="458.5" width="2" height="4" fill="none" stroke="#ee4656" stroke-width="1"/><rect x="1533.0" y="458" width="3" height="5" fill="#ee4656"/><rect x="1538.5" y="458.5" width="2" height="11" fill="none" stroke="#ee4656" stroke-width="1"/><rect x="1543.5" y="458.5" width="2" height="15" fill="none" stroke="#ee4656" stroke-width="1"/><rect x="1548.5" y="458.5" width="2" height="17" fill="none" stroke="#ee4656" stroke-width="1"/><rect x="1552.0" y="458" width="3" height="18" fill="#ee4656"/></g><polyline clip-path="url(#cmacd)" fill="none" stroke="#2fd2b1" stroke-width="1" stroke-linejoin="round" points="-4.7,453.3 -0.0,456.5 4.7,459.0 9.4,459.2 14.1,460.9 18.8,462.2 23.5,463.1 28.2,464.8 32.9,464.6 37.6,464.0 42.3,462.7 47.0,461.4 51.8,460.3 56.5,460.0 61.2,459.6 65.9,456.3 70.6,454.9 75.3,454.9 80.0,452.8 84.7,451.8 89.4,451.7 94.1,455.4 98.8,460.9 103.5,464.7 108.3,466.8 113.0,469.4 117.7,472.6 122.4,474.8 127.1,475.6 131.8,476.7 136.5,476.5 141.2,475.4 145.9,473.7 150.6,471.3 155.3,470.8 160.0,470.8 164.8,470.8 169.5,469.8 174.2,468.4 178.9,468.1 183.6,469.1 188.3,472.6 193.0,476.4 197.7,476.7 202.4,479.8 207.1,482.5 211.8,482.1 216.5,480.5 221.3,481.1 226.0,484.2 230.7,484.8 235.4,485.3 240.1,483.8 244.8,483.0 249.5,488.3 254.2,487.4 258.9,484.8 263.6,480.8 268.3,479.3 273.0,479.3 277.8,479.4 282.5,480.3 287.2,484.6 291.9,489.5 296.6,491.1 301.3,493.8 306.0,494.3 310.7,496.1 315.4,498.9 320.1,501.4 324.8,500.0 329.5,497.6 334.3,495.0 339.0,491.6 343.7,485.8 348.4,480.0 353.1,477.8 357.8,474.1 362.5,468.7 367.2,465.2 371.9,463.0 376.6,461.7 381.3,458.9 386.0,457.4 390.8,456.2 395.5,453.7 400.2,453.9 404.9,452.7 409.6,449.9 414.3,449.6 419.0,453.4 423.7,455.0 428.4,455.8 433.1,455.6 437.8,456.2 442.5,456.5 447.3,456.8 452.0,456.9 456.7,456.9 461.4,456.5 466.1,456.6 470.8,455.0 475.5,453.6 480.2,453.1 484.9,453.1 489.6,452.9 494.3,452.4 499.0,452.4 503.8,452.5 508.5,452.6 513.2,452.9 517.9,453.7 522.6,454.4 527.3,453.9 532.0,453.1 536.7,453.1 541.4,453.0 546.1,453.1 550.8,452.7 555.5,454.1 560.3,454.6 565.0,455.0 569.7,455.8 574.4,456.3 579.1,456.7 583.8,457.0 588.5,455.5 593.2,454.5 597.9,453.5 602.6,452.3 607.3,451.5 612.0,451.3 616.8,451.4 621.5,450.0 626.2,450.2 630.9,450.6 635.6,451.7 640.3,453.6 645.0,455.0 649.7,456.1 654.4,456.8 659.1,457.5 663.8,458.4 668.5,459.4 673.3,460.5 678.0,459.5 682.7,460.8 687.4,462.1 692.1,464.8 696.8,470.0 701.5,473.9 706.2,477.7 710.9,480.8 715.6,482.9 720.3,483.9 725.0,485.5 729.8,487.2 734.5,485.7 739.2,484.5 743.9,482.8 748.6,480.7 753.3,485.3 758.0,485.9 762.7,483.8 767.4,483.4 772.1,482.4 776.8,482.7 781.5,481.9 786.3,482.2 791.0,481.8 795.7,481.6 800.4,479.6 805.1,479.3 809.8,476.9 814.5,476.1 819.2,482.3 823.9,485.2 828.6,488.1 833.3,491.2 838.0,493.8 842.8,495.6 847.5,494.5 852.2,495.0 856.9,494.8 861.6,492.7 866.3,494.3 871.0,497.9 875.7,503.4 880.4,506.3 885.1,510.5 889.8,512.6 894.5,514.8 899.3,513.2 904.0,510.8 908.7,510.9 913.4,509.8 918.1,505.8 922.8,500.8 927.5,497.1 932.2,493.9 936.9,490.2 941.6,487.7 946.3,485.4 951.0,483.0 955.8,482.4 960.5,479.7 965.2,475.7 969.9,471.6 974.6,467.5 979.3,462.7 984.0,458.3 988.7,455.1 993.4,451.3 998.1,449.4 1002.8,448.5 1007.5,448.2 1012.3,448.0 1017.0,447.5 1021.7,447.7 1026.4,448.9 1031.1,450.1 1035.8,450.3 1040.5,449.5 1045.2,451.4 1049.9,452.2 1054.6,453.5 1059.3,454.4 1064.0,456.3 1068.8,456.9 1073.5,457.5 1078.2,459.6 1082.9,459.3 1087.6,462.2 1092.3,464.7 1097.0,469.8 1101.7,471.0 1106.4,472.1 1111.1,473.8 1115.8,476.3 1120.5,477.4 1125.3,477.2 1130.0,477.0 1134.7,476.2 1139.4,475.0 1144.1,473.1 1148.8,471.2 1153.5,469.4 1158.2,466.6 1162.9,466.2 1167.6,465.3 1172.3,465.9 1177.0,467.8 1181.8,469.8 1186.5,472.1 1191.2,476.0 1195.9,476.8 1200.6,475.8 1205.3,475.0 1210.0,473.0 1214.7,468.0 1219.4,463.3 1224.1,457.4 1228.8,451.8 1233.5,447.2 1238.3,444.4 1243.0,443.2 1247.7,444.1 1252.4,444.2 1257.1,445.0 1261.8,446.3 1266.5,447.5 1271.2,449.3 1275.9,451.0 1280.6,452.2 1285.3,452.8 1290.0,453.5 1294.8,454.0 1299.5,456.1 1304.2,457.1 1308.9,458.8 1313.6,459.9 1318.3,461.2 1323.0,461.6 1327.7,461.8 1332.4,461.5 1337.1,461.3 1341.8,461.1 1346.5,460.2 1351.3,459.2 1356.0,458.8 1360.7,459.8 1365.4,459.9 1370.1,461.1 1374.8,461.8 1379.5,462.2 1384.2,462.2 1388.9,462.4 1393.6,462.3 1398.3,461.6 1403.0,462.1 1407.8,461.9 1412.5,460.5 1417.2,459.8 1421.9,456.9 1426.6,454.3 1431.3,450.3 1436.0,447.1 1440.7,445.3 1445.4,441.5 1450.1,438.0 1454.8,436.0 1459.5,434.9 1464.3,433.6 1469.0,433.1 1473.7,428.5 1478.4,427.0 1483.1,425.2 1487.8,423.9 1492.5,423.0 1497.2,423.0 1501.9,423.1 1506.6,422.9 1511.3,424.5 1516.0,424.7 1520.8,426.1 1525.5,427.4 1530.2,429.4 1534.9,429.8 1539.6,435.1 1544.3,439.1 1549.0,441.9 1553.7,444.0"/><polyline clip-path="url(#cmacd)" fill="none" stroke="#ffa91a" stroke-width="1" stroke-linejoin="round" points="-4.7,444.8 -0.0,447.1 4.7,449.5 9.4,451.4 14.1,453.3 18.8,455.1 23.5,456.7 28.2,458.3 32.9,459.6 37.6,460.5 42.3,460.9 47.0,461.0 51.8,460.9 56.5,460.7 61.2,460.5 65.9,459.6 70.6,458.7 75.3,457.9 80.0,456.9 84.7,455.9 89.4,455.1 94.1,455.1 98.8,456.3 103.5,458.0 108.3,459.7 113.0,461.7 117.7,463.9 122.4,466.0 127.1,468.0 131.8,469.7 136.5,471.1 141.2,472.0 145.9,472.3 150.6,472.1 155.3,471.8 160.0,471.6 164.8,471.5 169.5,471.1 174.2,470.6 178.9,470.1 183.6,469.9 188.3,470.4 193.0,471.6 197.7,472.7 202.4,474.1 207.1,475.7 211.8,477.0 216.5,477.7 221.3,478.4 226.0,479.6 230.7,480.6 235.4,481.5 240.1,482.0 244.8,482.2 249.5,483.4 254.2,484.2 258.9,484.3 263.6,483.6 268.3,482.8 273.0,482.1 277.8,481.6 282.5,481.3 287.2,482.0 291.9,483.5 296.6,485.0 301.3,486.8 306.0,488.3 310.7,489.8 315.4,491.6 320.1,493.6 324.8,494.9 329.5,495.4 334.3,495.4 339.0,494.6 343.7,492.8 348.4,490.3 353.1,487.8 357.8,485.0 362.5,481.8 367.2,478.5 371.9,475.4 376.6,472.6 381.3,469.9 386.0,467.4 390.8,465.2 395.5,462.9 400.2,461.1 404.9,459.4 409.6,457.5 414.3,455.9 419.0,455.4 423.7,455.3 428.4,455.4 433.1,455.4 437.8,455.6 442.5,455.8 447.3,456.0 452.0,456.2 456.7,456.3 461.4,456.4 466.1,456.4 470.8,456.1 475.5,455.6 480.2,455.1 484.9,454.7 489.6,454.3 494.3,453.9 499.0,453.6 503.8,453.4 508.5,453.3 513.2,453.2 517.9,453.3 522.6,453.5 527.3,453.6 532.0,453.5 536.7,453.4 541.4,453.3 546.1,453.3 550.8,453.2 555.5,453.4 560.3,453.6 565.0,453.9 569.7,454.3 574.4,454.7 579.1,455.1 583.8,455.5 588.5,455.5 593.2,455.3 597.9,454.9 602.6,454.4 607.3,453.8 612.0,453.3 616.8,452.9 621.5,452.3 626.2,451.9 630.9,451.6 635.6,451.7 640.3,452.0 645.0,452.6 649.7,453.3 654.4,454.0 659.1,454.7 663.8,455.5 668.5,456.3 673.3,457.1 678.0,457.6 682.7,458.2 687.4,459.0 692.1,460.2 696.8,462.1 701.5,464.5 706.2,467.1 710.9,469.9 715.6,472.5 720.3,474.7 725.0,476.9 729.8,479.0 734.5,480.3 739.2,481.1 743.9,481.5 748.6,481.3 753.3,482.1 758.0,482.9 762.7,483.1 767.4,483.1 772.1,483.0 776.8,482.9 781.5,482.7 786.3,482.6 791.0,482.5 795.7,482.3 800.4,481.7 805.1,481.2 809.8,480.4 814.5,479.5 819.2,480.1 823.9,481.1 828.6,482.5 833.3,484.3 838.0,486.2 842.8,488.1 847.5,489.3 852.2,490.5 856.9,491.3 861.6,491.6 866.3,492.2 871.0,493.3 875.7,495.3 880.4,497.5 885.1,500.1 889.8,502.6 894.5,505.1 899.3,506.7 904.0,507.5 908.7,508.2 913.4,508.5 918.1,508.0 922.8,506.5 927.5,504.7 932.2,502.5 936.9,500.0 941.6,497.6 946.3,495.1 951.0,492.7 955.8,490.6 960.5,488.5 965.2,485.9 969.9,483.0 974.6,479.9 979.3,476.5 984.0,472.9 988.7,469.3 993.4,465.7 998.1,462.4 1002.8,459.7 1007.5,457.4 1012.3,455.5 1017.0,453.9 1021.7,452.6 1026.4,451.9 1031.1,451.5 1035.8,451.3 1040.5,450.9 1045.2,451.0 1049.9,451.3 1054.6,451.7 1059.3,452.2 1064.0,453.1 1068.8,453.8 1073.5,454.6 1078.2,455.6 1082.9,456.3 1087.6,457.5 1092.3,458.9 1097.0,461.1 1101.7,463.1 1106.4,464.9 1111.1,466.7 1115.8,468.6 1120.5,470.4 1125.3,471.7 1130.0,472.8 1134.7,473.5 1139.4,473.8 1144.1,473.6 1148.8,473.1 1153.5,472.4 1158.2,471.2 1162.9,470.2 1167.6,469.2 1172.3,468.6 1177.0,468.4 1181.8,468.7 1186.5,469.4 1191.2,470.7 1195.9,471.9 1200.6,472.7 1205.3,473.1 1210.0,473.1 1214.7,472.1 1219.4,470.3 1224.1,467.8 1228.8,464.6 1233.5,461.1 1238.3,457.8 1243.0,454.9 1247.7,452.7 1252.4,451.0 1257.1,449.8 1261.8,449.1 1266.5,448.8 1271.2,448.9 1275.9,449.3 1280.6,449.9 1285.3,450.5 1290.0,451.1 1294.8,451.7 1299.5,452.5 1304.2,453.5 1308.9,454.5 1313.6,455.6 1318.3,456.7 1323.0,457.7 1327.7,458.5 1332.4,459.1 1337.1,459.6 1341.8,459.9 1346.5,459.9 1351.3,459.8 1356.0,459.6 1360.7,459.6 1365.4,459.7 1370.1,460.0 1374.8,460.3 1379.5,460.7 1384.2,461.0 1388.9,461.3 1393.6,461.5 1398.3,461.5 1403.0,461.6 1407.8,461.7 1412.5,461.4 1417.2,461.1 1421.9,460.3 1426.6,459.1 1431.3,457.3 1436.0,455.3 1440.7,453.3 1445.4,450.9 1450.1,448.3 1454.8,445.9 1459.5,443.7 1464.3,441.7 1469.0,439.9 1473.7,437.6 1478.4,435.5 1483.1,433.5 1487.8,431.6 1492.5,429.9 1497.2,428.5 1501.9,427.4 1506.6,426.5 1511.3,426.1 1516.0,425.8 1520.8,425.9 1525.5,426.2 1530.2,426.8 1534.9,427.4 1539.6,429.0 1544.3,431.0 1549.0,433.2 1553.7,435.3"/><polyline clip-path="url(#ckdj)" fill="none" stroke="#2fd2b1" stroke-width="1" stroke-linejoin="round" points="-4.7,591.5 -0.0,595.3 4.7,598.0 9.4,594.1 14.1,594.8 18.8,595.4 23.5,594.7 28.2,597.3 32.9,589.7 37.6,581.9 42.3,573.1 47.0,566.7 51.8,562.4 56.5,562.9 61.2,562.9 65.9,559.4 70.6,563.4 75.3,571.7 80.0,570.1 84.7,571.2 89.4,574.3 94.1,583.7 98.8,588.8 103.5,590.8 108.3,590.8 113.0,592.2 117.7,595.8 122.4,597.2 127.1,596.8 131.8,597.6 136.5,593.1 141.2,583.8 145.9,574.1 150.6,567.0 155.3,568.9 160.0,572.5 164.8,576.9 169.5,576.1 174.2,573.2 178.9,579.7 183.6,587.8 188.3,593.3 193.0,596.7 197.7,592.8 202.4,590.5 207.1,589.6 211.8,585.8 216.5,581.8 221.3,580.7 226.0,584.8 230.7,582.9 235.4,582.7 240.1,578.7 244.8,579.5 249.5,585.4 254.2,581.2 258.9,575.4 263.6,567.6 268.3,565.9 273.0,567.4 277.8,569.0 282.5,572.1 287.2,581.2 291.9,589.1 296.6,591.1 301.3,595.5 306.0,596.2 310.7,596.4 315.4,598.9 320.1,600.7 324.8,596.1 329.5,586.5 334.3,578.8 339.0,570.4 343.7,564.3 348.4,559.8 353.1,562.4 357.8,560.6 362.5,557.6 367.2,557.6 371.9,559.5 376.6,562.4 381.3,559.5 386.0,561.0 390.8,562.1 395.5,558.7 400.2,566.3 404.9,565.8 409.6,561.2 414.3,565.7 419.0,578.4 423.7,582.1 428.4,583.3 433.1,581.4 437.8,582.4 442.5,582.5 447.3,582.7 452.0,582.3 456.7,579.0 461.4,572.8 466.1,573.3 470.8,566.6 475.5,565.1 480.2,567.1 484.9,570.5 489.6,570.9 494.3,569.2 499.0,570.9 503.8,571.4 508.5,574.5 513.2,578.9 517.9,582.4 522.6,585.3 527.3,576.3 532.0,569.4 536.7,569.8 541.4,568.4 546.1,568.3 550.8,564.5 555.5,574.8 560.3,576.6 565.0,577.9 569.7,582.6 574.4,584.0 579.1,585.2 583.8,585.3 588.5,574.2 593.2,568.8 597.9,564.1 602.6,562.4 607.3,561.8 612.0,563.8 616.8,565.6 621.5,561.2 626.2,564.6 630.9,569.1 635.6,577.1 640.3,585.3 645.0,587.3 649.7,588.0 654.4,587.7 659.1,588.5 663.8,590.3 668.5,591.5 673.3,590.4 678.0,580.6 682.7,584.8 687.4,589.3 692.1,594.4 696.8,597.8 701.5,598.1 706.2,600.0 710.9,599.6 715.6,599.4 720.3,598.7 725.0,599.8 729.8,601.2 734.5,594.8 739.2,587.0 743.9,579.7 748.6,573.5 753.3,583.3 758.0,582.4 762.7,576.8 767.4,576.3 772.1,575.4 776.8,577.5 781.5,577.4 786.3,579.8 791.0,580.4 795.7,579.6 800.4,576.2 805.1,579.5 809.8,570.7 814.5,570.5 819.2,581.9 823.9,586.1 828.6,590.7 833.3,594.9 838.0,597.7 842.8,599.8 847.5,597.5 852.2,599.1 856.9,599.8 861.6,588.8 866.3,592.0 871.0,596.0 875.7,597.9 880.4,594.8 885.1,596.4 889.8,595.2 894.5,594.1 899.3,590.2 904.0,587.0 908.7,586.4 913.4,582.9 918.1,573.6 922.8,566.0 927.5,562.5 932.2,561.4 936.9,559.1 941.6,559.1 946.3,559.1 951.0,558.5 955.8,567.0 960.5,565.9 965.2,562.2 969.9,559.2 974.6,556.6 979.3,555.2 984.0,554.3 988.7,554.3 993.4,553.0 998.1,554.7 1002.8,558.7 1007.5,563.8 1012.3,568.3 1017.0,570.6 1021.7,577.0 1026.4,580.2 1031.1,582.3 1035.8,581.1 1040.5,576.5 1045.2,581.3 1049.9,580.9 1054.6,583.5 1059.3,584.2 1064.0,590.2 1068.8,590.3 1073.5,590.5 1078.2,594.2 1082.9,588.5 1087.6,593.5 1092.3,594.1 1097.0,595.0 1101.7,590.0 1106.4,587.4 1111.1,587.7 1115.8,590.5 1120.5,591.0 1125.3,589.6 1130.0,585.8 1134.7,581.5 1139.4,579.2 1144.1,574.1 1148.8,571.3 1153.5,568.9 1158.2,563.3 1162.9,566.3 1167.6,566.3 1172.3,572.0 1177.0,582.4 1181.8,589.8 1186.5,591.0 1191.2,593.8 1195.9,591.6 1200.6,587.4 1205.3,583.6 1210.0,578.3 1214.7,569.6 1219.4,563.8 1224.1,559.7 1228.8,556.9 1233.5,555.0 1238.3,555.7 1243.0,557.6 1247.7,562.8 1252.4,565.5 1257.1,573.7 1261.8,583.1 1266.5,589.5 1271.2,594.4 1275.9,597.0 1280.6,597.7 1285.3,595.6 1290.0,594.9 1294.8,593.4 1299.5,596.3 1304.2,593.5 1308.9,595.2 1313.6,592.1 1318.3,593.0 1323.0,590.4 1327.7,587.9 1332.4,584.1 1337.1,581.9 1341.8,576.4 1346.5,569.1 1351.3,564.7 1356.0,564.6 1360.7,574.0 1365.4,575.1 1370.1,584.1 1374.8,586.3 1379.5,587.1 1384.2,586.3 1388.9,587.3 1393.6,586.4 1398.3,581.1 1403.0,582.9 1407.8,578.5 1412.5,570.0 1417.2,568.6 1421.9,564.1 1426.6,566.6 1431.3,563.9 1436.0,561.7 1440.7,561.8 1445.4,558.2 1450.1,556.1 1454.8,556.8 1459.5,557.9 1464.3,557.6 1469.0,560.9 1473.7,558.6 1478.4,561.7 1483.1,561.7 1487.8,561.9 1492.5,561.3 1497.2,561.6 1501.9,561.1 1506.6,558.9 1511.3,561.4 1516.0,560.8 1520.8,565.0 1525.5,569.3 1530.2,577.4 1534.9,570.7 1539.6,580.3 1544.3,585.6 1549.0,587.2 1553.7,587.3"/><polyline clip-path="url(#ckdj)" fill="none" stroke="#ffa91a" stroke-width="1" stroke-linejoin="round" points="-4.7,586.6 -0.0,589.5 4.7,592.3 9.4,592.9 14.1,593.5 18.8,594.2 23.5,594.3 28.2,595.3 32.9,593.4 37.6,589.6 42.3,584.1 47.0,578.3 51.8,573.0 56.5,569.6 61.2,567.4 65.9,564.7 70.6,564.3 75.3,566.8 80.0,567.9 84.7,569.0 89.4,570.7 94.1,575.1 98.8,579.6 103.5,583.3 108.3,585.8 113.0,588.0 117.7,590.6 122.4,592.8 127.1,594.1 131.8,595.3 136.5,594.6 141.2,591.0 145.9,585.3 150.6,579.2 155.3,575.8 160.0,574.7 164.8,575.4 169.5,575.7 174.2,574.8 178.9,576.5 183.6,580.2 188.3,584.6 193.0,588.6 197.7,590.0 202.4,590.2 207.1,590.0 211.8,588.6 216.5,586.3 221.3,584.5 226.0,584.6 230.7,584.0 235.4,583.6 240.1,582.0 244.8,581.2 249.5,582.6 254.2,582.1 258.9,579.9 263.6,575.8 268.3,572.5 273.0,570.8 277.8,570.2 282.5,570.8 287.2,574.3 291.9,579.2 296.6,583.2 301.3,587.3 306.0,590.3 310.7,592.3 315.4,594.5 320.1,596.6 324.8,596.4 329.5,593.1 334.3,588.3 339.0,582.4 343.7,576.3 348.4,570.8 353.1,568.0 357.8,565.5 362.5,562.9 367.2,561.1 371.9,560.6 376.6,561.2 381.3,560.6 386.0,560.8 390.8,561.2 395.5,560.3 400.2,562.3 404.9,563.5 409.6,562.7 414.3,563.7 419.0,568.6 423.7,573.1 428.4,576.5 433.1,578.1 437.8,579.6 442.5,580.5 447.3,581.2 452.0,581.6 456.7,580.7 461.4,578.1 466.1,576.5 470.8,573.2 475.5,570.5 480.2,569.4 484.9,569.7 489.6,570.1 494.3,569.8 499.0,570.2 503.8,570.6 508.5,571.9 513.2,574.2 517.9,577.0 522.6,579.8 527.3,578.6 532.0,575.5 536.7,573.6 541.4,571.9 546.1,570.7 550.8,568.6 555.5,570.7 560.3,572.7 565.0,574.4 569.7,577.1 574.4,579.4 579.1,581.3 583.8,582.6 588.5,579.8 593.2,576.2 597.9,572.1 602.6,568.9 607.3,566.5 612.0,565.6 616.8,565.6 621.5,564.1 626.2,564.3 630.9,565.9 635.6,569.6 640.3,574.9 645.0,579.0 649.7,582.0 654.4,583.9 659.1,585.4 663.8,587.0 668.5,588.5 673.3,589.2 678.0,586.3 682.7,585.8 687.4,587.0 692.1,589.4 696.8,592.2 701.5,594.2 706.2,596.1 710.9,597.3 715.6,598.0 720.3,598.2 725.0,598.7 729.8,599.6 734.5,598.0 739.2,594.3 743.9,589.4 748.6,584.1 753.3,583.9 758.0,583.4 762.7,581.2 767.4,579.6 772.1,578.2 776.8,578.0 781.5,577.8 786.3,578.4 791.0,579.1 795.7,579.3 800.4,578.2 805.1,578.6 809.8,576.0 814.5,574.2 819.2,576.8 823.9,579.9 828.6,583.5 833.3,587.3 838.0,590.8 842.8,593.8 847.5,595.0 852.2,596.4 856.9,597.5 861.6,594.6 866.3,593.7 871.0,594.5 875.7,595.6 880.4,595.4 885.1,595.7 889.8,595.5 894.5,595.1 899.3,593.4 904.0,591.3 908.7,589.7 913.4,587.4 918.1,582.8 922.8,577.2 927.5,572.3 932.2,568.7 936.9,565.5 941.6,563.3 946.3,561.9 951.0,560.8 955.8,562.8 960.5,563.9 965.2,563.3 969.9,561.9 974.6,560.1 979.3,558.5 984.0,557.1 988.7,556.2 993.4,555.1 998.1,555.0 1002.8,556.2 1007.5,558.8 1012.3,562.0 1017.0,564.8 1021.7,568.9 1026.4,572.6 1031.1,575.9 1035.8,577.6 1040.5,577.2 1045.2,578.6 1049.9,579.4 1054.6,580.8 1059.3,581.9 1064.0,584.7 1068.8,586.5 1073.5,587.8 1078.2,589.9 1082.9,589.5 1087.6,590.8 1092.3,591.9 1097.0,592.9 1101.7,592.0 1106.4,590.5 1111.1,589.5 1115.8,589.9 1120.5,590.2 1125.3,590.0 1130.0,588.6 1134.7,586.2 1139.4,583.9 1144.1,580.6 1148.8,577.5 1153.5,574.6 1158.2,570.8 1162.9,569.3 1167.6,568.3 1172.3,569.6 1177.0,573.8 1181.8,579.1 1186.5,583.1 1191.2,586.7 1195.9,588.3 1200.6,588.0 1205.3,586.5 1210.0,583.8 1214.7,579.1 1219.4,574.0 1224.1,569.2 1228.8,565.1 1233.5,561.7 1238.3,559.7 1243.0,559.0 1247.7,560.3 1252.4,562.0 1257.1,565.9 1261.8,571.7 1266.5,577.6 1271.2,583.2 1275.9,587.8 1280.6,591.1 1285.3,592.6 1290.0,593.4 1294.8,593.4 1299.5,594.3 1304.2,594.1 1308.9,594.4 1313.6,593.7 1318.3,593.4 1323.0,592.4 1327.7,590.9 1332.4,588.7 1337.1,586.4 1341.8,583.1 1346.5,578.4 1351.3,573.9 1356.0,570.8 1360.7,571.8 1365.4,572.9 1370.1,576.7 1374.8,579.9 1379.5,582.3 1384.2,583.6 1388.9,584.8 1393.6,585.3 1398.3,583.9 1403.0,583.6 1407.8,581.9 1412.5,577.9 1417.2,574.8 1421.9,571.2 1426.6,569.7 1431.3,567.8 1436.0,565.7 1440.7,564.4 1445.4,562.4 1450.1,560.3 1454.8,559.1 1459.5,558.7 1464.3,558.3 1469.0,559.2 1473.7,559.0 1478.4,559.9 1483.1,560.5 1487.8,561.0 1492.5,561.1 1497.2,561.3 1501.9,561.2 1506.6,560.4 1511.3,560.8 1516.0,560.8 1520.8,562.2 1525.5,564.5 1530.2,568.8 1534.9,569.5 1539.6,573.1 1544.3,577.3 1549.0,580.6 1553.7,582.8"/><polyline clip-path="url(#ckdj)" fill="none" stroke="#e957c3" stroke-width="1" stroke-linejoin="round" points="-4.7,601.4 -0.0,606.9 4.7,609.3 9.4,596.6 14.1,597.4 18.8,597.9 23.5,595.4 28.2,601.2 32.9,582.1 37.6,566.4 42.3,551.1 47.0,543.5 51.8,541.3 56.5,549.5 61.2,554.0 65.9,548.6 70.6,561.6 75.3,581.6 80.0,574.5 84.7,575.7 89.4,581.3 94.1,601.0 98.8,607.1 103.5,605.6 108.3,600.7 113.0,600.8 117.7,606.2 122.4,606.2 127.1,602.2 131.8,602.3 136.5,590.2 141.2,569.4 145.9,551.5 150.6,542.5 155.3,555.1 160.0,568.1 164.8,580.0 169.5,577.0 174.2,570.0 178.9,586.2 183.6,602.9 188.3,610.7 193.0,612.9 197.7,598.4 202.4,591.0 207.1,588.9 211.8,580.2 216.5,572.8 221.3,573.2 226.0,585.3 230.7,580.7 235.4,581.0 240.1,572.3 244.8,576.3 249.5,590.9 254.2,579.4 258.9,566.4 263.6,551.1 268.3,552.8 273.0,560.7 277.8,566.7 282.5,574.6 287.2,594.9 291.9,608.9 296.6,606.8 301.3,611.9 306.0,608.1 310.7,604.6 315.4,607.7 320.1,608.9 324.8,595.5 329.5,573.3 334.3,559.7 339.0,546.5 343.7,540.2 348.4,537.7 353.1,551.1 357.8,550.8 362.5,547.0 367.2,550.5 371.9,557.4 376.6,564.8 381.3,557.2 386.0,561.6 390.8,563.8 395.5,555.3 400.2,574.2 404.9,570.4 409.6,558.2 414.3,569.7 419.0,598.0 423.7,600.1 428.4,596.8 433.1,587.9 437.8,588.2 442.5,586.4 447.3,585.5 452.0,583.8 456.7,575.4 461.4,562.3 466.1,566.8 470.8,553.5 475.5,554.3 480.2,562.5 484.9,572.0 489.6,572.5 494.3,568.1 499.0,572.3 503.8,573.0 508.5,579.7 513.2,588.3 517.9,593.3 522.6,596.5 527.3,571.8 532.0,557.0 536.7,562.1 541.4,561.4 546.1,563.5 550.8,556.3 555.5,583.2 560.3,584.4 565.0,584.9 569.7,593.5 574.4,593.1 579.1,592.9 583.8,590.5 588.5,563.0 593.2,554.1 597.9,547.9 602.6,549.4 607.3,552.4 612.0,560.1 616.8,565.5 621.5,555.3 626.2,565.2 630.9,575.6 635.6,592.1 640.3,606.2 645.0,603.9 649.7,599.9 654.4,595.4 659.1,594.5 663.8,596.8 668.5,597.4 673.3,592.9 678.0,569.2 682.7,582.8 687.4,594.0 692.1,604.3 696.8,608.8 701.5,605.9 706.2,607.8 710.9,604.3 715.6,602.2 720.3,599.6 725.0,602.0 729.8,604.6 734.5,588.5 739.2,572.2 743.9,560.2 748.6,552.3 753.3,582.2 758.0,580.4 762.7,568.0 767.4,569.9 772.1,569.8 776.8,576.7 781.5,576.6 786.3,582.6 791.0,582.9 795.7,580.4 800.4,572.0 805.1,581.1 809.8,560.2 814.5,563.2 819.2,592.3 823.9,598.5 828.6,605.2 833.3,610.2 838.0,611.6 842.8,611.8 847.5,602.3 852.2,604.5 856.9,604.5 861.6,577.3 866.3,588.4 871.0,599.0 875.7,602.4 880.4,593.8 885.1,597.8 889.8,594.4 894.5,592.3 899.3,583.8 904.0,578.4 908.7,580.0 913.4,573.8 918.1,555.2 922.8,543.6 927.5,543.0 932.2,546.8 936.9,546.2 941.6,550.6 946.3,553.5 951.0,553.8 955.8,575.2 960.5,570.1 965.2,560.0 969.9,553.6 974.6,549.4 979.3,548.6 984.0,548.7 988.7,550.5 993.4,548.9 998.1,554.2 1002.8,563.7 1007.5,574.0 1012.3,581.1 1017.0,582.0 1021.7,593.2 1026.4,595.3 1031.1,595.3 1035.8,588.1 1040.5,574.9 1045.2,586.7 1049.9,584.0 1054.6,589.1 1059.3,588.8 1064.0,601.2 1068.8,597.7 1073.5,595.7 1078.2,602.6 1082.9,586.6 1087.6,599.0 1092.3,598.6 1097.0,599.1 1101.7,586.2 1106.4,581.4 1111.1,583.9 1115.8,591.8 1120.5,592.5 1125.3,588.7 1130.0,580.1 1134.7,572.1 1139.4,569.7 1144.1,561.1 1148.8,559.0 1153.5,557.3 1158.2,548.1 1162.9,560.2 1167.6,562.4 1172.3,576.9 1177.0,599.5 1181.8,611.0 1186.5,606.9 1191.2,608.0 1195.9,598.3 1200.6,586.2 1205.3,577.6 1210.0,567.3 1214.7,550.7 1219.4,543.6 1224.1,540.6 1228.8,540.5 1233.5,541.6 1238.3,547.6 1243.0,554.9 1247.7,567.8 1252.4,572.4 1257.1,589.2 1261.8,606.1 1266.5,613.4 1271.2,616.9 1275.9,615.5 1280.6,610.8 1285.3,601.7 1290.0,598.0 1294.8,593.4 1299.5,600.1 1304.2,592.3 1308.9,596.6 1313.6,589.1 1318.3,592.1 1323.0,586.3 1327.7,582.0 1332.4,575.1 1337.1,573.0 1341.8,563.1 1346.5,550.4 1351.3,546.5 1356.0,552.2 1360.7,578.3 1365.4,579.4 1370.1,599.1 1374.8,599.1 1379.5,596.7 1384.2,591.7 1388.9,592.2 1393.6,588.4 1398.3,575.4 1403.0,581.6 1407.8,571.6 1412.5,554.1 1417.2,556.2 1421.9,549.8 1426.6,560.4 1431.3,556.2 1436.0,553.6 1440.7,556.6 1445.4,549.9 1450.1,547.7 1454.8,552.1 1459.5,556.4 1464.3,556.0 1469.0,564.3 1473.7,557.8 1478.4,565.3 1483.1,564.2 1487.8,563.8 1492.5,561.7 1497.2,562.3 1501.9,560.9 1506.6,555.9 1511.3,562.7 1516.0,560.8 1520.8,570.7 1525.5,578.7 1530.2,594.5 1534.9,573.2 1539.6,594.8 1544.3,602.3 1549.0,600.5 1553.7,596.4"/><polyline clip-path="url(#crsi)" fill="none" stroke="#2fd2b1" stroke-width="1" stroke-linejoin="round" points="-4.7,715.5 -0.0,723.0 4.7,723.3 9.4,695.0 14.1,709.9 18.8,710.4 23.5,706.8 28.2,718.2 32.9,695.3 37.6,689.6 42.3,680.6 47.0,678.9 51.8,676.9 56.5,689.6 61.2,688.5 65.9,656.5 70.6,677.8 75.3,690.9 80.0,672.5 84.7,679.7 89.4,687.9 94.1,716.7 98.8,727.0 103.5,721.5 108.3,712.8 113.0,718.8 117.7,725.1 122.4,721.7 127.1,712.5 131.8,717.2 136.5,704.1 141.2,693.8 145.9,685.7 150.6,676.4 155.3,697.1 160.0,702.9 164.8,704.3 169.5,692.0 174.2,684.2 178.9,698.7 183.6,713.7 188.3,730.6 193.0,735.3 197.7,703.4 202.4,719.5 207.1,721.7 211.8,700.5 216.5,693.2 221.3,706.6 226.0,719.9 230.7,706.2 235.4,708.6 240.1,694.9 244.8,699.6 249.5,726.2 254.2,697.3 258.9,690.3 263.6,682.8 268.3,693.3 273.0,700.2 277.8,701.9 282.5,707.7 287.2,722.7 291.9,728.1 296.6,712.2 301.3,719.1 306.0,708.7 310.7,716.9 315.4,723.1 320.1,725.9 324.8,701.3 329.5,695.5 334.3,693.2 339.0,685.7 343.7,669.9 348.4,665.5 353.1,688.8 357.8,678.8 362.5,668.3 367.2,675.2 371.9,681.1 376.6,686.4 381.3,673.8 386.0,681.9 390.8,681.9 395.5,669.7 400.2,692.3 404.9,681.2 409.6,669.9 414.3,686.9 419.0,711.5 423.7,700.2 428.4,697.0 433.1,690.2 437.8,696.5 442.5,694.5 447.3,694.8 452.0,693.0 456.7,691.7 461.4,685.1 466.1,691.3 470.8,669.7 475.5,667.8 480.2,680.5 484.9,686.8 489.6,681.1 494.3,675.4 499.0,686.7 503.8,684.4 508.5,686.3 513.2,687.9 517.9,706.0 522.6,707.6 527.3,674.5 532.0,666.7 536.7,685.9 541.4,681.3 546.1,684.8 550.8,673.9 555.5,711.0 560.3,696.4 565.0,696.4 569.7,705.8 574.4,699.8 579.1,700.9 583.8,697.7 588.5,662.4 593.2,667.5 597.9,664.6 602.6,657.5 607.3,661.7 612.0,677.7 616.8,681.0 621.5,657.1 626.2,687.8 630.9,689.9 635.6,704.7 640.3,715.6 645.0,715.6 649.7,711.1 654.4,705.8 659.1,710.3 663.8,716.8 668.5,721.5 673.3,727.4 678.0,677.7 682.7,709.9 687.4,713.3 692.1,726.8 696.8,738.9 701.5,738.9 706.2,741.6 710.9,742.2 715.6,742.2 720.3,733.6 725.0,739.1 729.8,742.0 734.5,697.2 739.2,699.5 743.9,693.3 748.6,687.3 753.3,731.0 758.0,706.6 762.7,691.5 767.4,700.3 772.1,697.9 776.8,706.0 781.5,699.3 786.3,707.4 791.0,704.4 795.7,706.6 800.4,689.1 805.1,703.5 809.8,685.7 814.5,696.4 819.2,728.0 823.9,715.6 828.6,718.7 833.3,722.8 838.0,724.7 842.8,725.1 847.5,703.3 852.2,713.4 856.9,712.4 861.6,695.4 866.3,717.4 871.0,726.8 875.7,734.2 880.4,725.9 885.1,732.3 889.8,725.5 894.5,729.5 899.3,704.9 904.0,700.8 908.7,714.5 913.4,708.3 918.1,690.2 922.8,682.2 927.5,687.4 932.2,688.9 936.9,682.3 941.6,691.0 946.3,691.0 951.0,686.8 955.8,706.3 960.5,683.9 965.2,672.1 969.9,667.2 974.6,663.4 979.3,655.8 984.0,653.5 988.7,657.9 993.4,651.3 998.1,669.7 1002.8,677.1 1007.5,681.3 1012.3,681.3 1017.0,674.7 1021.7,683.7 1026.4,702.6 1031.1,702.6 1035.8,687.6 1040.5,672.2 1045.2,707.8 1049.9,696.5 1054.6,703.7 1059.3,699.9 1064.0,713.4 1068.8,698.7 1073.5,699.1 1078.2,717.6 1082.9,690.3 1087.6,714.8 1092.3,716.4 1097.0,730.5 1101.7,704.0 1106.4,706.0 1111.1,711.8 1115.8,718.8 1120.5,710.7 1125.3,701.7 1130.0,704.0 1134.7,697.2 1139.4,693.3 1144.1,682.4 1148.8,680.5 1153.5,678.2 1158.2,665.3 1162.9,695.0 1167.6,688.2 1172.3,706.2 1177.0,717.2 1181.8,722.0 1186.5,727.4 1191.2,736.3 1195.9,709.2 1200.6,695.1 1205.3,695.9 1210.0,685.1 1214.7,663.9 1219.4,661.3 1224.1,653.4 1228.8,650.5 1233.5,649.7 1238.3,660.7 1243.0,672.5 1247.7,692.5 1252.4,685.9 1257.1,691.9 1261.8,697.6 1266.5,698.9 1271.2,708.6 1275.9,709.9 1280.6,705.5 1285.3,696.3 1290.0,700.2 1294.8,695.0 1299.5,722.3 1304.2,706.4 1308.9,716.8 1313.6,711.0 1318.3,717.3 1323.0,703.5 1327.7,700.6 1332.4,691.4 1337.1,692.9 1341.8,692.9 1346.5,673.8 1351.3,669.0 1356.0,682.9 1360.7,713.7 1365.4,695.6 1370.1,713.9 1374.8,707.0 1379.5,704.5 1384.2,698.8 1388.9,704.2 1393.6,696.7 1398.3,683.6 1403.0,706.8 1407.8,694.3 1412.5,673.6 1417.2,684.5 1421.9,660.5 1426.6,658.0 1431.3,648.6 1436.0,648.0 1440.7,662.0 1445.4,649.6 1450.1,647.2 1454.8,656.0 1459.5,661.5 1464.3,656.7 1469.0,663.1 1473.7,644.4 1478.4,667.6 1483.1,663.2 1487.8,661.8 1492.5,660.3 1497.2,665.3 1501.9,663.2 1506.6,657.8 1511.3,683.9 1516.0,670.7 1520.8,683.3 1525.5,681.5 1530.2,691.5 1534.9,674.9 1539.6,715.7 1544.3,712.1 1549.0,705.6 1553.7,702.1"/><polyline clip-path="url(#crsi)" fill="none" stroke="#ffa91a" stroke-width="1" stroke-linejoin="round" points="-4.7,704.4 -0.0,710.1 4.7,710.3 9.4,696.0 14.1,704.8 18.8,705.1 23.5,703.4 28.2,709.8 32.9,698.3 37.6,695.2 42.3,690.1 47.0,689.1 51.8,688.0 56.5,692.9 61.2,692.4 65.9,673.1 70.6,683.3 75.3,690.2 80.0,679.2 84.7,683.0 89.4,687.3 94.1,705.6 98.8,714.1 103.5,711.2 108.3,706.8 113.0,710.6 117.7,714.8 122.4,713.3 127.1,709.2 131.8,711.6 136.5,705.8 141.2,700.9 145.9,696.9 150.6,691.8 155.3,699.9 160.0,702.6 164.8,703.2 169.5,697.9 174.2,694.2 178.9,699.7 183.6,706.8 188.3,717.9 193.0,721.8 197.7,705.1 202.4,715.0 207.1,716.4 211.8,704.5 216.5,700.1 221.3,707.0 226.0,714.9 230.7,707.3 235.4,708.6 240.1,701.2 244.8,703.3 249.5,718.8 254.2,701.4 258.9,696.9 263.6,692.0 268.3,697.3 273.0,700.8 277.8,701.7 282.5,704.5 287.2,713.2 291.9,716.8 296.6,709.4 301.3,713.2 306.0,708.3 310.7,712.5 315.4,715.9 320.1,717.6 324.8,706.1 329.5,703.2 334.3,702.0 339.0,698.3 343.7,689.1 348.4,686.1 353.1,695.0 357.8,689.5 362.5,683.0 367.2,685.8 371.9,688.1 376.6,690.2 381.3,684.1 386.0,687.2 390.8,687.2 395.5,681.5 400.2,690.5 404.9,685.5 409.6,679.5 414.3,687.0 419.0,700.7 423.7,695.4 428.4,693.9 433.1,690.7 437.8,693.6 442.5,692.8 447.3,692.9 452.0,692.3 456.7,691.9 461.4,689.7 466.1,691.5 470.8,683.2 475.5,682.3 480.2,686.1 484.9,688.2 489.6,686.2 494.3,684.1 499.0,687.5 503.8,686.7 508.5,687.3 513.2,687.7 517.9,693.3 522.6,693.8 527.3,683.5 532.0,679.9 536.7,686.6 541.4,684.8 546.1,686.0 550.8,681.7 555.5,698.3 560.3,692.2 565.0,692.2 569.7,696.7 574.4,694.4 579.1,694.9 583.8,693.8 588.5,676.8 593.2,678.9 597.9,677.1 602.6,672.6 607.3,674.2 612.0,680.3 616.8,681.6 621.5,668.9 626.2,684.3 630.9,685.5 635.6,694.0 640.3,701.3 645.0,701.3 649.7,699.5 654.4,697.5 659.1,699.8 663.8,703.1 668.5,705.7 673.3,709.3 678.0,686.8 682.7,704.8 687.4,707.1 692.1,716.8 696.8,728.0 701.5,728.0 706.2,730.7 710.9,731.3 715.6,731.3 720.3,727.5 725.0,731.0 729.8,733.2 734.5,708.8 739.2,709.8 743.9,706.2 748.6,702.5 753.3,726.1 758.0,710.1 762.7,699.4 767.4,704.4 772.1,702.9 776.8,707.2 781.5,703.4 786.3,707.5 791.0,706.0 795.7,707.0 800.4,698.4 805.1,704.7 809.8,695.2 814.5,700.0 819.2,719.3 823.9,712.3 828.6,714.3 833.3,716.8 838.0,718.0 842.8,718.2 847.5,708.1 852.2,712.7 856.9,712.3 861.6,704.2 866.3,714.5 871.0,720.2 875.7,725.5 880.4,721.3 885.1,725.4 889.8,722.1 894.5,724.4 899.3,711.8 904.0,709.6 908.7,715.6 913.4,712.5 918.1,702.7 922.8,697.8 927.5,699.7 932.2,700.3 936.9,696.9 941.6,699.9 946.3,699.9 951.0,698.1 955.8,704.7 960.5,694.8 965.2,688.1 969.9,685.1 974.6,682.6 979.3,677.1 984.0,675.2 988.7,676.7 993.4,671.9 998.1,678.5 1002.8,681.4 1007.5,682.9 1012.3,682.9 1017.0,680.5 1021.7,683.5 1026.4,690.9 1031.1,690.9 1035.8,686.1 1040.5,680.0 1045.2,696.4 1049.9,691.6 1054.6,695.4 1059.3,693.9 1064.0,701.1 1068.8,694.9 1073.5,695.1 1078.2,705.0 1082.9,692.2 1087.6,706.7 1092.3,707.8 1097.0,718.4 1101.7,703.6 1106.4,704.8 1111.1,708.1 1115.8,712.3 1120.5,708.4 1125.3,703.9 1130.0,705.0 1134.7,701.8 1139.4,700.1 1144.1,694.8 1148.8,693.9 1153.5,692.8 1158.2,685.8 1162.9,696.7 1167.6,693.5 1172.3,701.7 1177.0,707.8 1181.8,710.7 1186.5,714.2 1191.2,721.2 1195.9,708.1 1200.6,700.3 1205.3,700.7 1210.0,694.8 1214.7,680.3 1219.4,678.2 1224.1,671.4 1228.8,668.6 1233.5,667.8 1238.3,672.3 1243.0,677.2 1247.7,686.8 1252.4,683.8 1257.1,686.7 1261.8,689.4 1266.5,690.0 1271.2,694.7 1275.9,695.3 1280.6,694.0 1285.3,691.2 1290.0,692.6 1294.8,691.1 1299.5,703.6 1304.2,698.1 1308.9,703.6 1313.6,701.4 1318.3,704.7 1323.0,699.6 1327.7,698.5 1332.4,695.0 1337.1,695.5 1341.8,695.5 1346.5,687.9 1351.3,685.6 1356.0,689.9 1360.7,703.1 1365.4,695.3 1370.1,705.1 1374.8,702.0 1379.5,700.9 1384.2,698.5 1388.9,700.8 1393.6,697.8 1398.3,692.1 1403.0,702.0 1407.8,696.4 1412.5,684.9 1417.2,689.9 1421.9,673.6 1426.6,671.6 1431.3,663.0 1436.0,662.4 1440.7,669.2 1445.4,659.8 1450.1,657.6 1454.8,662.1 1459.5,664.8 1464.3,662.1 1469.0,665.0 1473.7,652.4 1478.4,666.1 1483.1,663.5 1487.8,662.7 1492.5,661.9 1497.2,664.3 1501.9,663.4 1506.6,660.9 1511.3,673.4 1516.0,667.9 1520.8,674.5 1525.5,673.8 1530.2,678.9 1534.9,672.3 1539.6,698.6 1544.3,696.9 1549.0,694.0 1553.7,692.5"/><polyline clip-path="url(#crsi)" fill="none" stroke="#e957c3" stroke-width="1" stroke-linejoin="round" points="-4.7,690.5 -0.0,695.2 4.7,695.4 9.4,687.9 14.1,694.4 18.8,694.6 23.5,693.7 28.2,698.3 32.9,692.3 37.6,690.5 42.3,687.7 47.0,687.2 51.8,686.6 56.5,689.3 61.2,689.1 65.9,678.3 70.6,684.0 75.3,688.1 80.0,681.5 84.7,683.7 89.4,686.2 94.1,698.1 98.8,704.4 103.5,702.8 108.3,700.4 113.0,703.0 117.7,706.0 122.4,705.2 127.1,703.1 131.8,704.6 136.5,701.7 141.2,699.1 145.9,697.0 150.6,694.3 155.3,698.6 160.0,700.0 164.8,700.3 169.5,697.7 174.2,695.9 178.9,698.6 183.6,702.3 188.3,709.0 193.0,711.6 197.7,703.0 202.4,709.2 207.1,710.2 211.8,703.6 216.5,701.0 221.3,705.0 226.0,710.1 230.7,705.7 235.4,706.5 240.1,702.3 244.8,703.5 249.5,713.1 254.2,702.6 258.9,699.6 263.6,696.4 268.3,699.5 273.0,701.6 277.8,702.1 282.5,703.7 287.2,708.9 291.9,711.3 296.6,707.2 301.3,709.5 306.0,706.8 310.7,709.3 315.4,711.4 320.1,712.4 324.8,706.3 329.5,704.7 334.3,704.1 339.0,702.1 343.7,697.0 348.4,695.2 353.1,699.3 357.8,696.2 362.5,692.4 367.2,693.6 371.9,694.7 376.6,695.6 381.3,692.3 386.0,693.7 390.8,693.7 395.5,690.7 400.2,694.5 404.9,691.9 409.6,688.7 414.3,691.9 419.0,698.6 423.7,695.9 428.4,695.1 433.1,693.5 437.8,694.9 442.5,694.5 447.3,694.6 452.0,694.3 456.7,694.1 461.4,693.2 466.1,693.9 470.8,690.3 475.5,689.9 480.2,691.3 484.9,692.0 489.6,691.2 494.3,690.4 499.0,691.5 503.8,691.2 508.5,691.4 513.2,691.5 517.9,693.2 522.6,693.4 527.3,689.9 532.0,688.6 536.7,690.6 541.4,690.0 546.1,690.3 550.8,688.8 555.5,694.4 560.3,692.2 565.0,692.2 569.7,693.8 574.4,693.1 579.1,693.2 583.8,692.9 588.5,686.5 593.2,687.1 597.9,686.4 602.6,684.4 607.3,684.9 612.0,686.8 616.8,687.2 621.5,681.6 626.2,687.3 630.9,687.7 635.6,691.3 640.3,694.6 645.0,694.6 649.7,693.9 654.4,693.2 659.1,694.1 663.8,695.5 668.5,696.7 673.3,698.3 678.0,689.7 682.7,698.3 687.4,699.5 692.1,705.4 696.8,713.8 701.5,713.8 706.2,716.0 710.9,716.5 715.6,716.5 720.3,714.9 725.0,717.5 729.8,719.2 734.5,707.4 739.2,708.0 743.9,706.1 748.6,704.3 753.3,718.7 758.0,709.1 762.7,702.2 767.4,705.3 772.1,704.3 776.8,706.9 781.5,704.7 786.3,707.0 791.0,706.2 795.7,706.7 800.4,702.0 805.1,705.2 809.8,699.8 814.5,702.3 819.2,714.2 823.9,710.0 828.6,711.3 833.3,713.0 838.0,713.7 842.8,713.8 847.5,708.4 852.2,711.0 856.9,710.8 861.6,706.4 866.3,712.1 871.0,715.6 875.7,719.2 880.4,716.9 885.1,719.7 889.8,717.9 894.5,719.3 899.3,712.5 904.0,711.2 908.7,714.5 913.4,712.9 918.1,707.3 922.8,704.5 927.5,705.4 932.2,705.6 936.9,703.8 941.6,705.1 946.3,705.1 951.0,704.2 955.8,707.0 960.5,702.1 965.2,698.4 969.9,696.7 974.6,695.3 979.3,692.0 984.0,690.9 988.7,691.4 993.4,688.6 998.1,691.0 1002.8,692.1 1007.5,692.6 1012.3,692.6 1017.0,691.4 1021.7,692.5 1026.4,695.1 1031.1,695.1 1035.8,693.1 1040.5,690.3 1045.2,696.6 1049.9,694.5 1054.6,696.1 1059.3,695.4 1064.0,698.5 1068.8,695.9 1073.5,696.0 1078.2,700.3 1082.9,694.7 1087.6,701.9 1092.3,702.4 1097.0,708.8 1101.7,701.4 1106.4,702.1 1111.1,703.9 1115.8,706.4 1120.5,704.4 1125.3,702.3 1130.0,702.8 1134.7,701.3 1139.4,700.5 1144.1,698.0 1148.8,697.6 1153.5,697.1 1158.2,693.8 1162.9,698.3 1167.6,696.8 1172.3,700.4 1177.0,703.4 1181.8,705.0 1186.5,706.9 1191.2,711.0 1195.9,705.0 1200.6,701.0 1205.3,701.2 1210.0,698.3 1214.7,690.0 1219.4,688.7 1224.1,684.2 1228.8,682.3 1233.5,681.7 1238.3,683.7 1243.0,685.8 1247.7,690.1 1252.4,688.6 1257.1,689.9 1261.8,691.1 1266.5,691.4 1271.2,693.5 1275.9,693.8 1280.6,693.2 1285.3,692.1 1290.0,692.6 1294.8,692.0 1299.5,697.3 1304.2,695.1 1308.9,697.6 1313.6,696.8 1318.3,698.3 1323.0,696.4 1327.7,695.9 1332.4,694.6 1337.1,694.8 1341.8,694.8 1346.5,692.0 1351.3,691.0 1356.0,692.5 1360.7,697.6 1365.4,694.6 1370.1,699.0 1374.8,697.7 1379.5,697.3 1384.2,696.4 1388.9,697.3 1393.6,696.2 1398.3,694.1 1403.0,698.0 1407.8,695.8 1412.5,690.8 1417.2,692.8 1421.9,684.3 1426.6,683.1 1431.3,677.3 1436.0,676.8 1440.7,679.7 1445.4,673.2 1450.1,671.6 1454.8,673.6 1459.5,674.8 1464.3,673.0 1469.0,674.3 1473.7,665.0 1478.4,672.2 1483.1,670.4 1487.8,669.9 1492.5,669.3 1497.2,670.5 1501.9,669.9 1506.6,668.4 1511.3,674.4 1516.0,671.4 1520.8,674.8 1525.5,674.4 1530.2,677.0 1534.9,673.7 1539.6,688.9 1544.3,688.1 1549.0,686.7 1553.7,686.0"/><line x1="0" y1="248.5" x2="1661.5" y2="248.5" stroke="#26b28e" stroke-width="1" stroke-dasharray="4,4"/><text x="1699" y="51.9" font-family='"Liberation Sans","Noto Sans CJK SC",sans-serif' font-size="12" fill="#8a909c" font-weight="normal" text-anchor="middle">116000.00</text><text x="1699" y="88.9" font-family='"Liberation Sans","Noto Sans CJK SC",sans-serif' font-size="12" fill="#8a909c" font-weight="normal" text-anchor="middle">114000.00</text><text x="1699" y="126.9" font-family='"Liberation Sans","Noto Sans CJK SC",sans-serif' font-size="12" fill="#8a909c" font-weight="normal" text-anchor="middle">112000.00</text><text x="1699" y="164.9" font-family='"Liberation Sans","Noto Sans CJK SC",sans-serif' font-size="12" fill="#8a909c" font-weight="normal" text-anchor="middle">110000.00</text><text x="1699" y="201.9" font-family='"Liberation Sans","Noto Sans CJK SC",sans-serif' font-size="12" fill="#8a909c" font-weight="normal" text-anchor="middle">108000.00</text><text x="1699" y="239.9" font-family='"Liberation Sans","Noto Sans CJK SC",sans-serif' font-size="12" fill="#8a909c" font-weight="normal" text-anchor="middle">106000.00</text><text x="1699" y="277.9" font-family='"Liberation Sans","Noto Sans CJK SC",sans-serif' font-size="12" fill="#8a909c" font-weight="normal" text-anchor="middle">104000.00</text><text x="1699" y="314.9" font-family='"Liberation Sans","Noto Sans CJK SC",sans-serif' font-size="12" fill="#8a909c" font-weight="normal" text-anchor="middle">102000.00</text><text x="1699" y="352.9" font-family='"Liberation Sans","Noto Sans CJK SC",sans-serif' font-size="12" fill="#8a909c" font-weight="normal" text-anchor="middle">100000.00</text><text x="1699" y="390.9" font-family='"Liberation Sans","Noto Sans CJK SC",sans-serif' font-size="12" fill="#8a909c" font-weight="normal" text-anchor="middle">98000.00</text><text x="1699" y="426.9" font-family='"Liberation Sans","Noto Sans CJK SC",sans-serif' font-size="12" fill="#8a909c" font-weight="normal" text-anchor="middle">1000.00</text><text x="1699" y="461.9" font-family='"Liberation Sans","Noto Sans CJK SC",sans-serif' font-size="12" fill="#8a909c" font-weight="normal" text-anchor="middle">0.00</text><text x="1699" y="496.9" font-family='"Liberation Sans","Noto Sans CJK SC",sans-serif' font-size="12" fill="#8a909c" font-weight="normal" text-anchor="middle">-1000.00</text><text x="1699" y="553.9" font-family='"Liberation Sans","Noto Sans CJK SC",sans-serif' font-size="12" fill="#8a909c" font-weight="normal" text-anchor="middle">100.00</text><text x="1699" y="608.9" font-family='"Liberation Sans","Noto Sans CJK SC",sans-serif' font-size="12" fill="#8a909c" font-weight="normal" text-anchor="middle">0.00</text><text x="1699" y="632.9" font-family='"Liberation Sans","Noto Sans CJK SC",sans-serif' font-size="12" fill="#8a909c" font-weight="normal" text-anchor="middle">100.00</text><text x="1699" y="670.9" font-family='"Liberation Sans","Noto Sans CJK SC",sans-serif' font-size="12" fill="#8a909c" font-weight="normal" text-anchor="middle">70.00</text><text x="1699" y="695.9" font-family='"Liberation Sans","Noto Sans CJK SC",sans-serif' font-size="12" fill="#8a909c" font-weight="normal" text-anchor="middle">50.00</text><text x="1699" y="721.9" font-family='"Liberation Sans","Noto Sans CJK SC",sans-serif' font-size="12" fill="#8a909c" font-weight="normal" text-anchor="middle">30.00</text><rect x="1661.0" y="238.0" width="77.5" height="20" fill="#26b28e"/><line x1="1659" y1="248.5" x2="1666.5" y2="248.5" stroke="#ffffff" stroke-width="1"/><text x="1699" y="252.0" font-family='"Liberation Sans","Noto Sans CJK SC",sans-serif' font-size="12" fill="#ffffff" font-weight="normal" text-anchor="middle">105353.83</text><rect x="1736" y="362" width="4" height="37" rx="2" fill="#dfe1e6"/><text x="79.5" y="761" font-family='"Liberation Sans","Noto Sans CJK SC",sans-serif' font-size="12" fill="#8a909c" font-weight="normal" text-anchor="middle">10月 29</text><text x="192.5" y="761" font-family='"Liberation Sans","Noto Sans CJK SC",sans-serif' font-size="12" fill="#8a909c" font-weight="normal" text-anchor="middle">10月 30</text><text x="305.5" y="761" font-family='"Liberation Sans","Noto Sans CJK SC",sans-serif' font-size="12" fill="#8a909c" font-weight="normal" text-anchor="middle">10月 31</text><text x="418.5" y="761" font-family='"Liberation Sans","Noto Sans CJK SC",sans-serif' font-size="12" fill="#8a909c" font-weight="normal" text-anchor="middle">11月 1</text><text x="531.5" y="761" font-family='"Liberation Sans","Noto Sans CJK SC",sans-serif' font-size="12" fill="#8a909c" font-weight="normal" text-anchor="middle">11月 2</text><text x="644.5" y="761" font-family='"Liberation Sans","Noto Sans CJK SC",sans-serif' font-size="12" fill="#8a909c" font-weight="normal" text-anchor="middle">11月 3</text><text x="757.5" y="761" font-family='"Liberation Sans","Noto Sans CJK SC",sans-serif' font-size="12" fill="#8a909c" font-weight="normal" text-anchor="middle">11月 4</text><text x="870.5" y="761" font-family='"Liberation Sans","Noto Sans CJK SC",sans-serif' font-size="12" fill="#8a909c" font-weight="normal" text-anchor="middle">11月 5</text><text x="983.5" y="761" font-family='"Liberation Sans","Noto Sans CJK SC",sans-serif' font-size="12" fill="#8a909c" font-weight="normal" text-anchor="middle">11月 6</text><text x="1096.5" y="761" font-family='"Liberation Sans","Noto Sans CJK SC",sans-serif' font-size="12" fill="#8a909c" font-weight="normal" text-anchor="middle">11月 7</text><text x="1209.5" y="761" font-family='"Liberation Sans","Noto Sans CJK SC",sans-serif' font-size="12" fill="#8a909c" font-weight="normal" text-anchor="middle">11月 8</text><text x="1322.5" y="761" font-family='"Liberation Sans","Noto Sans CJK SC",sans-serif' font-size="12" fill="#8a909c" font-weight="normal" text-anchor="middle">11月 9</text><text x="1435.5" y="761" font-family='"Liberation Sans","Noto Sans CJK SC",sans-serif' font-size="12" fill="#8a909c" font-weight="normal" text-anchor="middle">11月 10</text><text x="1548.5" y="761" font-family='"Liberation Sans","Noto Sans CJK SC",sans-serif' font-size="12" fill="#8a909c" font-weight="normal" text-anchor="middle">11月 11</text><text x="1661.5" y="761" font-family='"Liberation Sans","Noto Sans CJK SC",sans-serif' font-size="12" fill="#8a909c" font-weight="normal" text-anchor="middle">11月 12</text><text x="1700" y="761" font-family='"Liberation Sans","Noto Sans CJK SC",sans-serif' font-size="12" fill="#8a909c" font-weight="normal" text-anchor="start">筹</text><text x="1721.5" y="761" font-family='"Liberation Sans","Noto Sans CJK SC",sans-serif' font-size="12" fill="#8a909c" font-weight="normal" text-anchor="start">爆</text><text x="87" y="48.5" font-family='"Liberation Sans","Noto Sans CJK SC",sans-serif' font-size="12" fill="#50545c" font-weight="normal" text-anchor="start">116086.00</text><path d="M75.5,46.5 H82.5 M78.5,43.5 L75.5,46.5 L78.5,49.5" fill="none" stroke="#50545c" stroke-width="1.1"/><text x="829.7" y="371.6" font-family='"Liberation Sans","Noto Sans CJK SC",sans-serif' font-size="12" fill="#1e2329" font-weight="normal" text-anchor="start">98944.36</text><path d="M884.5,368.5 H891.5 M888.5,365.5 L891.5,368.5 L888.5,371.5" fill="none" stroke="#1e2329" stroke-width="1.1"/><text x="-26" y="17.8" font-family='"Liberation Sans","Noto Sans CJK SC",sans-serif' font-size="12" fill="#8a909c" font-weight="normal" text-anchor="start" textLength="53.5" lengthAdjust="spacingAndGlyphs">BTCUSDT</text><text x="34.5" y="17.8" font-family='"Liberation Sans","Noto Sans CJK SC",sans-serif' font-size="12" fill="#8a909c" font-weight="normal" text-anchor="start" textLength="93.0" lengthAdjust="spacingAndGlyphs">2025-11-11 01:00</text><text x="133" y="17.8" font-family='"Liberation Sans","Noto Sans CJK SC",sans-serif' font-size="12" fill="#8a909c" font-weight="normal" text-anchor="start">开</text><text x="148.4" y="17.8" font-family='"Liberation Sans","Noto Sans CJK SC",sans-serif' font-size="12" fill="#2ab98f" font-weight="normal" text-anchor="start" textLength="56.6" lengthAdjust="spacingAndGlyphs">105242.04</text><text x="211" y="17.8" font-family='"Liberation Sans","Noto Sans CJK SC",sans-serif' font-size="12" fill="#8a909c" font-weight="normal" text-anchor="start">高</text><text x="226.8" y="17.8" font-family='"Liberation Sans","Noto Sans CJK SC",sans-serif' font-size="12" fill="#2ab98f" font-weight="normal" text-anchor="start" textLength="56.0" lengthAdjust="spacingAndGlyphs">105532.08</text><text x="289" y="17.8" font-family='"Liberation Sans","Noto Sans CJK SC",sans-serif' font-size="12" fill="#8a909c" font-weight="normal" text-anchor="start">低</text><text x="304.5" y="17.8" font-family='"Liberation Sans","Noto Sans CJK SC",sans-serif' font-size="12" fill="#2ab98f" font-weight="normal" text-anchor="start" textLength="56.0" lengthAdjust="spacingAndGlyphs">105189.01</text><text x="366" y="17.8" font-family='"Liberation Sans","Noto Sans CJK SC",sans-serif' font-size="12" fill="#8a909c" font-weight="normal" text-anchor="start">收</text><text x="382.5" y="17.8" font-family='"Liberation Sans","Noto Sans CJK SC",sans-serif' font-size="12" fill="#2ab98f" font-weight="normal" text-anchor="start" textLength="56.3" lengthAdjust="spacingAndGlyphs">105353.83</text><text x="445.3" y="17.8" font-family='"Liberation Sans","Noto Sans CJK SC",sans-serif' font-size="12" fill="#8a909c" font-weight="normal" text-anchor="start">涨幅</text><text x="471.9" y="17.8" font-family='"Liberation Sans","Noto Sans CJK SC",sans-serif' font-size="12" fill="#2ab98f" font-weight="normal" text-anchor="start" textLength="76.5" lengthAdjust="spacingAndGlyphs">0.11%(111.78)</text><text x="555.7" y="17.8" font-family='"Liberation Sans","Noto Sans CJK SC",sans-serif' font-size="12" fill="#8a909c" font-weight="normal" text-anchor="start">振幅</text><text x="582.5" y="17.8" font-family='"Liberation Sans","Noto Sans CJK SC",sans-serif' font-size="12" fill="#2ab98f" font-weight="normal" text-anchor="start" textLength="32.3" lengthAdjust="spacingAndGlyphs">0.33%</text><text x="-16" y="36" font-family='"Liberation Sans","Noto Sans CJK SC",sans-serif' font-size="12" fill="#8a909c" font-weight="normal" text-anchor="start" textLength="60.2" lengthAdjust="spacingAndGlyphs">BOLL(20,2)</text><text x="53.5" y="36" font-family='"Liberation Sans","Noto Sans CJK SC",sans-serif' font-size="12" fill="#2fd2b1" font-weight="normal" text-anchor="start" textLength="88.5" lengthAdjust="spacingAndGlyphs">BOLL:105804.25</text><text x="148.4" y="36" font-family='"Liberation Sans","Noto Sans CJK SC",sans-serif' font-size="12" fill="#ffa91a" font-weight="normal" text-anchor="start" textLength="74.7" lengthAdjust="spacingAndGlyphs">UB:106947.81</text><text x="229.5" y="36" font-family='"Liberation Sans","Noto Sans CJK SC",sans-serif' font-size="12" fill="#e957c3" font-weight="normal" text-anchor="start" textLength="73.7" lengthAdjust="spacingAndGlyphs">LB:104660.69</text><text x="-16.7" y="53.5" font-family='"Liberation Sans","Noto Sans CJK SC",sans-serif' font-size="12" fill="#8a909c" font-weight="normal" text-anchor="start" textLength="27.6" lengthAdjust="spacingAndGlyphs">EMA</text><text x="19.6" y="53.5" font-family='"Liberation Sans","Noto Sans CJK SC",sans-serif' font-size="12" fill="#c3c5cb" font-weight="normal" text-anchor="start" textLength="99.4" lengthAdjust="spacingAndGlyphs">EMA(7):105510.40</text><text x="126" y="53.5" font-family='"Liberation Sans","Noto Sans CJK SC",sans-serif' font-size="12" fill="#f4e21c" stroke="#f4e21c" stroke-width="0.45" textLength="106.5" lengthAdjust="spacingAndGlyphs">EMA(10):105583.02</text><text x="238" y="53.5" font-family='"Liberation Sans","Noto Sans CJK SC",sans-serif' font-size="12" fill="#e957c3" font-weight="normal" text-anchor="start" textLength="107.0" lengthAdjust="spacingAndGlyphs">EMA(15):105547.56</text><text x="351.4" y="53.5" font-family='"Liberation Sans","Noto Sans CJK SC",sans-serif' font-size="12" fill="#3aaee6" font-weight="normal" text-anchor="start" textLength="106.8" lengthAdjust="spacingAndGlyphs">EMA(30):105025.98</text><text x="464.3" y="53.5" font-family='"Liberation Sans","Noto Sans CJK SC",sans-serif' font-size="12" fill="#a6d98a" font-weight="normal" text-anchor="start" textLength="106.4" lengthAdjust="spacingAndGlyphs">EMA(60):104184.35</text><text x="577" y="53.5" font-family='"Liberation Sans","Noto Sans CJK SC",sans-serif' font-size="12" fill="#f59a9a" font-weight="normal" text-anchor="start" textLength="107.0" lengthAdjust="spacingAndGlyphs">EMA(80):103935.86</text><text x="689.9" y="53.5" font-family='"Liberation Sans","Noto Sans CJK SC",sans-serif' font-size="12" fill="#1fe3f0" font-weight="normal" text-anchor="start" textLength="114.1" lengthAdjust="spacingAndGlyphs">EMA(120):103914.30</text><text x="809.5" y="53.5" font-family='"Liberation Sans","Noto Sans CJK SC",sans-serif' font-size="12" fill="#ef6a10" font-weight="normal" text-anchor="start" textLength="113.8" lengthAdjust="spacingAndGlyphs">EMA(160):104200.22</text><text x="929.2" y="53.5" font-family='"Liberation Sans","Noto Sans CJK SC",sans-serif' font-size="12" fill="#c28cf7" font-weight="normal" text-anchor="start" textLength="114.2" lengthAdjust="spacingAndGlyphs">EMA(200):104576.55</text><text x="1048.9" y="53.5" font-family='"Liberation Sans","Noto Sans CJK SC",sans-serif' font-size="12" fill="#767676" font-weight="normal" text-anchor="start" textLength="113.8" lengthAdjust="spacingAndGlyphs">EMA(250):105120.30</text><text x="-15.3" y="415.9" font-family='"Liberation Sans","Noto Sans CJK SC",sans-serif' font-size="12" fill="#8a909c" font-weight="normal" text-anchor="start" textLength="81.0" lengthAdjust="spacingAndGlyphs">MACD(12,26,9)</text><text x="72.2" y="415.9" font-family='"Liberation Sans","Noto Sans CJK SC",sans-serif' font-size="12" fill="#2fd2b1" font-weight="normal" text-anchor="start" textLength="56.4" lengthAdjust="spacingAndGlyphs">DIF:409.61</text><text x="135.5" y="415.9" font-family='"Liberation Sans","Noto Sans CJK SC",sans-serif' font-size="12" fill="#ffa91a" font-weight="normal" text-anchor="start" textLength="62.1" lengthAdjust="spacingAndGlyphs">DEA:646.75</text><text x="203.7" y="415.9" font-family='"Liberation Sans","Noto Sans CJK SC",sans-serif' font-size="12" fill="#ee4656" font-weight="normal" text-anchor="start" textLength="76.8" lengthAdjust="spacingAndGlyphs">MACD:-474.28</text><text x="-15" y="533.1" font-family='"Liberation Sans","Noto Sans CJK SC",sans-serif' font-size="12" fill="#8a909c" font-weight="normal" text-anchor="start" textLength="54.9" lengthAdjust="spacingAndGlyphs">KDJ(9,3,3)</text><text x="46.6" y="533.1" font-family='"Liberation Sans","Noto Sans CJK SC",sans-serif' font-size="12" fill="#2fd2b1" font-weight="normal" text-anchor="start" textLength="39.9" lengthAdjust="spacingAndGlyphs">K:34.73</text><text x="93.2" y="533.1" font-family='"Liberation Sans","Noto Sans CJK SC",sans-serif' font-size="12" fill="#ffa91a" font-weight="normal" text-anchor="start" textLength="39.3" lengthAdjust="spacingAndGlyphs">D:41.11</text><text x="139.8" y="533.1" font-family='"Liberation Sans","Noto Sans CJK SC",sans-serif' font-size="12" fill="#e957c3" font-weight="normal" text-anchor="start" textLength="39.4" lengthAdjust="spacingAndGlyphs">J:21.96</text><text x="-14.7" y="634.1" font-family='"Liberation Sans","Noto Sans CJK SC",sans-serif' font-size="12" fill="#8a909c" font-weight="normal" text-anchor="start" textLength="64.1" lengthAdjust="spacingAndGlyphs">RSI(6,12,24)</text><text x="55.6" y="634.1" font-family='"Liberation Sans","Noto Sans CJK SC",sans-serif' font-size="12" fill="#2fd2b1" font-weight="normal" text-anchor="start" textLength="57.4" lengthAdjust="spacingAndGlyphs">RSI1:44.00</text><text x="119.1" y="634.1" font-family='"Liberation Sans","Noto Sans CJK SC",sans-serif' font-size="12" fill="#ffa91a" font-weight="normal" text-anchor="start" textLength="57.5" lengthAdjust="spacingAndGlyphs">RSI2:50.73</text><text x="183" y="634.1" font-family='"Liberation Sans","Noto Sans CJK SC",sans-serif' font-size="12" fill="#e957c3" font-weight="normal" text-anchor="start" textLength="56.6" lengthAdjust="spacingAndGlyphs">RSI3:55.56</text><line x1="39.5" y1="771" x2="39.5" y2="800" stroke="#e3e5e8" stroke-width="1"/><line x1="141" y1="771" x2="141" y2="800" stroke="#e3e5e8" stroke-width="1"/><line x1="579.5" y1="771" x2="579.5" y2="800" stroke="#e3e5e8" stroke-width="1"/><text x="-10" y="791" font-family='"Liberation Sans","Noto Sans CJK SC",sans-serif' font-size="13" fill="#1e2329" font-weight="bold" text-anchor="start">位到...</text><text x="59" y="791" font-family='"Liberation Sans","Noto Sans CJK SC",sans-serif' font-size="13" fill="#1e2329" font-weight="bold" text-anchor="start">日期范围</text><polyline points="115,783.5 118,786.5 121,783.5" fill="none" stroke="#1e2329" stroke-width="1.2"/><text x="162" y="791" font-family='"Liberation Sans","Noto Sans CJK SC",sans-serif' font-size="13" fill="#8d939e" font-weight="normal" text-anchor="start">MA</text><text x="210" y="791" font-family='"Liberation Sans","Noto Sans CJK SC",sans-serif' font-size="13" fill="#5a78f0" font-weight="normal" text-anchor="start">EMA</text><text x="265.8" y="791" font-family='"Liberation Sans","Noto Sans CJK SC",sans-serif' font-size="13" fill="#5a78f0" font-weight="normal" text-anchor="start">BOLL</text><text x="326" y="791" font-family='"Liberation Sans","Noto Sans CJK SC",sans-serif' font-size="13" fill="#8d939e" font-weight="normal" text-anchor="start">TD</text><text x="371" y="791" font-family='"Liberation Sans","Noto Sans CJK SC",sans-serif' font-size="13" fill="#8d939e" font-weight="normal" text-anchor="start">BBI</text><text x="420" y="791" font-family='"Liberation Sans","Noto Sans CJK SC",sans-serif' font-size="13" fill="#8d939e" font-weight="normal" text-anchor="start">主力大单跟踪</text><text x="599.7" y="791" font-family='"Liberation Sans","Noto Sans CJK SC",sans-serif' font-size="13" fill="#8d939e" font-weight="normal" text-anchor="start">Volume</text><text x="671.5" y="791" font-family='"Liberation Sans","Noto Sans CJK SC",sans-serif' font-size="13" fill="#8d939e" font-weight="normal" text-anchor="start">Position</text><text x="747" y="791" font-family='"Liberation Sans","Noto Sans CJK SC",sans-serif' font-size="13" fill="#5a78f0" font-weight="normal" text-anchor="start">MACD</text><text x="811.8" y="791" font-family='"Liberation Sans","Noto Sans CJK SC",sans-serif' font-size="13" fill="#5a78f0" font-weight="normal" text-anchor="start">RSI</text><text x="859.6" y="791" font-family='"Liberation Sans","Noto Sans CJK SC",sans-serif' font-size="13" fill="#5a78f0" font-weight="normal" text-anchor="start">KDJ</text><text x="910" y="791" font-family='"Liberation Sans","Noto Sans CJK SC",sans-serif' font-size="13" fill="#8d939e" font-weight="normal" text-anchor="start">爆仓统计</text><text x="990.5" y="791" font-family='"Liberation Sans","Noto Sans CJK SC",sans-serif' font-size="13" fill="#8d939e" font-weight="normal" text-anchor="start">LSUR</text><text x="1051" y="791" font-family='"Liberation Sans","Noto Sans CJK SC",sans-serif' font-size="13" fill="#8d939e" font-weight="normal" text-anchor="start">FR</text><text x="1094.9" y="791" font-family='"Liberation Sans","Noto Sans CJK SC",sans-serif' font-size="13" fill="#8d939e" font-weight="normal" text-anchor="start">Fundflow</text><text x="1178.2" y="791" font-family='"Liberation Sans","Noto Sans CJK SC",sans-serif' font-size="13" fill="#8d939e" font-weight="normal" text-anchor="start">TTMU</text><text x="1242" y="791" font-family='"Liberation Sans","Noto Sans CJK SC",sans-serif' font-size="13" fill="#8d939e" font-weight="normal" text-anchor="start">TTSI</text><text x="1296.4" y="791" font-family='"Liberation Sans","Noto Sans CJK SC",sans-serif' font-size="13" fill="#8d939e" font-weight="normal" text-anchor="start">MLR</text><text x="1350.7" y="791" font-family='"Liberation Sans","Noto Sans CJK SC",sans-serif' font-size="13" fill="#8d939e" font-weight="normal" text-anchor="start">BSV</text><text x="1402.9" y="791" font-family='"Liberation Sans","Noto Sans CJK SC",sans-serif' font-size="13" fill="#8d939e" font-weight="normal" text-anchor="start">TVolume</text><polyline points="518,781.5 522,786 518,790.5" fill="none" stroke="#8d939e" stroke-width="1.2"/><polyline points="1475,781.5 1479,786 1475,790.5" fill="none" stroke="#8d939e" stroke-width="1.2"/><path d="M1570,781 h-5.5 v10 h10 v-5.5 M1568,787 l7,-7" fill="none" stroke="#8d939e" stroke-width="1.1"/><text x="1583.9" y="791" font-family='"Liberation Sans","Noto Sans CJK SC",sans-serif' font-size="13" fill="#6b717c" font-weight="bold" text-anchor="start">社区指标</text><text x="1652.5" y="791" font-family='"Liberation Sans","Noto Sans CJK SC",sans-serif' font-size="13" fill="#8d939e" font-weight="normal" text-anchor="start">对数</text><text x="1687.4" y="791" font-family='"Liberation Sans","Noto Sans CJK SC",sans-serif' font-size="13" fill="#8d939e" font-weight="normal" text-anchor="start">%</text><text x="1708.7" y="791" font-family='"Liberation Sans","Noto Sans CJK SC",sans-serif' font-size="13" fill="#8d939e" font-weight="normal" text-anchor="start">自动</text><rect x="195" y="800" width="31.6" height="24" fill="#e9f0fc"/><text x="11.2" y="820" font-family='"Liberation Sans","Noto Sans CJK SC",sans-serif' font-size="13" fill="#1e2329" font-weight="normal" text-anchor="start">5分</text><text x="44" y="820" font-family='"Liberation Sans","Noto Sans CJK SC",sans-serif' font-size="13" fill="#1e2329" font-weight="normal" text-anchor="start">15分</text><text x="83.7" y="820" font-family='"Liberation Sans","Noto Sans CJK SC",sans-serif' font-size="13" fill="#1e2329" font-weight="normal" text-anchor="start">30分</text><text x="123.4" y="820" font-family='"Liberation Sans","Noto Sans CJK SC",sans-serif' font-size="13" fill="#1e2329" font-weight="normal" text-anchor="start">45分</text><text x="163" y="820" font-family='"Liberation Sans","Noto Sans CJK SC",sans-serif' font-size="13" fill="#1e2329" font-weight="normal" text-anchor="start">分时</text><text x="234" y="820" font-family='"Liberation Sans","Noto Sans CJK SC",sans-serif' font-size="13" fill="#1e2329" font-weight="normal" text-anchor="start">2时</text><text x="265.8" y="820" font-family='"Liberation Sans","Noto Sans CJK SC",sans-serif' font-size="13" fill="#1e2329" font-weight="normal" text-anchor="start">4时</text><text x="297.6" y="820" font-family='"Liberation Sans","Noto Sans CJK SC",sans-serif' font-size="13" fill="#1e2329" font-weight="normal" text-anchor="start">1日</text><text x="330.7" y="820" font-family='"Liberation Sans","Noto Sans CJK SC",sans-serif' font-size="13" fill="#1e2329" font-weight="normal" text-anchor="start">2日</text><text x="363.1" y="820" font-family='"Liberation Sans","Noto Sans CJK SC",sans-serif' font-size="13" fill="#1e2329" font-weight="normal" text-anchor="start">周K</text><text x="397" y="820" font-family='"Liberation Sans","Noto Sans CJK SC",sans-serif' font-size="13" fill="#1e2329" font-weight="normal" text-anchor="start">月K</text><text x="201" y="820" font-family='"Liberation Sans","Noto Sans CJK SC",sans-serif' font-size="13" fill="#5a78f0" font-weight="normal" text-anchor="start">1时</text><path d="M435,810 l9,9 M444,810 l-9,9" stroke="#1e2329" stroke-width="1.2"/></svg>
</body></html>
